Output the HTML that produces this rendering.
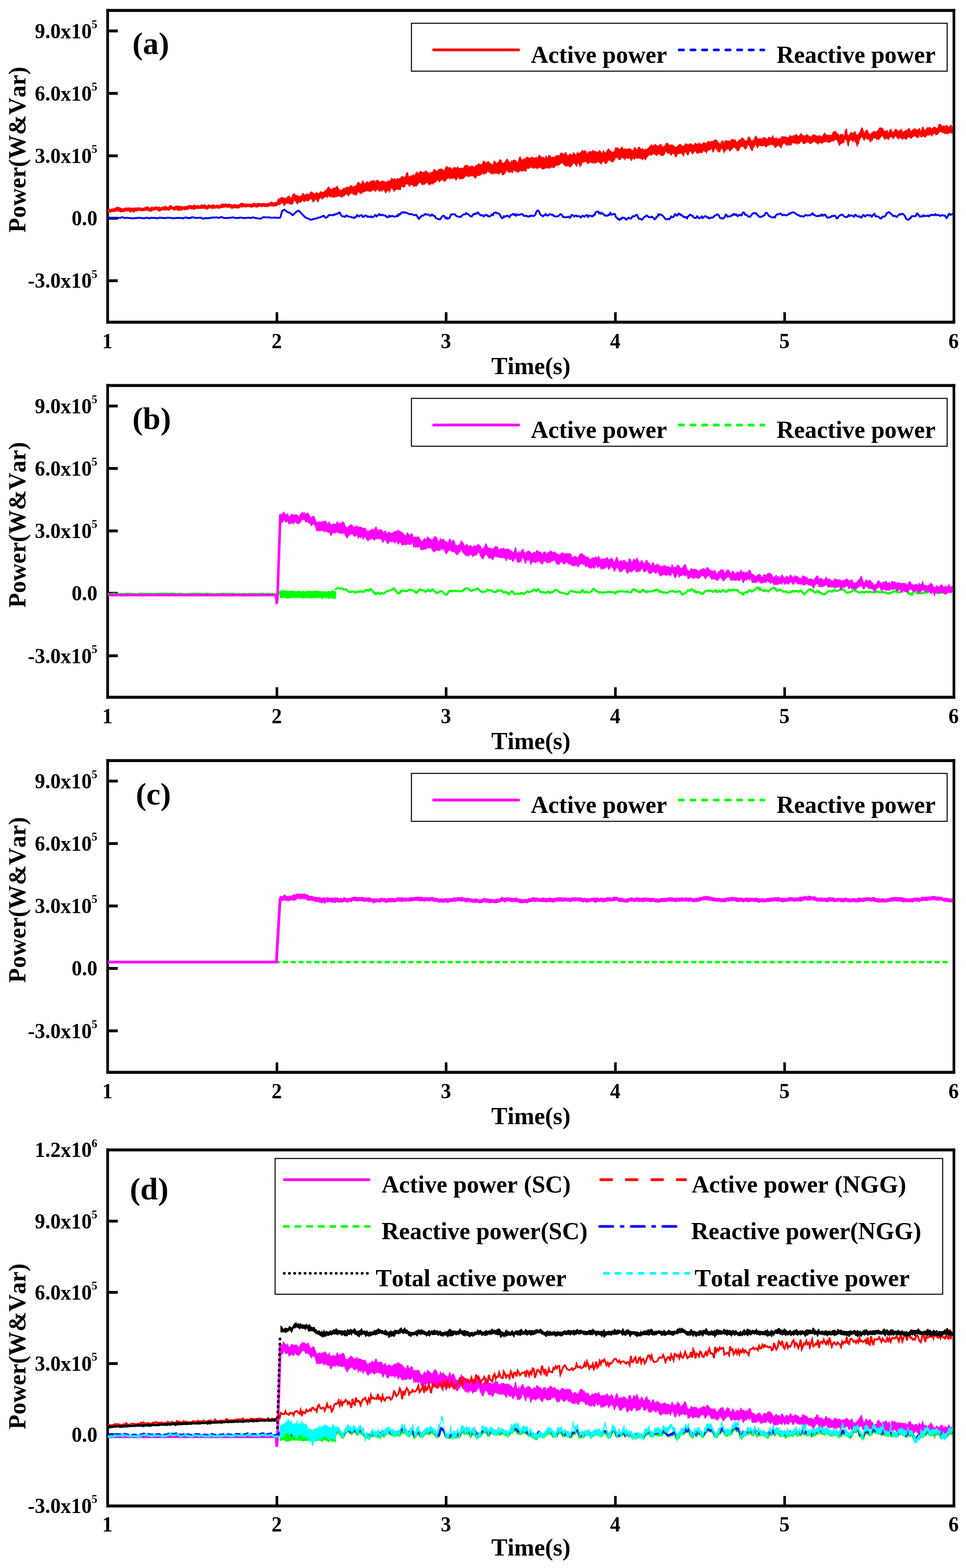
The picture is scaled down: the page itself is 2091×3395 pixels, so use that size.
<!DOCTYPE html>
<html><head><meta charset="utf-8"><title>Power figure</title>
<style>html,body{margin:0;padding:0;background:#fff}svg{display:block}text{fill:#000;font-kerning:none}</style>
</head><body>
<svg width="2091" height="3395" viewBox="0 0 2091 3395">
<rect width="2091" height="3395" fill="#fff"/>
<rect x="230.1" y="19.4" width="1837.6" height="6.4" fill="#000"/>
<rect x="230.1" y="694.4" width="1837.6" height="6.4" fill="#000"/>
<rect x="230.1" y="19.4" width="5.8" height="681.4" fill="#000"/>
<rect x="2061.9" y="19.4" width="5.8" height="681.4" fill="#000"/>
<rect x="596.6" y="676" width="5.6" height="21.6" fill="#000"/>
<rect x="962.9" y="676" width="5.6" height="21.6" fill="#000"/>
<rect x="1329.3" y="676" width="5.6" height="21.6" fill="#000"/>
<rect x="1695.6" y="676" width="5.6" height="21.6" fill="#000"/>
<rect x="233" y="63.9" width="21.9" height="6.2" fill="#000"/>
<rect x="233" y="199.1" width="21.9" height="6.2" fill="#000"/>
<rect x="233" y="334.3" width="21.9" height="6.2" fill="#000"/>
<rect x="233" y="469.5" width="21.9" height="6.2" fill="#000"/>
<rect x="233" y="604.7" width="21.9" height="6.2" fill="#000"/>
<text transform="translate(210.6,82.6) scale(0.975,1)" text-anchor="end" font-size="46" font-family="Liberation Serif, serif" font-weight="bold">9.0x10<tspan dy="-21.9" dx="-0.4" font-size="25.5">5</tspan></text>
<text transform="translate(210.6,217.8) scale(0.975,1)" text-anchor="end" font-size="46" font-family="Liberation Serif, serif" font-weight="bold">6.0x10<tspan dy="-21.9" dx="-0.4" font-size="25.5">5</tspan></text>
<text transform="translate(210.6,353) scale(0.975,1)" text-anchor="end" font-size="46" font-family="Liberation Serif, serif" font-weight="bold">3.0x10<tspan dy="-21.9" dx="-0.4" font-size="25.5">5</tspan></text>
<text transform="translate(211,488.2) scale(0.975,1)" text-anchor="end" font-size="46" font-family="Liberation Serif, serif" font-weight="bold">0.0</text>
<text transform="translate(210.6,623.4) scale(0.975,1)" text-anchor="end" font-size="46" font-family="Liberation Serif, serif" font-weight="bold">-3.0x10<tspan dy="-21.9" dx="-0.4" font-size="25.5">5</tspan></text>
<text transform="translate(232.5,753.9) scale(0.975,1)" text-anchor="middle" font-size="46" font-family="Liberation Serif, serif" font-weight="bold">1</text>
<text transform="translate(598.9,753.9) scale(0.975,1)" text-anchor="middle" font-size="46" font-family="Liberation Serif, serif" font-weight="bold">2</text>
<text transform="translate(965.2,753.9) scale(0.975,1)" text-anchor="middle" font-size="46" font-family="Liberation Serif, serif" font-weight="bold">3</text>
<text transform="translate(1331.6,753.9) scale(0.975,1)" text-anchor="middle" font-size="46" font-family="Liberation Serif, serif" font-weight="bold">4</text>
<text transform="translate(1697.9,753.9) scale(0.975,1)" text-anchor="middle" font-size="46" font-family="Liberation Serif, serif" font-weight="bold">5</text>
<text transform="translate(2064.3,753.9) scale(0.975,1)" text-anchor="middle" font-size="46" font-family="Liberation Serif, serif" font-weight="bold">6</text>
<text transform="translate(1149.2,810.1)" text-anchor="middle" font-size="52.3" font-family="Liberation Serif, serif" font-weight="bold">Time(s)</text>
<text transform="translate(55.3,324) rotate(-90)" text-anchor="middle" font-size="52.15" font-family="Liberation Serif, serif" font-weight="bold">Power(W&amp;Var)</text>
<text transform="translate(286.5,117.3)" font-size="68.5" font-family="Liberation Serif, serif" font-weight="bold">(a)</text>
<clipPath id="cp1"><rect x="233.0" y="22.6" width="1829.3000000000002" height="675"/></clipPath>
<g clip-path="url(#cp1)">
<path d="M233,452 235,452.1 237,452.5 239,452.7 241,452.2 243,450.8 245,451.7 247,450.7 249,449.5 251,449.3 253,448.1 255,447.4 257,448 259,449.1 261,449.5 263,450.5 265,451.2 267,450.7 269,451.1 271,448.4 273,449.9 275,449.5 277,449.1 279,449.2 281,448.9 283,450.3 285,449.6 287,449.4 289,450 291,449.3 293,449.2 295,449.7 297,449 299,448.7 301,449.6 303,448.7 305,450 307,449.2 309,450.4 311,449.3 313,448.5 315,448.2 317,446.8 319,447.1 321,447.3 323,449.7 325,449.8 327,448.6 329,447 331,448.5 333,448.3 335,447.3 337,447.3 339,446.2 341,447.7 343,448 345,447.6 347,448.8 349,448.9 351,446.8 353,447.2 355,447.5 357,445.6 359,445.7 361,447.5 363,447.8 365,447.4 367,444.3 369,444.3 371,444.2 373,446.9 375,447.1 377,448 379,446.2 381,444.7 383,446 385,444.5 387,446.2 389,445.1 391,446.3 393,446.3 395,447.3 397,447 399,446.7 401,445.9 403,446.2 405,445.4 407,444.7 409,444.5 411,443.6 413,444 415,445.2 417,445.1 419,444.1 421,442.6 423,444 425,445.3 427,443.7 429,444.2 431,445.1 433,445 435,443.3 437,442.1 439,443.4 441,444.2 443,441.1 445,444 447,444.4 449,445 451,442.9 453,442.1 455,444.3 457,444.1 459,443.3 461,442.3 463,442.7 465,444.2 467,444.1 469,443.3 471,442.7 473,443.8 475,444.1 477,442.8 479,441.4 481,441.2 483,440.3 485,441.9 487,440.5 489,439.6 491,441.8 493,442 495,440.4 497,440.7 499,442.4 501,442.2 503,443 505,442.8 507,442.2 509,441.4 511,442.3 513,443.4 515,443.5 517,441.9 519,441.4 521,439.8 523,439 525,439.4 527,440 529,439.9 531,441.2 533,440.4 535,441.3 537,440.7 539,440.9 541,440.7 543,441.8 545,442 547,439.9 549,438.5 551,439.4 553,440.4 555,440.5 557,439.4 559,439 561,439.8 563,439.4 565,440.3 567,440 569,439.4 571,439.7 573,439.3 575,440.4 577,440 579,439.8 581,439.9 583,438.8 585,438.1 587,436.2 589,436.6 591,438.5 593,438.5 595,437.5 597,437.5 599,437.7 601,430.9 603,428.8 605,430.2 607,428.2 609,426.7 611,426 613,428.4 615,427.2 617,428.7 619,428 621,427.7 623,424.1 625,423.8 627,424.3 629,427.9 631,427.2 633,420 635,420.5 637,417 639,421.8 641,421.2 643,422.7 645,422.8 647,424.5 649,425.1 651,423.1 653,422.9 655,416.4 657,418.7 659,421.1 661,421.6 663,418.4 665,419.5 667,419.4 669,420.2 671,416.4 673,415.1 675,414.3 677,417.2 679,416.9 681,420.1 683,417.6 685,415.3 687,417.4 689,418.5 691,417.4 693,414.3 695,414 697,415.6 699,415.5 701,415.6 703,410.9 705,412.6 707,408.8 709,406.7 711,402.6 713,406.9 715,407.5 717,409.8 719,408.5 721,405.9 723,406.5 725,405.9 727,405 729,403 731,401.6 733,407.2 735,410.5 737,410.4 739,411.1 741,410.3 743,405.9 745,408.5 747,405.5 749,406.1 751,404 753,404.4 755,405.9 757,402.2 759,400.7 761,401.6 763,402.8 765,405.1 767,400.8 769,403.2 771,401.1 773,396.6 775,394.1 777,393.5 779,397.6 781,398.2 783,395.3 785,389.3 787,392.9 789,396.9 791,396.5 793,392.5 795,392 797,394 799,394.7 801,393 803,390.2 805,392.4 807,389 809,391.8 811,389.4 813,393.9 815,389.7 817,388.4 819,390.5 821,392.8 823,393.3 825,391.5 827,391 829,391.5 831,391 833,393.9 835,392.7 837,394.5 839,390.7 841,391.8 843,390 845,390.5 847,384.7 849,385.4 851,387.9 853,386.3 855,385.4 857,389.5 859,386.1 861,385.3 863,386.9 865,385.4 867,385.6 869,380 871,382.4 873,382.1 875,382.5 877,383.1 879,374.6 881,372.7 883,373.3 885,382.7 887,380.7 889,380 891,379.8 893,379.9 895,375.6 897,380.5 899,375.3 901,373.4 903,370.1 905,376.4 907,372.4 909,371.1 911,369.6 913,371.9 915,373 917,372.1 919,371.9 921,367.9 923,369.7 925,372.2 927,371.5 929,376.2 931,371.2 933,374 935,371.5 937,371 939,365.5 941,366.5 943,367.8 945,370.6 947,368.9 949,366.6 951,365.6 953,366 955,364.4 957,366.3 959,366.1 961,369.9 963,364.4 965,360.9 967,359.3 969,360.5 971,362.4 973,362 975,362.8 977,362.2 979,367 981,362.7 983,361.4 985,362.2 987,362.4 989,363.1 991,359.8 993,363.2 995,364.3 997,363.5 999,362.8 1001,364 1003,363.1 1005,357.9 1007,357.9 1009,356.2 1011,357.3 1013,356.4 1015,361.4 1017,359.8 1019,358.6 1021,358.5 1023,359.5 1025,359.8 1027,361.6 1029,357.9 1031,357.3 1033,357.3 1035,354.1 1037,353.3 1039,355.7 1041,355 1043,356 1045,349.9 1047,347.1 1049,349.4 1051,350.5 1053,352.5 1055,349.9 1057,348.6 1059,350.7 1061,353.3 1063,353.8 1065,355.7 1067,355.8 1069,345.8 1071,350.1 1073,349.7 1075,354.2 1077,350.2 1079,351.1 1081,345.1 1083,345.5 1085,345.4 1087,352.3 1089,352.5 1091,352.4 1093,349.1 1095,346.1 1097,343.5 1099,344.3 1101,348.6 1103,350.7 1105,351 1107,346.4 1109,348.2 1111,346.1 1113,345.6 1115,345.9 1117,346.7 1119,350.6 1121,350.5 1123,342.3 1125,338.7 1127,339.1 1129,344.5 1131,345.7 1133,343.9 1135,343 1137,342.5 1139,340.7 1141,338.4 1143,340 1145,342.1 1147,341.2 1149,341.8 1151,337.9 1153,341.1 1155,341.2 1157,340.1 1159,342.6 1161,337.6 1163,343.9 1165,337.3 1167,335.9 1169,335 1171,339.4 1173,339.1 1175,341.1 1177,338.8 1179,343.4 1181,336.6 1183,337.5 1185,342.9 1187,335.9 1189,336.8 1191,334.9 1193,340.1 1195,340.7 1197,338.7 1199,339.1 1201,340.7 1203,335.8 1205,336.5 1207,336 1209,335.7 1211,336.7 1213,329.8 1215,331.9 1217,329.4 1219,333.9 1221,332.7 1223,329.8 1225,329 1227,333.3 1229,336.8 1231,335.4 1233,332 1235,332.9 1237,335.5 1239,333.9 1241,329 1243,330.8 1245,333.7 1247,335 1249,328.8 1251,331 1253,331.1 1255,331.1 1257,328.5 1259,327.1 1261,323.4 1263,328 1265,324.1 1267,327.3 1269,325.6 1271,332.4 1273,329.6 1275,326.7 1277,327.8 1279,327.5 1281,327.7 1283,325 1285,325.1 1287,327.4 1289,326.8 1291,328.1 1293,328.8 1295,327.9 1297,324.6 1299,325.3 1301,328.3 1303,331.7 1305,325.9 1307,324.6 1309,330.1 1311,330.2 1313,327.2 1315,322.9 1317,320.7 1319,323.6 1321,324.9 1323,327.5 1325,328.3 1327,329 1329,327.3 1331,321.7 1333,317.7 1335,320.5 1337,318.3 1339,321 1341,322.6 1343,320.7 1345,319 1347,316.3 1349,322.8 1351,320.3 1353,323.1 1355,321.1 1357,322.4 1359,321.6 1361,321.7 1363,320 1365,322.4 1367,323 1369,326.3 1371,322.9 1373,317.8 1375,319 1377,322.1 1379,324 1381,318 1383,318.3 1385,317.8 1387,322.1 1389,322 1391,320.8 1393,322.9 1395,323.7 1397,321.7 1399,323.2 1401,321.6 1403,320.3 1405,317.5 1407,315.2 1409,313.8 1411,311.4 1413,317 1415,312 1417,313.8 1419,310.9 1421,315.1 1423,314.1 1425,316.5 1427,313.2 1429,311.8 1431,311.7 1433,314.9 1435,317.5 1437,317.1 1439,314.3 1441,310.6 1443,309.1 1445,309 1447,311.6 1449,313.9 1451,312.8 1453,312.9 1455,311.9 1457,315.4 1459,313.5 1461,318.2 1463,316.9 1465,317.7 1467,315 1469,313 1471,312 1473,311.9 1475,313 1477,316 1479,315.8 1481,314.8 1483,310.1 1485,311.2 1487,310.7 1489,312.7 1491,312.4 1493,309.3 1495,310.8 1497,311.9 1499,311.9 1501,314.2 1503,311.8 1505,308.1 1507,310.8 1509,310.6 1511,311.8 1513,306.6 1515,311.8 1517,310.2 1519,312.4 1521,309.9 1523,307.2 1525,308.9 1527,308.4 1529,310.4 1531,306.5 1533,304.4 1535,306.6 1537,306 1539,306.5 1541,304.4 1543,306.5 1545,303.3 1547,302.4 1549,301.8 1551,302.9 1553,304 1555,307.8 1557,309.6 1559,311.3 1561,305.9 1563,304.2 1565,303.1 1567,309.5 1569,304.4 1571,303.6 1573,304.1 1575,304.5 1577,303.8 1579,305.6 1581,304.2 1583,301.3 1585,301.1 1587,301.5 1589,301.7 1591,302 1593,303.4 1595,307.4 1597,305.9 1599,303 1601,301.4 1603,302.7 1605,297.6 1607,298.6 1609,298.4 1611,301.9 1613,304 1615,304.3 1617,303.5 1619,296.5 1621,295.4 1623,296.9 1625,300 1627,304.6 1629,304.2 1631,302.5 1633,299.3 1635,292.8 1637,294.7 1639,297.7 1641,300.4 1643,299.4 1645,299.5 1647,298.6 1649,302 1651,297.1 1653,297 1655,298 1657,297.4 1659,299.5 1661,300.9 1663,296.1 1665,296.9 1667,296.8 1669,298.4 1671,295.3 1673,291.7 1675,298.9 1677,297.5 1679,299.8 1681,296.8 1683,300.5 1685,300.1 1687,298.7 1689,299.9 1691,296.2 1693,294.7 1695,295.2 1697,295.6 1699,295.4 1701,295.6 1703,296.6 1705,297 1707,297.3 1709,293.5 1711,292.1 1713,295.1 1715,295 1717,292.4 1719,293 1721,292.3 1723,289.9 1725,291.2 1727,293.9 1729,294.6 1731,291.7 1733,288.8 1735,287.7 1737,293 1739,291.8 1741,294.5 1743,293.2 1745,290.6 1747,291.6 1749,290.8 1751,295 1753,293.8 1755,295.9 1757,294.2 1759,290.5 1761,292.2 1763,290.7 1765,292.4 1767,292.5 1769,294.1 1771,294.6 1773,292.2 1775,292.4 1777,295.8 1779,294.5 1781,291.8 1783,289.7 1785,286.6 1787,290.2 1789,290.9 1791,292 1793,292.4 1795,291.2 1797,292.7 1799,292.4 1801,289.5 1803,285.3 1805,284 1807,284.2 1809,284.2 1811,285.7 1813,290 1815,288.7 1817,293.8 1819,289.9 1821,290.4 1823,290.3 1825,289.9 1827,294.7 1829,281.4 1831,279.8 1833,277.2 1835,291.7 1837,293.2 1839,289.2 1841,287 1843,284.8 1845,288.1 1847,287.1 1849,285 1851,282.9 1853,288.6 1855,291.9 1857,291.6 1859,287.2 1861,285.5 1863,280.3 1865,275.3 1867,276.7 1869,281.2 1871,288.6 1873,282.6 1875,282.2 1877,278.9 1879,284.5 1881,288.3 1883,289.9 1885,289.4 1887,285.2 1889,286 1891,283 1893,285.2 1895,282.8 1897,286.2 1899,282.1 1901,281.1 1903,276.1 1905,276.3 1907,275.7 1909,277.2 1911,276.5 1913,281.8 1915,284 1917,282.9 1919,282.5 1921,281 1923,288 1925,281.9 1927,279.9 1929,277.7 1931,284.5 1933,284.5 1935,285.2 1937,278.4 1939,279.5 1941,279.8 1943,282 1945,283.7 1947,281.7 1949,280.9 1951,277.6 1953,283.4 1955,285.3 1957,284.3 1959,282 1961,281.4 1963,281.7 1965,278.5 1967,277.3 1969,277.8 1971,281.7 1973,283.9 1975,280 1977,279.4 1979,277.6 1981,277.9 1983,279.3 1985,281.2 1987,279.9 1989,277.8 1991,277 1993,284 1995,277.6 1997,274.1 1999,274.7 2001,280.9 2003,280.7 2005,278.4 2007,274.3 2009,277.7 2011,274.3 2013,274.5 2015,278.2 2017,277.4 2019,275.6 2021,275.5 2023,274.1 2025,275.2 2027,276.9 2029,277.5 2031,271.6 2033,267.6 2035,268.3 2037,268.8 2039,273.4 2041,271.9 2043,271.7 2045,273 2047,271.6 2049,270.3 2051,272.8 2053,273.5 2055,274.5 2057,270.7 2059,268.9 2061,274.8 2063,276 L2063,292.5 2061,289.3 2059,288.5 2057,288.4 2055,288.2 2053,289.8 2051,291.6 2049,289.7 2047,289.6 2045,291 2043,288.2 2041,288.3 2039,287.4 2037,286.2 2035,285.3 2033,286.9 2031,290.5 2029,292.2 2027,292.4 2025,293.1 2023,288.5 2021,291.2 2019,292.3 2017,296.8 2015,292.2 2013,292 2011,294.1 2009,293.3 2007,293.2 2005,295.3 2003,299 2001,296.8 1999,294.5 1997,297.1 1995,296.4 1993,298.5 1991,291.7 1989,299.5 1987,297.2 1985,299.5 1983,298 1981,294.6 1979,295.4 1977,296.2 1975,297.8 1973,300.6 1971,299.7 1969,299.1 1967,296.4 1965,297.7 1963,302.6 1961,302.2 1959,301.7 1957,299.3 1955,301.2 1953,303.5 1951,299 1949,299.9 1947,298.1 1945,302.4 1943,300.6 1941,298.6 1939,294.5 1937,296.3 1935,300.5 1933,301.2 1931,299.3 1929,295.8 1927,297.7 1925,300.9 1923,303.8 1921,301.3 1919,299.3 1917,301.9 1915,302.6 1913,301.1 1911,294.2 1909,296 1907,296.5 1905,300.9 1903,301.5 1901,304.1 1899,301.2 1897,303.2 1895,298 1893,301.1 1891,298 1889,304.5 1887,303.9 1885,308 1883,307.8 1881,302 1879,302.4 1877,302.5 1875,299.4 1873,300.6 1871,305.6 1869,303.3 1867,298.2 1865,296.5 1863,301 1861,302.8 1859,312.4 1857,313.5 1855,319.4 1853,311.3 1851,307.4 1849,303 1847,309 1845,305.4 1843,305.4 1841,302.5 1839,307 1837,317 1835,316.3 1833,307.6 1831,302.6 1829,302.1 1827,310.7 1825,308.8 1823,311 1821,311.7 1819,312.7 1817,317 1815,313 1813,307.2 1811,302.7 1809,302.9 1807,303.2 1805,305.9 1803,306 1801,306.3 1799,306.8 1797,309 1795,309.1 1793,309.3 1791,308.7 1789,306.3 1787,308.6 1785,307.3 1783,308.2 1781,310 1779,311.7 1777,310.2 1775,309.4 1773,309.1 1771,313.9 1769,311 1767,310.1 1765,309.6 1763,306 1761,308.3 1759,309 1757,310.3 1755,311.7 1753,312 1751,309.6 1749,308.4 1747,308.2 1745,309.4 1743,310.8 1741,312 1739,312.2 1737,309.5 1735,306.4 1733,307.6 1731,312.4 1729,311.1 1727,310.4 1725,314.3 1723,311.3 1721,310.3 1719,311.3 1717,310.3 1715,309.3 1713,315.4 1711,314 1709,315.1 1707,313.3 1705,316.3 1703,314.8 1701,315.2 1699,311.3 1697,310.7 1695,311.9 1693,316.3 1691,322.3 1689,319.7 1687,316.7 1685,316.1 1683,315.4 1681,318.1 1679,321 1677,319.1 1675,316.9 1673,313.3 1671,314.1 1669,314.3 1667,313.1 1665,315.9 1663,315.5 1661,316.3 1659,319.2 1657,318.9 1655,315.1 1653,316.6 1651,316 1649,317.3 1647,315.9 1645,315.9 1643,315.2 1641,320.7 1639,321.4 1637,316.8 1635,312.8 1633,318.7 1631,319.5 1629,327.3 1627,326.7 1625,323.8 1623,319.3 1621,314.6 1619,315.1 1617,319.7 1615,323.2 1613,324.3 1611,321.6 1609,317.9 1607,317.8 1605,317.6 1603,319.6 1601,323.3 1599,327.3 1597,327.4 1595,327 1593,322.1 1591,321.5 1589,319 1587,321.1 1585,323.5 1583,324.6 1581,327.1 1579,328.5 1577,322.4 1575,323.8 1573,323.8 1571,326.2 1569,328.6 1567,333.2 1565,325.9 1563,323.2 1561,321.6 1559,329.7 1557,329.3 1555,330.6 1553,327.6 1551,324.5 1549,320.9 1547,323.6 1545,329.3 1543,330.4 1541,324.5 1539,322.6 1537,326.3 1535,325.9 1533,325.2 1531,328.5 1529,333.9 1527,327.9 1525,329.5 1523,326.6 1521,330.3 1519,331.4 1517,331.5 1515,330.8 1513,331.2 1511,334.1 1509,331.9 1507,331.5 1505,327.6 1503,328.6 1501,333.3 1499,334.5 1497,332 1495,328.2 1493,328 1491,334.2 1489,337.5 1487,334.8 1485,331.5 1483,328.9 1481,335.9 1479,339.7 1477,334.8 1475,333.3 1473,332.6 1471,333.5 1469,333.1 1467,334.5 1465,339.2 1463,341 1461,338.9 1459,333.5 1457,333.2 1455,333.3 1453,338.1 1451,335.3 1449,332.4 1447,332.2 1445,333.3 1443,330.1 1441,328.5 1439,334.3 1437,335.9 1435,337.7 1433,338 1431,336.9 1429,336.6 1427,334.1 1425,334.6 1423,335.9 1421,338.8 1419,335 1417,335.9 1415,332.6 1413,335.4 1411,335.2 1409,338 1407,335.5 1405,336 1403,339.2 1401,340 1399,345.1 1397,347.6 1395,343.8 1393,343.3 1391,347.8 1389,344.9 1387,345 1385,342.6 1383,343.9 1381,343.3 1379,343.7 1377,342.7 1375,342.9 1373,347.3 1371,342.5 1369,345.6 1367,349 1365,346.9 1363,342.8 1361,343.3 1359,344.4 1357,342.7 1355,343.1 1353,348 1351,343.8 1349,344 1347,340.7 1345,343.6 1343,346.4 1341,346 1339,346.4 1337,342.8 1335,341.4 1333,341.9 1331,346.3 1329,348.7 1327,351.3 1325,351.4 1323,350.7 1321,348.7 1319,347.1 1317,348.2 1315,350.9 1313,355.1 1311,354.9 1309,354.1 1307,349.2 1305,350.1 1303,354.1 1301,356.7 1299,353.3 1297,352.8 1295,350 1293,352.4 1291,351.4 1289,354.4 1287,354.5 1285,352.3 1283,354.3 1281,353.4 1279,352.2 1277,351.4 1275,353.7 1273,355.6 1271,355 1269,349.9 1267,351.5 1265,349.9 1263,353.7 1261,350.4 1259,358.2 1257,358.5 1255,363.9 1253,353.8 1251,353.8 1249,361 1247,361 1245,356.2 1243,354.2 1241,353.4 1239,357.7 1237,359.7 1235,362.5 1233,362.6 1231,359.6 1229,360.1 1227,359.9 1225,360.6 1223,360.2 1221,356.7 1219,356.7 1217,351.9 1215,355.7 1213,354.3 1211,358.1 1209,358.6 1207,358.6 1205,359.2 1203,358.9 1201,362.3 1199,364.1 1197,364.2 1195,361.9 1193,363.6 1191,363.4 1189,366.4 1187,363.8 1185,365.3 1183,364.3 1181,363.6 1179,366.5 1177,365.4 1175,368.2 1173,365.4 1171,365 1169,361.9 1167,365.2 1165,362.9 1163,367.6 1161,364.3 1159,364.8 1157,363.5 1155,365.8 1153,364.7 1151,363.6 1149,362.5 1147,364.3 1145,365.3 1143,366 1141,364.3 1139,371.7 1137,371.7 1135,370.3 1133,369.1 1131,371.2 1129,371.7 1127,369.6 1125,371.3 1123,372.5 1121,374.4 1119,373.3 1117,371.1 1115,372.8 1113,367.7 1111,372 1109,376.3 1107,371.7 1105,375.3 1103,372.7 1101,374.1 1099,372.2 1097,368.8 1095,374.2 1093,375.3 1091,379.3 1089,378.9 1087,379.9 1085,374.5 1083,374.2 1081,376.9 1079,378.1 1077,374.9 1075,377.4 1073,374.1 1071,378.4 1069,374.6 1067,377.9 1065,377 1063,377.6 1061,374.5 1059,374.5 1057,371.4 1055,372.5 1053,376.2 1051,376.7 1049,375.9 1047,379.9 1045,374.8 1043,377.7 1041,379.3 1039,380.2 1037,381 1035,381 1033,380.3 1031,385.1 1029,387 1027,385.8 1025,382.5 1023,381.7 1021,380.8 1019,383.4 1017,381.2 1015,383.8 1013,382.7 1011,382.3 1009,380.1 1007,384.3 1005,384.9 1003,387.8 1001,387.3 999,388.7 997,387.5 995,389.5 993,385.1 991,385.6 989,388.6 987,392.1 985,388.1 983,386 981,386.5 979,388.6 977,385.5 975,388.4 973,388.1 971,385.8 969,387.3 967,388.2 965,393.8 963,392.2 961,393.8 959,390.5 957,388.8 955,391.2 953,392.1 951,396.5 949,391.6 947,390.3 945,393.3 943,394.4 941,397 939,396.6 937,400.7 935,396.4 933,401.2 931,398.1 929,403 927,398.7 925,395.9 923,396.7 921,397.2 919,401 917,398.9 915,401.9 913,399.8 911,397.5 909,395.5 907,396.4 905,400.3 903,401.3 901,405.3 899,402.6 897,404.3 895,404.9 893,400.7 891,400.8 889,400.7 887,403.9 885,404.4 883,398.7 881,399.8 879,399 877,404.6 875,405.8 873,406.2 871,404.7 869,404.2 867,412.6 865,410.3 863,412 861,410.7 859,410.3 857,411.4 855,412.3 853,416.6 851,411.8 849,409 847,406.9 845,413.8 843,418.8 841,413 839,412.9 837,416.3 835,418.8 833,416.6 831,411.8 829,411.2 827,415.9 825,412.4 823,415.2 821,414.8 819,413.6 817,410.3 815,412.7 813,416.5 811,412.4 809,413.8 807,411.3 805,415.1 803,413.7 801,416.7 799,413.7 797,415 795,414.1 793,413 791,415.6 789,415.2 787,417.3 785,415.9 783,421.2 781,419 779,420.2 777,415.9 775,416.3 773,422.4 771,422.4 769,423.7 767,421.5 765,422 763,419.8 761,419.1 759,419.6 757,422.1 755,425.8 753,423.8 751,420.4 749,421.5 747,422.1 745,426 743,424.7 741,428.4 739,427.3 737,426.7 735,425.5 733,425.6 731,425.2 729,427 727,425.6 725,428.2 723,427.8 721,428 719,426.9 717,427.8 715,426.2 713,427.3 711,423.3 709,430.2 707,426.5 705,427 703,427.1 701,429.7 699,430 697,433 695,428.5 693,429.6 691,432.1 689,438.6 687,438.1 685,433.1 683,431.6 681,437 679,435.6 677,439.6 675,432.6 673,431 671,431.9 669,435 667,435.3 665,436.8 663,434.4 661,435.4 659,437.7 657,437.3 655,433.4 653,436.9 651,439.3 649,439.2 647,437.7 645,442 643,442.5 641,439.7 639,436 637,434.5 635,439.5 633,443.7 631,442 629,443.4 627,442.8 625,441 623,440.6 621,441.4 619,440.8 617,444.8 615,446.6 613,442.7 611,439.6 609,440.5 607,443.5 605,444.4 603,442.6 601,446.1 599,445.6 597,447.1 595,446.7 593,446.5 591,448 589,445.7 587,447.1 585,445.7 583,446.9 581,447.8 579,449.1 577,447.8 575,448.2 573,448.6 571,446.8 569,447.5 567,449.1 565,447.9 563,447.1 561,448 559,448.4 557,448.8 555,449.9 553,448.5 551,448.2 549,447.4 547,449.4 545,449.5 543,450.1 541,448.7 539,448.2 537,447.9 535,448.3 533,449.6 531,449 529,448.7 527,448.2 525,449.4 523,449.1 521,448.5 519,449.9 517,451.4 515,451.6 513,451.1 511,451.4 509,450.4 507,450.4 505,451.4 503,452 501,452.1 499,450.6 497,449.5 495,449.7 493,449.8 491,450.1 489,448.8 487,448.4 485,450.4 483,449.6 481,450.3 479,450.9 477,451 475,451.2 473,452.6 471,451.2 469,450.9 467,451.5 465,452.1 463,451.5 461,452.4 459,452.4 457,451.6 455,451.1 453,451.6 451,451.9 449,454 447,453.9 445,452.5 443,451.8 441,453 439,451.3 437,452.3 435,452.5 433,452.2 431,452.5 429,452.3 427,452.3 425,452.6 423,452.3 421,454.9 419,453.6 417,453.8 415,453.2 413,452.5 411,453.1 409,452.1 407,455.2 405,454.3 403,454.6 401,455.1 399,455.3 397,453.7 395,455 393,455.4 391,456.9 389,456.1 387,456.3 385,457.1 383,455.5 381,453.3 379,455.7 377,456.7 375,454.7 373,454 371,452.6 369,453.7 367,455.8 365,456.5 363,456.1 361,454.7 359,455.5 357,455.8 355,456.2 353,455 351,454.9 349,456.9 347,457.1 345,458.2 343,457.3 341,456.7 339,454.3 337,454.5 335,455.4 333,456.6 331,455.7 329,456.8 327,459.1 325,458.8 323,456.7 321,457.9 319,456 317,456.8 315,456 313,457 311,457.1 309,457.2 307,457.8 305,457.1 303,456.6 301,457 299,456.5 297,457.2 295,459 293,457.2 291,459.3 289,461 287,459.5 285,457.3 283,459.9 281,460.3 279,457.3 277,457.3 275,457.3 273,458.2 271,457.4 269,459.4 267,459.3 265,459.5 263,458.8 261,460.3 259,458.7 257,458 255,457.8 253,457.5 251,457.9 249,459.2 247,459.3 245,458.9 243,458.8 241,459.6 239,460.5 237,459.7 235,461.2 233,459.6Z" fill="#ff0000"/>
<path d="M233,471.1 235,471.3 237,471.8 239,471.4 241,471.7 243,471.8 245,471.7 247,471.7 249,472.6 251,473.2 253,472.6 255,471.9 257,471.4 259,471.9 261,471.3 263,470.8 265,470.2 267,471 269,471.9 271,471.9 273,471.7 275,471.4 277,471.8 279,471.9 281,472.2 283,472.3 285,472.8 287,473.1 289,472.4 291,472.5 293,472.1 295,472.4 297,471.6 299,471.7 301,471.4 303,471.7 305,471.7 307,472.2 309,472.5 311,472.6 313,472.5 315,472 317,471.1 319,471.7 321,471.9 323,472.9 325,472.1 327,471.5 329,471.3 331,471.9 333,471.9 335,471.7 337,472 339,472.7 341,472.6 343,472.3 345,471.1 347,471.5 349,471.2 351,472.1 353,471.7 355,472 357,472.3 359,472.2 361,471.6 363,471.2 365,471.2 367,471.6 369,471.8 371,471.9 373,472.4 375,472.8 377,472.5 379,472.2 381,471.9 383,471.8 385,471.8 387,471.9 389,471.7 391,471.7 393,472.1 395,472.8 397,472.6 399,471.3 401,471 403,470.8 405,471.9 407,471.6 409,472.7 411,471.8 413,471.9 415,470.3 417,470.6 419,470.5 421,471.5 423,471.8 425,472 427,471.5 429,471.7 431,471.6 433,471.3 435,471.4 437,472.3 439,473.4 441,473.6 443,472.5 445,472.2 447,471.8 449,472.9 451,472.5 453,472.3 455,471.6 457,471.8 459,471 461,471.2 463,470.8 465,471 467,470.7 469,470.5 471,471.4 473,471.4 475,471.5 477,470.4 479,470.1 481,470.3 483,471.5 485,471.8 487,472.2 489,471.7 491,472.2 493,472.5 495,471.7 497,471.3 499,471.4 501,471.3 503,470.8 505,470.6 507,471.1 509,472 511,472.3 513,472 515,471.7 517,471.5 519,471.5 521,470.9 523,471 525,471.9 527,472.3 529,471.8 531,471.9 533,471.7 535,471.7 537,471.1 539,471.2 541,472.1 543,472 545,471.5 547,470.5 549,470.8 551,471.6 553,472.2 555,472.3 557,472.5 559,472.9 561,473.6 563,473.6 565,472.9 567,471.7 569,470.6 571,470.3 573,470.4 575,470.4 577,470.8 579,470.4 581,470.7 583,470.5 585,471 587,471.5 589,471.4 591,471.3 593,471.3 595,471 597,471.3 599,471.4 601,471.9 603,471.6 605,471.4 607,470.8 609,463.2 611,456 613,455.6 615,454 617,454.9 619,456.5 621,458 623,459.6 625,459.9 627,460.9 629,461.8 631,464 633,466 635,464.9 637,462.4 639,461 641,458.6 643,457.6 645,456.2 647,456.3 649,458.4 651,460.7 653,462.7 655,464.9 657,466.8 659,468.8 661,470.8 663,471.9 665,472.7 667,473.2 669,473.9 671,475.2 673,476 675,475.4 677,475 679,473.8 681,473.8 683,473.3 685,473.2 687,472 689,471.4 691,470.7 693,470.5 695,469.7 697,468.5 699,467.9 701,467.1 703,470 705,471.4 707,471 709,469.3 711,466.3 713,465.4 715,466 717,465.7 719,465.7 721,466.2 723,464 725,464.9 727,463.9 729,462.8 731,462.7 733,461.1 735,459.6 737,463.1 739,466.9 741,468.8 743,468.5 745,468.5 747,469.9 749,466.7 751,466.2 753,468.7 755,469.1 757,469.3 759,469.5 761,470.2 763,471.4 765,470.6 767,472.3 769,469.9 771,469.6 773,465.3 775,467 777,468.7 779,467.3 781,466.3 783,465.5 785,469.9 787,469.3 789,467.8 791,466.2 793,466.8 795,469.6 797,468.6 799,469.7 801,469.4 803,468.4 805,470.7 807,469.6 809,469.2 811,466.4 813,465.5 815,469.1 817,466.7 819,465.3 821,463.1 823,466.1 825,466 827,464.7 829,465.2 831,466.8 833,466.4 835,467.6 837,469.7 839,470.8 841,469.2 843,466.7 845,469.5 847,468 849,467.3 851,468.5 853,468.8 855,469.1 857,468.8 859,467.1 861,468.1 863,463.4 865,465.2 867,462.9 869,460 871,460.5 873,459.2 875,460.9 877,459.7 879,460.4 881,461.2 883,461.8 885,463.4 887,463.8 889,463.5 891,463.7 893,464 895,465.5 897,466.2 899,465.4 901,465 903,468.2 905,471.4 907,474.4 909,470.5 911,469.8 913,466.7 915,466.8 917,466.8 919,464 921,463.1 923,465 925,464.5 927,464.1 929,465.8 931,467.3 933,466.7 935,464.1 937,466.6 939,467.3 941,467.6 943,471.6 945,472.8 947,473.7 949,473.9 951,475.2 953,474.8 955,471.7 957,468.7 959,467.3 961,466.9 963,470.4 965,472.8 967,470.8 969,473.8 971,472.7 973,472.3 975,466.9 977,463.8 979,464.4 981,464 983,463.9 985,464 987,467 989,468.4 991,468.9 993,469 995,469.6 997,469.9 999,467.7 1001,466.2 1003,464.5 1005,464.1 1007,464.2 1009,461.1 1011,463 1013,463.6 1015,465.3 1017,467.1 1019,468.6 1021,468.8 1023,465.8 1025,463.3 1027,464.4 1029,461.9 1031,463.3 1033,460.5 1035,460 1037,463.3 1039,465.2 1041,466.5 1043,465.2 1045,466.9 1047,468.9 1049,466.4 1051,465 1053,466.2 1055,465.8 1057,468.8 1059,468.4 1061,468.5 1063,466.3 1065,463.9 1067,466.2 1069,460.9 1071,461 1073,459.7 1075,461.2 1077,462.1 1079,461.9 1081,463.5 1083,466.8 1085,470.7 1087,472.6 1089,471.1 1091,467.8 1093,469.4 1095,468.4 1097,466.5 1099,468.2 1101,468 1103,470.4 1105,466.1 1107,465.3 1109,464.2 1111,463 1113,465.6 1115,463.8 1117,467.2 1119,464.1 1121,465.1 1123,465.2 1125,465.2 1127,463.9 1129,463.6 1131,463.8 1133,466.5 1135,468 1137,467.2 1139,467.5 1141,467.6 1143,469.6 1145,468.9 1147,467.1 1149,468.1 1151,466.6 1153,467.4 1155,467.9 1157,466.6 1159,464.2 1161,458.9 1163,455.9 1165,455.6 1167,458.4 1169,463.4 1171,465.9 1173,466.4 1175,468.6 1177,466.5 1179,466.1 1181,463 1183,465.8 1185,467.1 1187,465.5 1189,464.8 1191,463.8 1193,464.4 1195,465.5 1197,464.8 1199,468.4 1201,468 1203,468.6 1205,469.1 1207,468 1209,467.6 1211,466 1213,463.4 1215,464.5 1217,466 1219,470.3 1221,469.7 1223,470.5 1225,470.6 1227,470.7 1229,469.2 1231,469.1 1233,471.8 1235,470.3 1237,465.7 1239,465.3 1241,466.9 1243,469.3 1245,467.5 1247,466.5 1249,468.5 1251,467.8 1253,468.2 1255,468.6 1257,471.2 1259,469.1 1261,466.8 1263,467.9 1265,469.6 1267,467.4 1269,465.7 1271,465.5 1273,469.9 1275,467.1 1277,466.8 1279,467.4 1281,468.1 1283,468.7 1285,465.2 1287,465.6 1289,460 1291,458.9 1293,458.2 1295,458.3 1297,462.3 1299,460.3 1301,462.9 1303,460.9 1305,463.3 1307,464 1309,467 1311,466.6 1313,466.8 1315,467.2 1317,464.8 1319,465.8 1321,460.6 1323,464.4 1325,464.8 1327,463.5 1329,463.5 1331,463.2 1333,469.8 1335,471.1 1337,474 1339,473.7 1341,476.7 1343,473.6 1345,474.5 1347,471 1349,471.4 1351,471.5 1353,472.9 1355,475.5 1357,475 1359,472.4 1361,471.1 1363,472.6 1365,473.4 1367,472.5 1369,468.2 1371,468.2 1373,468.7 1375,467.2 1377,465.3 1379,465 1381,470.4 1383,473.9 1385,473.3 1387,474.2 1389,475.9 1391,474.5 1393,471.3 1395,469.7 1397,469 1399,466.4 1401,467 1403,469.3 1405,470.4 1407,470.2 1409,470.3 1411,468.9 1413,470.9 1415,472.1 1417,475 1419,473.4 1421,469.7 1423,469.5 1425,463.7 1427,465.8 1429,464.2 1431,464.5 1433,466.2 1435,467.5 1437,469.9 1439,472.4 1441,474.7 1443,475.3 1445,474.5 1447,473.4 1449,474.9 1451,471.7 1453,468.4 1455,470.6 1457,470.1 1459,468.5 1461,463.6 1463,464.6 1465,467.1 1467,465.7 1469,462.3 1471,462.7 1473,465.7 1475,465 1477,467.9 1479,468.5 1481,470.9 1483,469.7 1485,470 1487,473.3 1489,468.7 1491,467.8 1493,465.1 1495,464.8 1497,467 1499,466.7 1501,470.5 1503,471.5 1505,472.2 1507,471.4 1509,468 1511,470.5 1513,472.5 1515,472.3 1517,470.7 1519,468.3 1521,472.4 1523,470.5 1525,468.8 1527,467.8 1529,468.8 1531,471.3 1533,470.3 1535,473 1537,472.5 1539,470.8 1541,471.4 1543,470.9 1545,469.3 1547,467 1549,466.6 1551,464.7 1553,464.3 1555,465 1557,468.7 1559,472 1561,472.6 1563,472.6 1565,473.6 1567,471.9 1569,469.5 1571,464.2 1573,465.9 1575,469.5 1577,468.6 1579,468.8 1581,467.9 1583,467.6 1585,464.8 1587,465.5 1589,462.9 1591,465.7 1593,463.6 1595,466.5 1597,468.3 1599,465.4 1601,465.9 1603,465.1 1605,466.7 1607,461.9 1609,459.6 1611,460.5 1613,465.1 1615,464.8 1617,466 1619,468.3 1621,469.3 1623,469.8 1625,467.2 1627,465.4 1629,462.5 1631,461.5 1633,461.1 1635,462.7 1637,461.4 1639,465.4 1641,466.2 1643,469.4 1645,469.7 1647,469.4 1649,469.4 1651,468 1653,466.7 1655,466.1 1657,461.2 1659,460.3 1661,462.4 1663,465.1 1665,468.1 1667,468.2 1669,470.3 1671,470.9 1673,470.6 1675,469.6 1677,471.1 1679,467.4 1681,464.6 1683,463.8 1685,464.3 1687,463.4 1689,461.8 1691,463.2 1693,466 1695,465.4 1697,464.9 1699,465.5 1701,466.3 1703,466.2 1705,465 1707,464.1 1709,462 1711,462.7 1713,460.5 1715,460.2 1717,459.6 1719,460.4 1721,460.9 1723,463.2 1725,464.4 1727,465.7 1729,465.5 1731,467.7 1733,468.4 1735,467.7 1737,468.3 1739,469.3 1741,468.3 1743,465.4 1745,465.6 1747,466.9 1749,466.2 1751,466.3 1753,466.6 1755,464.4 1757,464.4 1759,461.4 1761,465.3 1763,465.3 1765,466.9 1767,468.1 1769,468 1771,467.3 1773,468 1775,465.7 1777,467.1 1779,464 1781,467.1 1783,466.4 1785,464.5 1787,465.7 1789,469.2 1791,471.6 1793,470.9 1795,470.5 1797,470.7 1799,469.2 1801,467.3 1803,468.3 1805,466.9 1807,466.7 1809,468.9 1811,473 1813,472.4 1815,468.9 1817,467.1 1819,466.2 1821,464.8 1823,464.4 1825,466.6 1827,468.1 1829,469.3 1831,470 1833,470 1835,469 1837,465 1839,467.7 1841,466.8 1843,466.1 1845,467 1847,468.2 1849,469.5 1851,464.9 1853,465.6 1855,467.7 1857,469.1 1859,468.3 1861,468.4 1863,471.3 1865,470.7 1867,467.3 1869,465.2 1871,467.4 1873,468.8 1875,466.5 1877,465.5 1879,466.2 1881,466.7 1883,465.4 1885,467.1 1887,469.7 1889,466.4 1891,464.3 1893,462.9 1895,468.5 1897,468.2 1899,468.7 1901,468.9 1903,470.6 1905,472.6 1907,473.3 1909,470.6 1911,468.8 1913,469.7 1915,468.6 1917,466.9 1919,461.8 1921,461.2 1923,459.4 1925,459.3 1927,461.8 1929,463.6 1931,464.9 1933,467.9 1935,467.4 1937,467.2 1939,469 1941,469.9 1943,467.7 1945,465.5 1947,463.6 1949,465 1951,463.4 1953,463.1 1955,463.2 1957,465.6 1959,468.1 1961,473.1 1963,474.3 1965,475.8 1967,475.8 1969,472.8 1971,472.5 1973,468.7 1975,467.9 1977,468.4 1979,468 1981,468.6 1983,466 1985,461.9 1987,464.3 1989,466.2 1991,469 1993,468.9 1995,467.8 1997,469 1999,465.5 2001,468.1 2003,467.7 2005,467.1 2007,468 2009,466.5 2011,468.5 2013,465.9 2015,466.3 2017,464.6 2019,465.9 2021,465.3 2023,466.2 2025,463.3 2027,466.1 2029,466.1 2031,465.3 2033,466.3 2035,467.6 2037,467.4 2039,465.5 2041,466.2 2043,467 2045,466.4 2047,469 2049,472.5 2051,469.7 2053,465 2055,462.5 2057,465.3 2059,464.7 2061,463.4 2063,463.4" fill="none" stroke="#0000ff" stroke-width="4.0" stroke-linejoin="round" stroke-linecap="butt"/>
</g>
<rect x="890.6" y="50.4" width="1159.6" height="103.7" fill="#fff" stroke="#111" stroke-width="2.4"/>
<line x1="938.6" y1="108.1" x2="1122.6" y2="108.1" stroke="#ff0000" stroke-width="6.0" stroke-linecap="round"/>
<text transform="translate(1149,135.8)" font-size="52.3" font-family="Liberation Serif, serif" font-weight="bold">Active power</text>
<line x1="1470.3" y1="108.1" x2="1653.4" y2="108.1" stroke="#0000ff" stroke-width="5.9" stroke-linecap="round" stroke-dasharray="9.2,16"/>
<text transform="translate(1681,135.8)" font-size="52.3" font-family="Liberation Serif, serif" font-weight="bold">Reactive power</text>
<rect x="230.1" y="831.5" width="1837.6" height="6.4" fill="#000"/>
<rect x="230.1" y="1506.5" width="1837.6" height="6.4" fill="#000"/>
<rect x="230.1" y="831.5" width="5.8" height="681.4" fill="#000"/>
<rect x="2061.9" y="831.5" width="5.8" height="681.4" fill="#000"/>
<rect x="596.6" y="1488.1" width="5.6" height="21.6" fill="#000"/>
<rect x="962.9" y="1488.1" width="5.6" height="21.6" fill="#000"/>
<rect x="1329.3" y="1488.1" width="5.6" height="21.6" fill="#000"/>
<rect x="1695.6" y="1488.1" width="5.6" height="21.6" fill="#000"/>
<rect x="233" y="876" width="21.9" height="6.2" fill="#000"/>
<rect x="233" y="1011.2" width="21.9" height="6.2" fill="#000"/>
<rect x="233" y="1146.4" width="21.9" height="6.2" fill="#000"/>
<rect x="233" y="1281.6" width="21.9" height="6.2" fill="#000"/>
<rect x="233" y="1416.8" width="21.9" height="6.2" fill="#000"/>
<text transform="translate(210.6,894.7) scale(0.975,1)" text-anchor="end" font-size="46" font-family="Liberation Serif, serif" font-weight="bold">9.0x10<tspan dy="-21.9" dx="-0.4" font-size="25.5">5</tspan></text>
<text transform="translate(210.6,1029.9) scale(0.975,1)" text-anchor="end" font-size="46" font-family="Liberation Serif, serif" font-weight="bold">6.0x10<tspan dy="-21.9" dx="-0.4" font-size="25.5">5</tspan></text>
<text transform="translate(210.6,1165.1) scale(0.975,1)" text-anchor="end" font-size="46" font-family="Liberation Serif, serif" font-weight="bold">3.0x10<tspan dy="-21.9" dx="-0.4" font-size="25.5">5</tspan></text>
<text transform="translate(211,1300.3) scale(0.975,1)" text-anchor="end" font-size="46" font-family="Liberation Serif, serif" font-weight="bold">0.0</text>
<text transform="translate(210.6,1435.5) scale(0.975,1)" text-anchor="end" font-size="46" font-family="Liberation Serif, serif" font-weight="bold">-3.0x10<tspan dy="-21.9" dx="-0.4" font-size="25.5">5</tspan></text>
<text transform="translate(232.5,1566) scale(0.975,1)" text-anchor="middle" font-size="46" font-family="Liberation Serif, serif" font-weight="bold">1</text>
<text transform="translate(598.9,1566) scale(0.975,1)" text-anchor="middle" font-size="46" font-family="Liberation Serif, serif" font-weight="bold">2</text>
<text transform="translate(965.2,1566) scale(0.975,1)" text-anchor="middle" font-size="46" font-family="Liberation Serif, serif" font-weight="bold">3</text>
<text transform="translate(1331.6,1566) scale(0.975,1)" text-anchor="middle" font-size="46" font-family="Liberation Serif, serif" font-weight="bold">4</text>
<text transform="translate(1697.9,1566) scale(0.975,1)" text-anchor="middle" font-size="46" font-family="Liberation Serif, serif" font-weight="bold">5</text>
<text transform="translate(2064.3,1566) scale(0.975,1)" text-anchor="middle" font-size="46" font-family="Liberation Serif, serif" font-weight="bold">6</text>
<text transform="translate(1149.2,1622.2)" text-anchor="middle" font-size="52.3" font-family="Liberation Serif, serif" font-weight="bold">Time(s)</text>
<text transform="translate(55.3,1136.3) rotate(-90)" text-anchor="middle" font-size="52.15" font-family="Liberation Serif, serif" font-weight="bold">Power(W&amp;Var)</text>
<text transform="translate(286.5,929.4)" font-size="68.5" font-family="Liberation Serif, serif" font-weight="bold">(b)</text>
<clipPath id="cp2"><rect x="233.0" y="834.7" width="1829.3000000000002" height="675"/></clipPath>
<g clip-path="url(#cp2)">
<path d="M233,1285.5 235,1286.2 237,1286.4 239,1286.7 241,1286.3 243,1286 245,1285.7 247,1285.6 249,1285.9 251,1286.1 253,1286.4 255,1286.2 257,1286.6 259,1286 261,1286.3 263,1285.9 265,1286.4 267,1286.1 269,1286.4 271,1286.2 273,1286.2 275,1285.7 277,1285.6 279,1286 281,1286 283,1286 285,1285.8 287,1286.3 289,1286.3 291,1286.3 293,1286.3 295,1286.9 297,1286.8 299,1286.6 301,1285.9 303,1285.7 305,1285.4 307,1285.7 309,1285.9 311,1286.1 313,1286 315,1286 317,1286.1 319,1286.1 321,1285.8 323,1285.8 325,1285.8 327,1286.1 329,1286.3 331,1286.2 333,1286.1 335,1285.8 337,1286.3 339,1285.9 341,1285.8 343,1285.7 345,1285.8 347,1286.2 349,1285.7 351,1285.9 353,1285.3 355,1285.7 357,1285.5 359,1286 361,1285.6 363,1285.7 365,1285.9 367,1286 369,1285.8 371,1285.5 373,1285.6 375,1285.9 377,1285.9 379,1286 381,1286.2 383,1286.2 385,1286.3 387,1286.1 389,1286 391,1285.8 393,1285.8 395,1286.3 397,1286.6 399,1286.6 401,1286.5 403,1286.3 405,1286.6 407,1286.2 409,1286.3 411,1285.9 413,1286.1 415,1285.9 417,1286.1 419,1285.9 421,1286.3 423,1285.8 425,1286 427,1285.5 429,1285.8 431,1286 433,1285.9 435,1286.1 437,1286.1 439,1286.3 441,1286.1 443,1286.2 445,1285.9 447,1285.7 449,1285.5 451,1285.6 453,1286 455,1286.2 457,1286.3 459,1286.5 461,1286.4 463,1286.7 465,1286.7 467,1286.6 469,1286.1 471,1286 473,1286.3 475,1286.2 477,1286.3 479,1286.1 481,1286.1 483,1285.7 485,1285.6 487,1286 489,1286.2 491,1286.1 493,1286.2 495,1286 497,1286.1 499,1285.9 501,1286 503,1285.8 505,1285.8 507,1285.9 509,1286.4 511,1286.5 513,1286.2 515,1286.1 517,1286 519,1286.3 521,1286.5 523,1286.6 525,1286.4 527,1285.9 529,1286 531,1286.5 533,1286.5 535,1286.5 537,1286.2 539,1286.2 541,1286 543,1285.8 545,1286.1 547,1286.1 549,1286.2 551,1286 553,1286.2 555,1286.2 557,1286.3 559,1285.9 561,1285.9 563,1285.9 565,1285.9 567,1285.9 569,1285.5 571,1286 573,1286.2 575,1286.4 577,1286.1 579,1285.7 581,1286.1 583,1286.1 585,1286.4 587,1286.2 589,1286.1 591,1286.3 593,1286.7 595,1286.6 597,1286.2 599,1285.8 601,1285.8 603,1286 605,1280.7" fill="none" stroke="#00ff00" stroke-width="4.5" stroke-linejoin="round" stroke-linecap="butt"/>
<path d="M725,1276.4 727,1275.7 729,1274.1 731,1272.9 733,1272.9 735,1274.7 737,1274.3 739,1274.3 741,1274.2 743,1276.1 745,1276.6 747,1276.2 749,1275.6 751,1277.9 753,1279.7 755,1281 757,1282.4 759,1281.7 761,1280.8 763,1280.5 765,1280.8 767,1281.7 769,1283.7 771,1281.5 773,1281.9 775,1281.9 777,1280.1 779,1281.7 781,1280 783,1280.7 785,1281.9 787,1280.9 789,1280.8 791,1278 793,1276.4 795,1278.7 797,1277.5 799,1279.2 801,1276.5 803,1275.4 805,1277.6 807,1280.2 809,1283.5 811,1282.9 813,1287.1 815,1285.8 817,1283.6 819,1282.8 821,1285.2 823,1286.3 825,1284 827,1284.1 829,1285 831,1285.4 833,1283.8 835,1281.7 837,1280.2 839,1279.4 841,1279.4 843,1278.6 845,1278 847,1277.3 849,1276.1 851,1274.5 853,1274.2 855,1278.4 857,1278.7 859,1283.1 861,1284 863,1285 865,1284.1 867,1279.8 869,1280.8 871,1278.1 873,1278.8 875,1279.1 877,1279.9 879,1279.1 881,1279.9 883,1278.6 885,1277 887,1276.8 889,1276.4 891,1278.1 893,1277.7 895,1279 897,1281 899,1280.4 901,1284.1 903,1282.5 905,1280.8 907,1276.6 909,1275.7 911,1278.2 913,1278.1 915,1277.8 917,1278.6 919,1279 921,1281.6 923,1279.6 925,1279.2 927,1276.5 929,1279.2 931,1280.7 933,1279.3 935,1276.7 937,1275.4 939,1278.3 941,1280.9 943,1281.2 945,1284.7 947,1283.4 949,1282.7 951,1281.8 953,1280.1 955,1280.1 957,1280.1 959,1282.4 961,1284.3 963,1286.2 965,1287.8 967,1288.3 969,1284.3 971,1281.7 973,1279.4 975,1280.1 977,1278.5 979,1280.5 981,1279 983,1279.5 985,1279.4 987,1279.4 989,1279.3 991,1278.9 993,1280.1 995,1279.9 997,1279.9 999,1280.1 1001,1280.3 1003,1276.8 1005,1277 1007,1274.4 1009,1273.9 1011,1273.9 1013,1273.5 1015,1276 1017,1278.2 1019,1279.5 1021,1279.5 1023,1277.3 1025,1277.5 1027,1277 1029,1276.8 1031,1275 1033,1274.6 1035,1274 1037,1278.1 1039,1279 1041,1280 1043,1281.9 1045,1282 1047,1281.2 1049,1281 1051,1281.2 1053,1280.1 1055,1276.6 1057,1278.2 1059,1278.1 1061,1277.9 1063,1277.9 1065,1279.7 1067,1280.6 1069,1281.9 1071,1281.6 1073,1281.7 1075,1280.4 1077,1277.9 1079,1279 1081,1278.9 1083,1278.8 1085,1278.4 1087,1279.3 1089,1282.5 1091,1283 1093,1281.8 1095,1281.1 1097,1284 1099,1283.4 1101,1287.3 1103,1285 1105,1283.3 1107,1280.2 1109,1280 1111,1283.2 1113,1285.6 1115,1286.8 1117,1286 1119,1284.9 1121,1284.8 1123,1286.3 1125,1285.8 1127,1283.7 1129,1284.2 1131,1284.3 1133,1286 1135,1286.1 1137,1283.8 1139,1282.2 1141,1280 1143,1280.7 1145,1282.4 1147,1281.5 1149,1280.7 1151,1279.1 1153,1279.1 1155,1277 1157,1275.9 1159,1278.9 1161,1280 1163,1277.6 1165,1275.3 1167,1277.4 1169,1281.9 1171,1281.9 1173,1282.4 1175,1281.4 1177,1283.4 1179,1282.4 1181,1284.3 1183,1282.6 1185,1281.2 1187,1280.4 1189,1283.2 1191,1284.5 1193,1281.9 1195,1282 1197,1282.1 1199,1279.6 1201,1277.3 1203,1277.4 1205,1278.1 1207,1279.2 1209,1279.7 1211,1282.4 1213,1282.8 1215,1283.2 1217,1284.1 1219,1283.5 1221,1284.3 1223,1284.9 1225,1285.8 1227,1286.7 1229,1287 1231,1284.4 1233,1280.8 1235,1280.6 1237,1278.6 1239,1280.7 1241,1281.3 1243,1281.4 1245,1281.1 1247,1281.7 1249,1283.2 1251,1282 1253,1281.8 1255,1282.8 1257,1283 1259,1278.9 1261,1277.3 1263,1280 1265,1283 1267,1283.6 1269,1280.6 1271,1281.7 1273,1283.1 1275,1283 1277,1282.2 1279,1281.5 1281,1279.7 1283,1275.9 1285,1274.6 1287,1276.7 1289,1278.4 1291,1279.5 1293,1280.9 1295,1281.3 1297,1283.4 1299,1281.5 1301,1282.5 1303,1282.9 1305,1284.2 1307,1282.5 1309,1282.3 1311,1282.1 1313,1283 1315,1281.1 1317,1281 1319,1282.3 1321,1280.9 1323,1282.5 1325,1281.7 1327,1282.2 1329,1282 1331,1285 1333,1284.5 1335,1281.3 1337,1280.2 1339,1281.4 1341,1281.2 1343,1279.3 1345,1280.1 1347,1280.7 1349,1281 1351,1280.5 1353,1281.4 1355,1281.9 1357,1280 1359,1281 1361,1282 1363,1282.8 1365,1283 1367,1281.7 1369,1277.2 1371,1275.7 1373,1275.3 1375,1278.4 1377,1278.6 1379,1278.8 1381,1281.2 1383,1280.2 1385,1282.9 1387,1281.7 1389,1280.1 1391,1276.7 1393,1277.6 1395,1279.9 1397,1280.3 1399,1283.1 1401,1280.1 1403,1280.8 1405,1280.3 1407,1280.5 1409,1281 1411,1279.7 1413,1280.3 1415,1279.6 1417,1277.7 1419,1278.4 1421,1276.1 1423,1277.6 1425,1278.7 1427,1281.8 1429,1279.3 1431,1281.5 1433,1281.2 1435,1283.8 1437,1281.9 1439,1282.9 1441,1283.3 1443,1284.3 1445,1282.6 1447,1282.4 1449,1281.2 1451,1281 1453,1279.4 1455,1280.3 1457,1279 1459,1281.2 1461,1281.5 1463,1281.8 1465,1280.8 1467,1281.5 1469,1280.4 1471,1279.4 1473,1281.7 1475,1285.3 1477,1287.8 1479,1286.1 1481,1285 1483,1284.6 1485,1283.1 1487,1279.9 1489,1277.6 1491,1278.4 1493,1279.3 1495,1277.5 1497,1275 1499,1277 1501,1278.3 1503,1281.3 1505,1279.3 1507,1283.4 1509,1281.8 1511,1282.6 1513,1281.9 1515,1282.5 1517,1285.5 1519,1284.6 1521,1286.3 1523,1283.7 1525,1281.4 1527,1280 1529,1279.5 1531,1279 1533,1277.8 1535,1279 1537,1279.8 1539,1278.9 1541,1279 1543,1281.8 1545,1280.8 1547,1280 1549,1277.6 1551,1281.3 1553,1281.8 1555,1281.3 1557,1278.7 1559,1280.5 1561,1281.8 1563,1279.1 1565,1277.2 1567,1278.5 1569,1281.2 1571,1281.5 1573,1280.1 1575,1281 1577,1277.1 1579,1276.5 1581,1279.1 1583,1277.4 1585,1278.3 1587,1276.1 1589,1278.1 1591,1277.3 1593,1276.9 1595,1277.8 1597,1278.2 1599,1281 1601,1283.1 1603,1283.7 1605,1283.7 1607,1286 1609,1287.4 1611,1283.5 1613,1282.6 1615,1282.5 1617,1283.3 1619,1280.8 1621,1277.8 1623,1278.3 1625,1278.7 1627,1281.3 1629,1280.2 1631,1278.2 1633,1278.1 1635,1275.7 1637,1273.8 1639,1272.8 1641,1271.5 1643,1276.9 1645,1273.2 1647,1277.1 1649,1277.4 1651,1278.1 1653,1279.8 1655,1277.4 1657,1279.8 1659,1278.5 1661,1279 1663,1281.2 1665,1278.7 1667,1278 1669,1274.7 1671,1274.7 1673,1273 1675,1272.3 1677,1274.2 1679,1274.7 1681,1279.4 1683,1278 1685,1278.7 1687,1276.5 1689,1277 1691,1278.5 1693,1278.9 1695,1280.9 1697,1281.3 1699,1280.9 1701,1280.1 1703,1282.6 1705,1282.4 1707,1283.2 1709,1283 1711,1281 1713,1282.3 1715,1278.9 1717,1279.6 1719,1281 1721,1280 1723,1280.2 1725,1279.2 1727,1281.6 1729,1281.4 1731,1279.8 1733,1278.1 1735,1279.7 1737,1283.3 1739,1284.9 1741,1287.2 1743,1284.8 1745,1282.9 1747,1280.1 1749,1278.6 1751,1276.4 1753,1275.7 1755,1276 1757,1279.1 1759,1278.1 1761,1280.2 1763,1282.2 1765,1283.5 1767,1282 1769,1279.4 1771,1281.6 1773,1280.1 1775,1284.1 1777,1283.4 1779,1285.2 1781,1286.6 1783,1286.6 1785,1287.3 1787,1285 1789,1283.4 1791,1281.7 1793,1279.9 1795,1280.1 1797,1280.1 1799,1281.1 1801,1280.8 1803,1280.6 1805,1277.2 1807,1278.4 1809,1279 1811,1279.9 1813,1279.4 1815,1278.3 1817,1277.4 1819,1275.7 1821,1274.5 1823,1275.2 1825,1277.1 1827,1277.3 1829,1280.1 1831,1281.7 1833,1284.1 1835,1282.8 1837,1282.6 1839,1282.6 1841,1282.1 1843,1281.3 1845,1279.2 1847,1278.2 1849,1277.6 1851,1278.9 1853,1280.7 1855,1280.5 1857,1281.9 1859,1282.6 1861,1283.8 1863,1282.5 1865,1281 1867,1282.6 1869,1281.5 1871,1283.4 1873,1280.9 1875,1281.1 1877,1282 1879,1281.5 1881,1282.3 1883,1281.1 1885,1281.6 1887,1282.3 1889,1282.3 1891,1282.6 1893,1282.6 1895,1281.2 1897,1281.5 1899,1280.4 1901,1281.1 1903,1282.7 1905,1282.6 1907,1282.5 1909,1281.8 1911,1282 1913,1281.9 1915,1282.3 1917,1283.5 1919,1284.3 1921,1284.6 1923,1283.9 1925,1285.6 1927,1283.7 1929,1283.3 1931,1282.5 1933,1281.5 1935,1280 1937,1280 1939,1281 1941,1282.2 1943,1281.5 1945,1282.7 1947,1283.1 1949,1281.6 1951,1279.5 1953,1276.9 1955,1275.1 1957,1275.2 1959,1276.7 1961,1279.8 1963,1278.6 1965,1283.9 1967,1284.1 1969,1286.6 1971,1284.7 1973,1287.6 1975,1287.5 1977,1282.1 1979,1279.8 1981,1278.6 1983,1282.2 1985,1284.6 1987,1283.1 1989,1284.5 1991,1282 1993,1284.9 1995,1285 1997,1283.7 1999,1283.4 2001,1281 2003,1283.6 2005,1282.6 2007,1283.2 2009,1280.8 2011,1279.6 2013,1277.8 2015,1277.7 2017,1277.1 2019,1278.6 2021,1277.7 2023,1279.8 2025,1279.5 2027,1282.3 2029,1283.9 2031,1283.8 2033,1284.8 2035,1282.1 2037,1283.2 2039,1281.4 2041,1283.3 2043,1281 2045,1279.2 2047,1280 2049,1279.2 2051,1279.9 2053,1277.8 2055,1277.4 2057,1276.5 2059,1276.9 2061,1278.5 2063,1278.5" fill="none" stroke="#00ff00" stroke-width="4.3" stroke-linejoin="round" stroke-linecap="butt"/>
<path d="M605.4,1277.7 607.4,1277.7 609.4,1280.7 611.4,1276.5 613.4,1277.5 615.4,1279.6 617.4,1278 619.4,1277.8 621.4,1278.8 623.4,1279.6 625.4,1279.6 627.4,1278.4 629.4,1279.6 631.4,1278.2 633.4,1277.9 635.4,1280.2 637.4,1280.1 639.4,1280.1 641.4,1280.5 643.4,1280.5 645.4,1279.2 647.4,1278.6 649.4,1279.7 651.4,1280.6 653.4,1278.9 655.4,1280.2 657.4,1278.9 659.4,1280.3 661.4,1280.2 663.4,1280.5 665.4,1279.2 667.4,1278.3 669.4,1280 671.4,1279.2 673.4,1279.5 675.4,1280.6 677.4,1279.3 679.4,1279.9 681.4,1278.7 683.4,1277.6 685.4,1278.6 687.4,1280.6 689.4,1278.2 691.4,1280.4 693.4,1280.4 695.4,1279.2 697.4,1280.6 699.4,1280.7 701.4,1280.5 703.4,1280 705.4,1280.6 707.4,1280.7 709.4,1280.2 711.4,1279.4 713.4,1280.5 715.4,1280.6 717.4,1280 719.4,1277.1 721.4,1278.3 723.4,1279.8 725.4,1280 727.4,1280.1 L727.4,1295.2 725.4,1297.7 723.4,1295.4 721.4,1296 719.4,1296.7 717.4,1295.5 715.4,1294.1 713.4,1296.7 711.4,1296.9 709.4,1296 707.4,1295.6 705.4,1294 703.4,1294.8 701.4,1294 699.4,1294.5 697.4,1297.2 695.4,1296.2 693.4,1294 691.4,1294.9 689.4,1294.8 687.4,1295 685.4,1294 683.4,1295.6 681.4,1296.4 679.4,1294 677.4,1295.6 675.4,1294.9 673.4,1295.8 671.4,1296.7 669.4,1294.7 667.4,1295.1 665.4,1295.6 663.4,1294.4 661.4,1295.6 659.4,1295.2 657.4,1295.4 655.4,1296.2 653.4,1295.2 651.4,1294 649.4,1295.1 647.4,1295.4 645.4,1294.1 643.4,1295.2 641.4,1294.4 639.4,1294.7 637.4,1294.9 635.4,1294.4 633.4,1294.1 631.4,1294.8 629.4,1294.7 627.4,1296.1 625.4,1295.7 623.4,1295.7 621.4,1296.3 619.4,1295.9 617.4,1295.8 615.4,1294 613.4,1294.1 611.4,1294.2 609.4,1294.8 607.4,1295.1 605.4,1295.1Z" fill="#00ff00"/>
<path d="M233,1288.3 235,1288.3 237,1288.3 239,1288.3 241,1288.3 243,1288.3 245,1288.3 247,1288.3 249,1288.3 251,1288.3 253,1288.3 255,1288.3 257,1288.3 259,1288.3 261,1288.3 263,1288.3 265,1288.3 267,1288.3 269,1288.3 271,1288.3 273,1288.3 275,1288.3 277,1288.3 279,1288.3 281,1288.3 283,1288.3 285,1288.3 287,1288.3 289,1288.3 291,1288.3 293,1288.3 295,1288.3 297,1288.3 299,1288.3 301,1288.3 303,1288.3 305,1288.3 307,1288.3 309,1288.3 311,1288.3 313,1288.3 315,1288.3 317,1288.3 319,1288.3 321,1288.3 323,1288.3 325,1288.3 327,1288.3 329,1288.3 331,1288.3 333,1288.3 335,1288.3 337,1288.3 339,1288.3 341,1288.3 343,1288.3 345,1288.3 347,1288.3 349,1288.3 351,1288.3 353,1288.3 355,1288.3 357,1288.3 359,1288.3 361,1288.3 363,1288.3 365,1288.3 367,1288.3 369,1288.3 371,1288.3 373,1288.3 375,1288.3 377,1288.3 379,1288.3 381,1288.3 383,1288.3 385,1288.3 387,1288.3 389,1288.3 391,1288.3 393,1288.3 395,1288.3 397,1288.3 399,1288.3 401,1288.3 403,1288.3 405,1288.3 407,1288.3 409,1288.3 411,1288.3 413,1288.3 415,1288.3 417,1288.3 419,1288.3 421,1288.3 423,1288.3 425,1288.3 427,1288.3 429,1288.3 431,1288.3 433,1288.3 435,1288.3 437,1288.3 439,1288.3 441,1288.3 443,1288.3 445,1288.3 447,1288.3 449,1288.3 451,1288.3 453,1288.3 455,1288.3 457,1288.3 459,1288.3 461,1288.3 463,1288.3 465,1288.3 467,1288.3 469,1288.3 471,1288.3 473,1288.3 475,1288.3 477,1288.3 479,1288.3 481,1288.3 483,1288.3 485,1288.3 487,1288.3 489,1288.3 491,1288.3 493,1288.3 495,1288.3 497,1288.3 499,1288.3 501,1288.3 503,1288.3 505,1288.3 507,1288.3 509,1288.3 511,1288.3 513,1288.3 515,1288.3 517,1288.3 519,1288.3 521,1288.3 523,1288.3 525,1288.3 527,1288.3 529,1288.3 531,1288.3 533,1288.3 535,1288.3 537,1288.3 539,1288.3 541,1288.3 543,1288.3 545,1288.3 547,1288.3 549,1288.3 551,1288.3 553,1288.3 555,1288.3 557,1288.3 559,1288.3 561,1288.3 563,1288.3 565,1288.3 567,1288.3 569,1288.3 571,1288.3 573,1288.3 575,1288.3 577,1288.3 579,1288.3 581,1288.3 583,1288.3 585,1288.3 587,1288.3 589,1288.3 591,1288.3 593,1288.3 595,1288.3 597,1288.3" fill="none" stroke="#ff00ff" stroke-width="5.8" stroke-linejoin="round" stroke-linecap="butt"/>
<path d="M597.4,1288.3 598.9,1305.9 600.4,1298.2 606.9,1113.4" fill="none" stroke="#ff00ff" stroke-width="5.6" stroke-linejoin="round" stroke-linecap="butt"/>
<path d="M607,1111.2 609,1114 611,1112.8 613,1106.9 615,1109.1 617,1111.4 619,1113.5 621,1114.2 623,1110 625,1117.3 627,1117.6 629,1115 631,1111.9 633,1113.7 635,1113.3 637,1114.1 639,1114.3 641,1112.5 643,1114.8 645,1115.8 647,1118.4 649,1113.1 651,1112.6 653,1109.6 655,1108 657,1110.7 659,1108.3 661,1111.9 663,1111.7 665,1110.6 667,1109.6 669,1112.9 671,1117.3 673,1120.4 675,1119 677,1116.8 679,1117 681,1118.4 683,1124.5 685,1129.5 687,1130.7 689,1130.3 691,1127.9 693,1129.8 695,1130.1 697,1129.5 699,1127.1 701,1129.6 703,1126 705,1127.7 707,1129.9 709,1133.2 711,1132.1 713,1127.5 715,1134.4 717,1135 719,1134.8 721,1134 723,1132.4 725,1135.7 727,1134.1 729,1129.1 731,1128.2 733,1133.8 735,1130.9 737,1133.2 739,1130.1 741,1130.9 743,1128.7 745,1130.8 747,1135.4 749,1141.3 751,1141.1 753,1141.5 755,1138.1 757,1137.3 759,1134.6 761,1136.1 763,1136.2 765,1140.1 767,1141.1 769,1138.2 771,1140.1 773,1136 775,1141.6 777,1139.5 779,1140.6 781,1140.5 783,1141.5 785,1143.6 787,1142.5 789,1143 791,1142.5 793,1146.9 795,1148.8 797,1150.8 799,1147.4 801,1148.1 803,1147.4 805,1144 807,1144.7 809,1147.6 811,1143.8 813,1140.3 815,1140.6 817,1146.3 819,1147.5 821,1146.4 823,1146.5 825,1145.6 827,1147 829,1152.1 831,1151.3 833,1149.5 835,1148 837,1154.9 839,1152.8 841,1151.8 843,1151.2 845,1153.4 847,1154.5 849,1153.7 851,1152 853,1150.7 855,1150 857,1148.8 859,1151 861,1145.7 863,1148.8 865,1148.7 867,1151.5 869,1150 871,1152.4 873,1155.3 875,1155.5 877,1159.2 879,1158.4 881,1152.8 883,1152.1 885,1157.1 887,1159.2 889,1154.5 891,1155.4 893,1155.1 895,1162.9 897,1161.5 899,1162.8 901,1161.6 903,1162.7 905,1161.2 907,1161.4 909,1166.1 911,1169.1 913,1171.5 915,1170.9 917,1166.5 919,1164.6 921,1166.6 923,1167.6 925,1160.4 927,1163.2 929,1163.7 931,1166.7 933,1166 935,1169.4 937,1166.6 939,1162.8 941,1160.7 943,1161.3 945,1163.1 947,1166.9 949,1172.4 951,1170.2 953,1164.2 955,1166.4 957,1169.3 959,1165.2 961,1169.1 963,1169.5 965,1173.2 967,1171.3 969,1175.6 971,1170.7 973,1165.5 975,1167 977,1173 979,1170.2 981,1167.9 983,1170.1 985,1174.4 987,1179.9 989,1180.2 991,1180.9 993,1179 995,1178 997,1172.3 999,1169 1001,1173.7 1003,1174.6 1005,1179.6 1007,1181.4 1009,1176.7 1011,1179.3 1013,1179.1 1015,1183.5 1017,1180 1019,1181.3 1021,1181.7 1023,1185 1025,1180.6 1027,1181.7 1029,1180.4 1031,1181.7 1033,1179.6 1035,1177.6 1037,1178.2 1039,1181.6 1041,1182.5 1043,1188.5 1045,1187.1 1047,1184.8 1049,1181.7 1051,1176.6 1053,1176.4 1055,1182 1057,1186.5 1059,1185.8 1061,1185.7 1063,1186.9 1065,1188.1 1067,1187.4 1069,1185.9 1071,1184.1 1073,1181.1 1075,1184 1077,1182.2 1079,1188.6 1081,1189.2 1083,1188.5 1085,1186.2 1087,1187.2 1089,1186.4 1091,1186.6 1093,1188.9 1095,1188.5 1097,1187.8 1099,1187.6 1101,1188.2 1103,1189.1 1105,1192.3 1107,1190.7 1109,1194.7 1111,1195.5 1113,1192.8 1115,1184.6 1117,1184.5 1119,1195.3 1121,1197.2 1123,1191.7 1125,1198.1 1127,1193.4 1129,1190.8 1131,1188.4 1133,1189 1135,1194.8 1137,1196.4 1139,1195.2 1141,1192.9 1143,1193 1145,1192.2 1147,1193.5 1149,1195.6 1151,1198.6 1153,1197.3 1155,1195.4 1157,1194.2 1159,1196.7 1161,1190.3 1163,1192.1 1165,1191.6 1167,1194.3 1169,1195.3 1171,1194.3 1173,1199.5 1175,1197.3 1177,1193.9 1179,1194.7 1181,1193.8 1183,1200.3 1185,1195.8 1187,1195.7 1189,1194.8 1191,1191.2 1193,1192.2 1195,1194.4 1197,1195.8 1199,1194.7 1201,1193.4 1203,1197.4 1205,1197.8 1207,1199.5 1209,1198.4 1211,1201.7 1213,1199.3 1215,1196.7 1217,1196.1 1219,1196.2 1221,1197.9 1223,1198 1225,1199.3 1227,1196.6 1229,1198.3 1231,1198.6 1233,1197 1235,1198.7 1237,1201.2 1239,1206.4 1241,1205.9 1243,1203.6 1245,1203.7 1247,1204.5 1249,1206.2 1251,1207.1 1253,1203.1 1255,1199.4 1257,1197.6 1259,1198.5 1261,1197.9 1263,1202 1265,1201.1 1267,1205 1269,1203.9 1271,1207.1 1273,1203.8 1275,1208.3 1277,1210.7 1279,1210.5 1281,1206.5 1283,1206.9 1285,1207.6 1287,1206.6 1289,1205.2 1291,1205.7 1293,1207.3 1295,1202.9 1297,1204.4 1299,1209.2 1301,1210.8 1303,1210.7 1305,1209.2 1307,1208.8 1309,1210.9 1311,1206.7 1313,1208.4 1315,1205 1317,1211.6 1319,1210.1 1321,1211.3 1323,1206.1 1325,1210 1327,1210.8 1329,1217.2 1331,1215.2 1333,1207.3 1335,1205.2 1337,1208 1339,1214.7 1341,1215.3 1343,1213.2 1345,1212.4 1347,1215.8 1349,1211.7 1351,1213 1353,1212.6 1355,1215.4 1357,1217.2 1359,1217.5 1361,1209.7 1363,1209.7 1365,1209.8 1367,1216.3 1369,1215.8 1371,1209.8 1373,1209.4 1375,1213.1 1377,1209.9 1379,1205.9 1381,1211.4 1383,1215.3 1385,1218.5 1387,1214.8 1389,1211.6 1391,1214.5 1393,1219 1395,1219.7 1397,1214.4 1399,1212.1 1401,1211.9 1403,1219.1 1405,1217.4 1407,1219.1 1409,1224.4 1411,1219.7 1413,1216.8 1415,1217.9 1417,1222.7 1419,1224.4 1421,1221.9 1423,1219 1425,1223.3 1427,1222.1 1429,1226 1431,1224.8 1433,1226.8 1435,1224.3 1437,1224.4 1439,1222.7 1441,1225.7 1443,1226.1 1445,1225.9 1447,1226.9 1449,1226 1451,1229.4 1453,1225.3 1455,1220.4 1457,1226.3 1459,1227.5 1461,1229.1 1463,1226 1465,1226.6 1467,1220.6 1469,1224.4 1471,1224.9 1473,1230.4 1475,1229.1 1477,1228.3 1479,1226.2 1481,1222 1483,1221 1485,1223.8 1487,1229.3 1489,1234.5 1491,1235.7 1493,1235.2 1495,1231.1 1497,1229.4 1499,1232.5 1501,1232.3 1503,1231.3 1505,1232.6 1507,1231 1509,1234.3 1511,1235 1513,1235.7 1515,1232.6 1517,1234.1 1519,1231 1521,1231.6 1523,1229.3 1525,1231.1 1527,1232.9 1529,1229.5 1531,1227.4 1533,1228.5 1535,1231.7 1537,1233.1 1539,1235.6 1541,1233.7 1543,1237.2 1545,1233.2 1547,1235.3 1549,1235.8 1551,1240.3 1553,1241.6 1555,1235.9 1557,1237.8 1559,1232.3 1561,1234.5 1563,1232.5 1565,1231.7 1567,1236.3 1569,1240.2 1571,1237.3 1573,1234.3 1575,1231.9 1577,1233.9 1579,1234.7 1581,1240.6 1583,1240.1 1585,1234.5 1587,1236.2 1589,1238.3 1591,1241.4 1593,1240.4 1595,1236.7 1597,1238.7 1599,1237.9 1601,1239.4 1603,1232.7 1605,1234.4 1607,1237.8 1609,1237.9 1611,1237.2 1613,1241 1615,1238.2 1617,1237.6 1619,1239 1621,1233.1 1623,1234.6 1625,1235.8 1627,1241.2 1629,1242.8 1631,1243.3 1633,1244.7 1635,1246.4 1637,1247.7 1639,1244.2 1641,1243.4 1643,1242.5 1645,1242.9 1647,1245.5 1649,1249.4 1651,1247 1653,1243.7 1655,1242.8 1657,1244.3 1659,1245.2 1661,1240.8 1663,1241.2 1665,1238.9 1667,1242.1 1669,1240.8 1671,1244.1 1673,1247.1 1675,1250.6 1677,1247.5 1679,1245.8 1681,1244.5 1683,1249 1685,1247.3 1687,1247.7 1689,1250.9 1691,1245.4 1693,1243.8 1695,1246.8 1697,1249.2 1699,1251.7 1701,1246.5 1703,1248.1 1705,1246.5 1707,1251.1 1709,1245.9 1711,1243.5 1713,1245.3 1715,1249.4 1717,1247.8 1719,1249.2 1721,1244.2 1723,1248.1 1725,1247.1 1727,1248.1 1729,1249.5 1731,1252 1733,1250.9 1735,1251.7 1737,1245 1739,1247.3 1741,1246.4 1743,1248.5 1745,1249.2 1747,1248.7 1749,1253.3 1751,1253.2 1753,1253 1755,1252.5 1757,1252.6 1759,1253.7 1761,1256.4 1763,1250.4 1765,1252 1767,1245.8 1769,1247.2 1771,1245.6 1773,1253.9 1775,1250.6 1777,1252.4 1779,1251.1 1781,1255.6 1783,1254.7 1785,1253.8 1787,1249.6 1789,1248.3 1791,1253.9 1793,1253.1 1795,1252.4 1797,1253.7 1799,1255.4 1801,1257 1803,1257.6 1805,1254 1807,1252.8 1809,1252.4 1811,1254.7 1813,1255.1 1815,1254.8 1817,1254.1 1819,1254.9 1821,1256.9 1823,1256.1 1825,1256.2 1827,1255 1829,1255.5 1831,1253.6 1833,1251.4 1835,1254.6 1837,1255.6 1839,1258.7 1841,1255.1 1843,1255.1 1845,1253.7 1847,1261.7 1849,1259.9 1851,1262.2 1853,1260.4 1855,1258.7 1857,1256.3 1859,1254.6 1861,1252 1863,1248.1 1865,1246.1 1867,1253 1869,1259.3 1871,1260.8 1873,1256.9 1875,1253.1 1877,1256.7 1879,1258 1881,1256.6 1883,1255.1 1885,1256.4 1887,1260.5 1889,1260.2 1891,1265 1893,1266.2 1895,1264.2 1897,1263.9 1899,1257.4 1901,1258 1903,1255.6 1905,1261.4 1907,1260.8 1909,1263.8 1911,1258.4 1913,1259.5 1915,1260.7 1917,1257.8 1919,1257.6 1921,1262.4 1923,1261.4 1925,1258.6 1927,1265 1929,1259.6 1931,1257.1 1933,1260.3 1935,1258 1937,1259 1939,1260.7 1941,1262.3 1943,1260 1945,1263.1 1947,1259.2 1949,1262.9 1951,1261.5 1953,1262.9 1955,1261.7 1957,1262.8 1959,1262.5 1961,1262.3 1963,1265.9 1965,1263.5 1967,1258.4 1969,1260.6 1971,1257.5 1973,1264.7 1975,1263.6 1977,1266.4 1979,1265.2 1981,1265.3 1983,1263.7 1985,1265.1 1987,1267.1 1989,1261.2 1991,1263.7 1993,1266 1995,1262.4 1997,1256.6 1999,1262.8 2001,1266.7 2003,1265.9 2005,1266.7 2007,1268.5 2009,1267.5 2011,1265.7 2013,1264.3 2015,1260.7 2017,1263.7 2019,1265.7 2021,1270.7 2023,1270.6 2025,1270.7 2027,1266.6 2029,1267.9 2031,1270.3 2033,1269.3 2035,1267.9 2037,1265.1 2039,1265.7 2041,1267.3 2043,1271.4 2045,1269.1 2047,1267.5 2049,1270.6 2051,1269.6 2053,1264.8 2055,1265.8 2057,1270 2059,1269.9 2061,1269.5 2063,1264.5 L2063,1281.8 2061,1282.4 2059,1284.3 2057,1285.1 2055,1283.1 2053,1283.9 2051,1283.7 2049,1287.2 2047,1286.7 2045,1288.1 2043,1285.1 2041,1284 2039,1285.3 2037,1283.3 2035,1283.5 2033,1283 2031,1283.2 2029,1285.3 2027,1283.9 2025,1285.1 2023,1292.6 2021,1287.2 2019,1281.8 2017,1286 2015,1286.3 2013,1283 2011,1283.7 2009,1279.9 2007,1282.8 2005,1281.2 2003,1280.5 2001,1279.4 1999,1277.4 1997,1278.6 1995,1279.5 1993,1282.8 1991,1283 1989,1285.3 1987,1283.7 1985,1280.2 1983,1278.4 1981,1279.2 1979,1282.2 1977,1281.5 1975,1280.9 1973,1276.7 1971,1276.4 1969,1277 1967,1281 1965,1282.8 1963,1282.8 1961,1280.8 1959,1283 1957,1280.4 1955,1279.6 1953,1284.9 1951,1282.3 1949,1278.4 1947,1275.6 1945,1279.1 1943,1280.2 1941,1280.7 1939,1277.8 1937,1274.8 1935,1274.9 1933,1278.2 1931,1276.7 1929,1275.9 1927,1278.4 1925,1279.3 1923,1278.2 1921,1278 1919,1281.5 1917,1277.7 1915,1277.8 1913,1276.1 1911,1278.4 1909,1278.6 1907,1281 1905,1274.3 1903,1271.8 1901,1273.3 1899,1273.5 1897,1276.9 1895,1279.2 1893,1282.9 1891,1279.2 1889,1276.2 1887,1276.8 1885,1274 1883,1274 1881,1276.7 1879,1273.3 1877,1272.4 1875,1269 1873,1271.2 1871,1276.1 1869,1275.7 1867,1274.5 1865,1268.8 1863,1268.9 1861,1270.8 1859,1271.3 1857,1273.2 1855,1273.8 1853,1277.6 1851,1275.8 1849,1276 1847,1275.8 1845,1274.8 1843,1276.6 1841,1270.8 1839,1275.7 1837,1275.8 1835,1271.2 1833,1268.6 1831,1269.8 1829,1272.2 1827,1273.9 1825,1270.2 1823,1275.2 1821,1280.1 1819,1276.1 1817,1271.1 1815,1270.6 1813,1274.1 1811,1270.1 1809,1274.9 1807,1272.8 1805,1273.2 1803,1270.7 1801,1271.9 1799,1271.2 1797,1271.5 1795,1272.3 1793,1271.7 1791,1270.9 1789,1266.7 1787,1267 1785,1269.6 1783,1269.1 1781,1271.4 1779,1271 1777,1271.1 1775,1270.5 1773,1272.6 1771,1267.1 1769,1264.6 1767,1264.2 1765,1267.8 1763,1271.5 1761,1276.5 1759,1271.4 1757,1268.9 1755,1268.8 1753,1267 1751,1267.5 1749,1267.1 1747,1264.3 1745,1266.2 1743,1266.4 1741,1266.9 1739,1268 1737,1265.2 1735,1266.4 1733,1264.6 1731,1266 1729,1264.3 1727,1266 1725,1262.7 1723,1262.7 1721,1260 1719,1266.2 1717,1264.9 1715,1266.2 1713,1260.2 1711,1261 1709,1262.9 1707,1265.9 1705,1265.6 1703,1263.5 1701,1263.4 1699,1267.2 1697,1263.8 1695,1260.4 1693,1267.2 1691,1264 1689,1265.2 1687,1263.2 1685,1266 1683,1267.2 1681,1265.6 1679,1267.1 1677,1265.3 1675,1267.9 1673,1263.1 1671,1261 1669,1263.4 1667,1265.3 1665,1260 1663,1261.7 1661,1257.2 1659,1262.5 1657,1261.2 1655,1262.7 1653,1261.2 1651,1262.1 1649,1264.4 1647,1263 1645,1263.3 1643,1258.5 1641,1259.1 1639,1260.2 1637,1262.5 1635,1261.9 1633,1262.4 1631,1261 1629,1262.7 1627,1260.7 1625,1252.6 1623,1257.8 1621,1254.3 1619,1254.8 1617,1255.3 1615,1258.2 1613,1256.6 1611,1259.4 1609,1263.5 1607,1259.2 1605,1254.1 1603,1255 1601,1258 1599,1258 1597,1256.8 1595,1256 1593,1257.4 1591,1257.7 1589,1256.7 1587,1255.7 1585,1257.3 1583,1258.1 1581,1256.7 1579,1252.1 1577,1249.7 1575,1250.1 1573,1251.9 1571,1253.8 1569,1255.6 1567,1258.4 1565,1259.5 1563,1254.9 1561,1252.3 1559,1249.9 1557,1253.7 1555,1255.6 1553,1258.8 1551,1256.7 1549,1254.9 1547,1254.7 1545,1253.9 1543,1254.4 1541,1255.6 1539,1253.7 1537,1250.2 1535,1247.8 1533,1246.9 1531,1248.8 1529,1251.2 1527,1254.9 1525,1252.5 1523,1247.5 1521,1248 1519,1245.9 1517,1249.9 1515,1250.7 1513,1254 1511,1253.1 1509,1252.2 1507,1251.1 1505,1251.2 1503,1251.9 1501,1253.9 1499,1252.3 1497,1251.6 1495,1248.7 1493,1253.4 1491,1252.8 1489,1255.1 1487,1246.5 1485,1245.9 1483,1248.5 1481,1245.9 1479,1245.8 1477,1245.5 1475,1247.4 1473,1247 1471,1250.2 1469,1250 1467,1241.8 1465,1246.6 1463,1251.2 1461,1252.1 1459,1249.1 1457,1243 1455,1240.1 1453,1246.1 1451,1249.4 1449,1245.2 1447,1244.4 1445,1246.3 1443,1245.4 1441,1246.9 1439,1245.1 1437,1244.2 1435,1245 1433,1246.3 1431,1248.2 1429,1247.4 1427,1245.2 1425,1241.8 1423,1237.5 1421,1242.2 1419,1242.2 1417,1241.4 1415,1237.7 1413,1238.6 1411,1241.3 1409,1241.4 1407,1243.5 1405,1241.7 1403,1240 1401,1234.1 1399,1236.3 1397,1238.8 1395,1239.1 1393,1238.6 1391,1232.6 1389,1231.1 1387,1235.7 1385,1238.8 1383,1237 1381,1238.9 1379,1238.9 1377,1240.6 1375,1233.8 1373,1235.1 1371,1234.1 1369,1238.8 1367,1240.1 1365,1238.6 1363,1236.5 1361,1239.2 1359,1242.5 1357,1242.1 1355,1237.4 1353,1231.1 1351,1234.1 1349,1233.2 1347,1237.2 1345,1238 1343,1239.3 1341,1238.6 1339,1234.4 1337,1229.3 1335,1230.3 1333,1231.9 1331,1237.3 1329,1238.6 1327,1230.4 1325,1229.6 1323,1226.6 1321,1231.4 1319,1231 1317,1235.7 1315,1226.9 1313,1229.9 1311,1229 1309,1232.9 1307,1230.1 1305,1234.1 1303,1230.9 1301,1235.1 1299,1228.8 1297,1226.5 1295,1228.6 1293,1230.7 1291,1223.4 1289,1228.6 1287,1231.3 1285,1231 1283,1228 1281,1229.7 1279,1232.4 1277,1228.9 1275,1230.7 1273,1228 1271,1225.4 1269,1228.6 1267,1227.8 1265,1222.5 1263,1223.9 1261,1220.2 1259,1221.9 1257,1222.5 1255,1222.1 1253,1228.6 1251,1227.7 1249,1225.8 1247,1223.5 1245,1226 1243,1226.2 1241,1225.2 1239,1226.2 1237,1224.3 1235,1223.1 1233,1220.7 1231,1223.1 1229,1220.2 1227,1217.3 1225,1219.6 1223,1220.7 1221,1222.5 1219,1221.1 1217,1217.8 1215,1217.2 1213,1218 1211,1224 1209,1220.2 1207,1224.3 1205,1221.8 1203,1219.2 1201,1213.5 1199,1213.5 1197,1215.9 1195,1214.6 1193,1217.5 1191,1218.7 1189,1218.3 1187,1219.6 1185,1219 1183,1219.3 1181,1215.9 1179,1215.9 1177,1216.5 1175,1222.5 1173,1222.2 1171,1219.2 1169,1219.8 1167,1214.5 1165,1215.7 1163,1217.5 1161,1217.1 1159,1220.9 1157,1216.2 1155,1218.6 1153,1216.7 1151,1219.2 1149,1225.1 1147,1219 1145,1211.3 1143,1216.3 1141,1211.6 1139,1219.8 1137,1221.3 1135,1215.2 1133,1210.2 1131,1206.5 1129,1215.1 1127,1216.1 1125,1219.6 1123,1216.7 1121,1218.9 1119,1217.4 1117,1209.8 1115,1210.3 1113,1213.5 1111,1216.2 1109,1216.7 1107,1210.4 1105,1212.5 1103,1212.1 1101,1211.4 1099,1207.4 1097,1214.5 1095,1214.9 1093,1209.5 1091,1209.3 1089,1207.4 1087,1208 1085,1208.7 1083,1208.3 1081,1206.9 1079,1208.7 1077,1206.6 1075,1206.3 1073,1204.9 1071,1205 1069,1209.2 1067,1212.7 1065,1212.3 1063,1208.8 1061,1209.3 1059,1209.7 1057,1208.7 1055,1204.1 1053,1201.3 1051,1200.9 1049,1204.4 1047,1210.2 1045,1211.6 1043,1210.3 1041,1205.3 1039,1204.3 1037,1196.6 1035,1196.7 1033,1200.3 1031,1202.4 1029,1203.8 1027,1203.3 1025,1203.8 1023,1207.6 1021,1201.5 1019,1202.2 1017,1200.7 1015,1206.9 1013,1200.9 1011,1206.1 1009,1202.3 1007,1203.9 1005,1200.2 1003,1198.8 1001,1196.5 999,1190.6 997,1193.8 995,1196.5 993,1197.7 991,1201.9 989,1201.4 987,1200.7 985,1196.9 983,1195.1 981,1195.1 979,1196.1 977,1193.9 975,1192.8 973,1192 971,1193.2 969,1196.3 967,1198.9 965,1200.4 963,1195.1 961,1192.2 959,1187.7 957,1192.4 955,1188 953,1192.2 951,1193.5 949,1191.8 947,1193.2 945,1191.6 943,1193.7 941,1194.2 939,1196.3 937,1193.4 935,1192.5 933,1186.1 931,1187.8 929,1187.5 927,1186.6 925,1186.6 923,1189.7 921,1189.9 919,1189.3 917,1191.2 915,1190.2 913,1191.5 911,1191.5 909,1185.2 907,1183.6 905,1186.9 903,1184.5 901,1184.9 899,1186.7 897,1182.3 895,1188.6 893,1174.1 891,1178.7 889,1179.1 887,1181 885,1178.7 883,1177.9 881,1179.2 879,1180.5 877,1180.4 875,1178.8 873,1181.1 871,1181.4 869,1180 867,1175.2 865,1174.9 863,1179.1 861,1179 859,1173.5 857,1172.7 855,1177.2 853,1175.3 851,1172.7 849,1173.8 847,1174.2 845,1172.3 843,1173.8 841,1178 839,1176.7 837,1176.8 835,1171.1 833,1168.9 831,1172.5 829,1176.6 827,1172.8 825,1168.3 823,1167.6 821,1167.8 819,1167.7 817,1165.4 815,1168.1 813,1167.4 811,1171.1 809,1168.7 807,1168.7 805,1165.2 803,1169.1 801,1168.3 799,1169.8 797,1172.4 795,1171.1 793,1167.6 791,1164.5 789,1162.9 787,1167.5 785,1169.1 783,1160.9 781,1166.6 779,1162.9 777,1163.6 775,1168.4 773,1158.9 771,1160.1 769,1162.2 767,1162 765,1160.8 763,1156.8 761,1157.5 759,1156.9 757,1159.7 755,1160.3 753,1165.1 751,1165.7 749,1162.9 747,1159.4 745,1155.2 743,1154.9 741,1155.6 739,1156.2 737,1155.2 735,1154.2 733,1155.8 731,1154.2 729,1151.5 727,1155 725,1155 723,1154.5 721,1153.4 719,1157.7 717,1159.4 715,1160.6 713,1152.9 711,1153.9 709,1152.7 707,1151.9 705,1150.5 703,1150.2 701,1153.7 699,1149 697,1149.3 695,1149.3 693,1150.6 691,1149.9 689,1149.3 687,1150.6 685,1150.6 683,1143.7 681,1137 679,1136.9 677,1135 675,1139.5 673,1138.7 671,1135.5 669,1132.4 667,1132.3 665,1129.8 663,1131 661,1131.2 659,1126.1 657,1126.5 655,1124.7 653,1127.6 651,1132.1 649,1131.3 647,1135.8 645,1134.2 643,1133.4 641,1133.4 639,1129.8 637,1132.7 635,1136 633,1133.1 631,1132.9 629,1134.3 627,1134.6 625,1137.1 623,1129.4 621,1131.1 619,1131.3 617,1130.5 615,1125.8 613,1129.9 611,1132.6 609,1131.9 607,1128.7Z" fill="#ff00ff"/>
</g>
<rect x="890.6" y="862.5" width="1159.6" height="103.7" fill="#fff" stroke="#111" stroke-width="2.4"/>
<line x1="938.6" y1="920.2" x2="1122.6" y2="920.2" stroke="#ff00ff" stroke-width="6.0" stroke-linecap="round"/>
<text transform="translate(1149,947.9)" font-size="52.3" font-family="Liberation Serif, serif" font-weight="bold">Active power</text>
<line x1="1470.3" y1="920.2" x2="1653.4" y2="920.2" stroke="#00ff00" stroke-width="5.9" stroke-linecap="round" stroke-dasharray="9.2,16"/>
<text transform="translate(1681,947.9)" font-size="52.3" font-family="Liberation Serif, serif" font-weight="bold">Reactive power</text>
<rect x="230.1" y="1643.6" width="1837.6" height="6.4" fill="#000"/>
<rect x="230.1" y="2318.6" width="1837.6" height="6.4" fill="#000"/>
<rect x="230.1" y="1643.6" width="5.8" height="681.4" fill="#000"/>
<rect x="2061.9" y="1643.6" width="5.8" height="681.4" fill="#000"/>
<rect x="596.6" y="2300.2" width="5.6" height="21.6" fill="#000"/>
<rect x="962.9" y="2300.2" width="5.6" height="21.6" fill="#000"/>
<rect x="1329.3" y="2300.2" width="5.6" height="21.6" fill="#000"/>
<rect x="1695.6" y="2300.2" width="5.6" height="21.6" fill="#000"/>
<rect x="233" y="1688.1" width="21.9" height="6.2" fill="#000"/>
<rect x="233" y="1823.3" width="21.9" height="6.2" fill="#000"/>
<rect x="233" y="1958.5" width="21.9" height="6.2" fill="#000"/>
<rect x="233" y="2093.7" width="21.9" height="6.2" fill="#000"/>
<rect x="233" y="2228.9" width="21.9" height="6.2" fill="#000"/>
<text transform="translate(210.6,1706.8) scale(0.975,1)" text-anchor="end" font-size="46" font-family="Liberation Serif, serif" font-weight="bold">9.0x10<tspan dy="-21.9" dx="-0.4" font-size="25.5">5</tspan></text>
<text transform="translate(210.6,1842) scale(0.975,1)" text-anchor="end" font-size="46" font-family="Liberation Serif, serif" font-weight="bold">6.0x10<tspan dy="-21.9" dx="-0.4" font-size="25.5">5</tspan></text>
<text transform="translate(210.6,1977.2) scale(0.975,1)" text-anchor="end" font-size="46" font-family="Liberation Serif, serif" font-weight="bold">3.0x10<tspan dy="-21.9" dx="-0.4" font-size="25.5">5</tspan></text>
<text transform="translate(211,2112.4) scale(0.975,1)" text-anchor="end" font-size="46" font-family="Liberation Serif, serif" font-weight="bold">0.0</text>
<text transform="translate(210.6,2247.6) scale(0.975,1)" text-anchor="end" font-size="46" font-family="Liberation Serif, serif" font-weight="bold">-3.0x10<tspan dy="-21.9" dx="-0.4" font-size="25.5">5</tspan></text>
<text transform="translate(232.5,2378.1) scale(0.975,1)" text-anchor="middle" font-size="46" font-family="Liberation Serif, serif" font-weight="bold">1</text>
<text transform="translate(598.9,2378.1) scale(0.975,1)" text-anchor="middle" font-size="46" font-family="Liberation Serif, serif" font-weight="bold">2</text>
<text transform="translate(965.2,2378.1) scale(0.975,1)" text-anchor="middle" font-size="46" font-family="Liberation Serif, serif" font-weight="bold">3</text>
<text transform="translate(1331.6,2378.1) scale(0.975,1)" text-anchor="middle" font-size="46" font-family="Liberation Serif, serif" font-weight="bold">4</text>
<text transform="translate(1697.9,2378.1) scale(0.975,1)" text-anchor="middle" font-size="46" font-family="Liberation Serif, serif" font-weight="bold">5</text>
<text transform="translate(2064.3,2378.1) scale(0.975,1)" text-anchor="middle" font-size="46" font-family="Liberation Serif, serif" font-weight="bold">6</text>
<text transform="translate(1149.2,2434.3)" text-anchor="middle" font-size="52.3" font-family="Liberation Serif, serif" font-weight="bold">Time(s)</text>
<text transform="translate(55.3,1948.4) rotate(-90)" text-anchor="middle" font-size="52.15" font-family="Liberation Serif, serif" font-weight="bold">Power(W&amp;Var)</text>
<text transform="translate(294,1741.5)" font-size="68.5" font-family="Liberation Serif, serif" font-weight="bold">(c)</text>
<clipPath id="cp3"><rect x="233.0" y="1646.8" width="1829.3000000000002" height="675"/></clipPath>
<g clip-path="url(#cp3)">
<line x1="597.4" y1="2083.1" x2="2049.2" y2="2083.1" stroke="#00ff00" stroke-width="5.4" stroke-linecap="round" stroke-dasharray="6.6,10.4"/>
<path d="M233,2083.1 598.2,2083.1 606.4,1944.5" fill="none" stroke="#ff00ff" stroke-width="6.0" stroke-linejoin="miter" stroke-linecap="butt"/>
<path d="M605.4,1939.7 607.4,1939.7 609.4,1940.6 611.4,1940.5 613.4,1939.3 615.4,1936 617.4,1937 619.4,1940 621.4,1939.9 623.4,1940.1 625.4,1939.8 627.4,1938.6 629.4,1940.5 631.4,1938.4 633.4,1938.5 635.4,1936.2 637.4,1936.7 639.4,1936.8 641.4,1935.1 643.4,1934.7 645.4,1934.5 647.4,1935.9 649.4,1935.5 651.4,1933.9 653.4,1934.9 655.4,1935.4 657.4,1934.8 659.4,1934.7 661.4,1936.1 663.4,1936.3 665.4,1937 667.4,1938.1 669.4,1938.9 671.4,1940.5 673.4,1939.8 675.4,1939 677.4,1940.9 679.4,1940.7 681.4,1941.8 683.4,1941.5 685.4,1942.7 687.4,1941.7 689.4,1943.4 691.4,1941.6 693.4,1942.6 695.4,1944.5 697.4,1942.7 699.4,1944.8 701.4,1941.2 703.4,1944.3 705.4,1944.2 707.4,1942.4 709.4,1942.3 711.4,1943.1 713.4,1943.9 715.4,1944.3 717.4,1943.2 719.4,1943.7 721.4,1944.6 723.4,1943.7 725.4,1942.7 727.4,1944.1 729.4,1943.8 731.4,1942.5 733.4,1944.9 735.4,1944.9 737.4,1943.8 739.4,1944.9 741.4,1945.5 743.4,1943.8 745.4,1941.9 747.4,1943.7 749.4,1944.5 751.4,1944.4 753.4,1945.6 755.4,1943.8 757.4,1944.1 759.4,1943.9 761.4,1943.1 763.4,1942.3 765.4,1941.7 767.4,1941.4 769.4,1941.4 771.4,1942.1 773.4,1942.2 775.4,1942.7 777.4,1941.9 779.4,1943 781.4,1942.7 783.4,1941.6 785.4,1942.8 787.4,1941.9 789.4,1944.1 791.4,1943.1 793.4,1943.4 795.4,1943.6 797.4,1943.2 799.4,1943.1 801.4,1942.6 803.4,1944.7 805.4,1945.3 807.4,1945.4 809.4,1945 811.4,1945 813.4,1945.6 815.4,1944.9 817.4,1945.8 819.4,1946 821.4,1944.2 823.4,1945 825.4,1943.1 827.4,1944.8 829.4,1944.9 831.4,1943.8 833.4,1944.5 835.4,1946.1 837.4,1944.6 839.4,1944.4 841.4,1945.1 843.4,1944.3 845.4,1943.6 847.4,1944.6 849.4,1944 851.4,1944.3 853.4,1945.1 855.4,1945.4 857.4,1943.9 859.4,1942.8 861.4,1942.9 863.4,1943.4 865.4,1942.7 867.4,1943.8 869.4,1942.6 871.4,1942.7 873.4,1943.5 875.4,1943.6 877.4,1943.4 879.4,1943 881.4,1944 883.4,1944.1 885.4,1943.3 887.4,1943 889.4,1942.6 891.4,1941.7 893.4,1943.3 895.4,1942.6 897.4,1941.6 899.4,1942.8 901.4,1940.9 903.4,1941.9 905.4,1941.2 907.4,1941 909.4,1941.9 911.4,1941.4 913.4,1942 915.4,1942.8 917.4,1943.5 919.4,1942.6 921.4,1942.7 923.4,1942.5 925.4,1943.2 927.4,1942.8 929.4,1943.6 931.4,1942.7 933.4,1942.4 935.4,1941.6 937.4,1942.2 939.4,1943.9 941.4,1943 943.4,1944.3 945.4,1944.4 947.4,1944.6 949.4,1944.9 951.4,1945.9 953.4,1945 955.4,1945.4 957.4,1945.1 959.4,1945.7 961.4,1945.7 963.4,1944.3 965.4,1944.5 967.4,1945.5 969.4,1945.1 971.4,1945.2 973.4,1944 975.4,1944.9 977.4,1944.2 979.4,1944.3 981.4,1943.5 983.4,1943.1 985.4,1943.1 987.4,1943.2 989.4,1943.4 991.4,1941.9 993.4,1943.2 995.4,1943 997.4,1942.1 999.4,1942.1 1001.4,1942.5 1003.4,1943.8 1005.4,1944 1007.4,1943.8 1009.4,1944 1011.4,1943.7 1013.4,1943.4 1015.4,1944.4 1017.4,1944.6 1019.4,1945.6 1021.4,1946.1 1023.4,1946.2 1025.4,1946 1027.4,1946.8 1029.4,1944.6 1031.4,1945.7 1033.4,1946.1 1035.4,1946.8 1037.4,1947.2 1039.4,1947.4 1041.4,1946.5 1043.4,1945.9 1045.4,1945.6 1047.4,1943.8 1049.4,1943.6 1051.4,1945.4 1053.4,1945.8 1055.4,1944.9 1057.4,1945.8 1059.4,1946.6 1061.4,1946.1 1063.4,1946.2 1065.4,1947.3 1067.4,1946.6 1069.4,1947.5 1071.4,1946.9 1073.4,1946.7 1075.4,1945.8 1077.4,1946.5 1079.4,1946 1081.4,1945.1 1083.4,1944.4 1085.4,1942.2 1087.4,1942.1 1089.4,1943.7 1091.4,1943.3 1093.4,1943.6 1095.4,1943.3 1097.4,1943.1 1099.4,1942.4 1101.4,1943.3 1103.4,1943.6 1105.4,1943.7 1107.4,1943.4 1109.4,1944.1 1111.4,1944.2 1113.4,1944.2 1115.4,1943.7 1117.4,1943.1 1119.4,1944.1 1121.4,1945.4 1123.4,1945.2 1125.4,1946.3 1127.4,1946.2 1129.4,1946.9 1131.4,1947.1 1133.4,1947 1135.4,1947 1137.4,1946 1139.4,1946.4 1141.4,1946.8 1143.4,1944.8 1145.4,1943.8 1147.4,1945.2 1149.4,1944.6 1151.4,1943.2 1153.4,1943 1155.4,1942.5 1157.4,1943.1 1159.4,1943.8 1161.4,1942.9 1163.4,1943.6 1165.4,1943.9 1167.4,1944.5 1169.4,1944.9 1171.4,1943.6 1173.4,1944.4 1175.4,1942.8 1177.4,1944.5 1179.4,1944.6 1181.4,1943.8 1183.4,1944.4 1185.4,1944.5 1187.4,1944 1189.4,1943.1 1191.4,1943.7 1193.4,1944.3 1195.4,1944.6 1197.4,1944.8 1199.4,1945.1 1201.4,1943.6 1203.4,1943.3 1205.4,1943.8 1207.4,1943 1209.4,1942.6 1211.4,1943 1213.4,1942.5 1215.4,1943 1217.4,1943.5 1219.4,1942.8 1221.4,1943.4 1223.4,1942.9 1225.4,1943.7 1227.4,1943.6 1229.4,1943.8 1231.4,1943.6 1233.4,1944.7 1235.4,1943.4 1237.4,1942.6 1239.4,1943.5 1241.4,1942.8 1243.4,1943.4 1245.4,1942.5 1247.4,1943.2 1249.4,1943 1251.4,1943 1253.4,1943.8 1255.4,1943.2 1257.4,1943.1 1259.4,1943.9 1261.4,1944.7 1263.4,1944.2 1265.4,1943.8 1267.4,1944.3 1269.4,1945.2 1271.4,1944.6 1273.4,1945.3 1275.4,1945.1 1277.4,1944.9 1279.4,1944.5 1281.4,1943.3 1283.4,1944.4 1285.4,1943.3 1287.4,1942.6 1289.4,1944.4 1291.4,1944.1 1293.4,1942.6 1295.4,1944.2 1297.4,1944.7 1299.4,1944.5 1301.4,1943.9 1303.4,1943 1305.4,1944.4 1307.4,1944.2 1309.4,1944.2 1311.4,1944.4 1313.4,1942.5 1315.4,1942.1 1317.4,1942.9 1319.4,1942.4 1321.4,1943 1323.4,1944 1325.4,1943.6 1327.4,1941.7 1329.4,1941.3 1331.4,1941.6 1333.4,1942.1 1335.4,1942.1 1337.4,1942 1339.4,1943.9 1341.4,1943.9 1343.4,1944.1 1345.4,1943.5 1347.4,1944.1 1349.4,1944.5 1351.4,1945.9 1353.4,1946.1 1355.4,1945.7 1357.4,1945.4 1359.4,1944.2 1361.4,1944.1 1363.4,1944 1365.4,1943.8 1367.4,1942.6 1369.4,1944 1371.4,1944.5 1373.4,1944.2 1375.4,1944.6 1377.4,1942.7 1379.4,1943.1 1381.4,1943.5 1383.4,1943.4 1385.4,1943.8 1387.4,1944.2 1389.4,1944.4 1391.4,1943.7 1393.4,1942.8 1395.4,1942.7 1397.4,1944.5 1399.4,1942.6 1401.4,1944 1403.4,1943.9 1405.4,1943.8 1407.4,1944.4 1409.4,1945 1411.4,1943.3 1413.4,1944.2 1415.4,1944.7 1417.4,1945 1419.4,1945.3 1421.4,1944.8 1423.4,1946.2 1425.4,1946.4 1427.4,1944.8 1429.4,1945.1 1431.4,1944.7 1433.4,1943.8 1435.4,1944.4 1437.4,1944.2 1439.4,1944.1 1441.4,1943.9 1443.4,1943.6 1445.4,1944.1 1447.4,1942.2 1449.4,1943 1451.4,1942.5 1453.4,1943.7 1455.4,1942.6 1457.4,1944.3 1459.4,1944.5 1461.4,1943.5 1463.4,1943.8 1465.4,1944.2 1467.4,1943.3 1469.4,1943.1 1471.4,1944.6 1473.4,1943.1 1475.4,1942.4 1477.4,1943.4 1479.4,1943.4 1481.4,1944 1483.4,1943.7 1485.4,1942.4 1487.4,1943.5 1489.4,1944.2 1491.4,1944 1493.4,1942.3 1495.4,1943.8 1497.4,1943.9 1499.4,1944.3 1501.4,1945.6 1503.4,1944.8 1505.4,1944.3 1507.4,1943.4 1509.4,1944 1511.4,1943.4 1513.4,1942.8 1515.4,1942.3 1517.4,1942.7 1519.4,1941.5 1521.4,1941.2 1523.4,1940.1 1525.4,1940.1 1527.4,1940.8 1529.4,1939.8 1531.4,1939.5 1533.4,1941.4 1535.4,1940.1 1537.4,1941.1 1539.4,1942 1541.4,1941.7 1543.4,1943.3 1545.4,1942.7 1547.4,1944.2 1549.4,1943.9 1551.4,1944.2 1553.4,1943.7 1555.4,1943.8 1557.4,1944 1559.4,1945.2 1561.4,1944.6 1563.4,1945.6 1565.4,1944.6 1567.4,1944.8 1569.4,1944.4 1571.4,1943.3 1573.4,1943.7 1575.4,1942.4 1577.4,1943.6 1579.4,1942.8 1581.4,1943 1583.4,1941.5 1585.4,1942.1 1587.4,1942.4 1589.4,1942.6 1591.4,1942.6 1593.4,1942.6 1595.4,1943 1597.4,1943.7 1599.4,1944.6 1601.4,1943.1 1603.4,1943.4 1605.4,1943.6 1607.4,1944.5 1609.4,1944.4 1611.4,1944.7 1613.4,1943.4 1615.4,1942.9 1617.4,1943.5 1619.4,1943.9 1621.4,1944.6 1623.4,1943.3 1625.4,1944.3 1627.4,1944 1629.4,1943.8 1631.4,1944.8 1633.4,1943.8 1635.4,1944.1 1637.4,1942.8 1639.4,1945.3 1641.4,1944.5 1643.4,1945.2 1645.4,1944.9 1647.4,1945.7 1649.4,1944.8 1651.4,1944.3 1653.4,1945.8 1655.4,1945.4 1657.4,1945.1 1659.4,1944.6 1661.4,1944.6 1663.4,1944.5 1665.4,1943.4 1667.4,1943.4 1669.4,1943.7 1671.4,1943.2 1673.4,1943.8 1675.4,1943.1 1677.4,1942.3 1679.4,1942.8 1681.4,1943.1 1683.4,1943.3 1685.4,1941.6 1687.4,1942.9 1689.4,1944.6 1691.4,1943.5 1693.4,1944 1695.4,1943.7 1697.4,1943.7 1699.4,1944.3 1701.4,1944.7 1703.4,1943.9 1705.4,1943.8 1707.4,1942.2 1709.4,1942.3 1711.4,1942.7 1713.4,1942.2 1715.4,1942.9 1717.4,1942.8 1719.4,1944 1721.4,1943.5 1723.4,1942.9 1725.4,1943.3 1727.4,1943.6 1729.4,1942.8 1731.4,1941.6 1733.4,1941.5 1735.4,1942 1737.4,1941.2 1739.4,1941.1 1741.4,1940.3 1743.4,1939.3 1745.4,1940.8 1747.4,1941.1 1749.4,1940 1751.4,1938.7 1753.4,1940.1 1755.4,1941.1 1757.4,1940.6 1759.4,1941.3 1761.4,1940.8 1763.4,1940.2 1765.4,1941.6 1767.4,1943 1769.4,1943.3 1771.4,1944 1773.4,1944.1 1775.4,1943 1777.4,1943 1779.4,1944.1 1781.4,1944 1783.4,1944.2 1785.4,1943.5 1787.4,1944.2 1789.4,1944.7 1791.4,1943.2 1793.4,1942.6 1795.4,1942.2 1797.4,1943.1 1799.4,1943.5 1801.4,1943.2 1803.4,1942.7 1805.4,1943.4 1807.4,1945.3 1809.4,1944.8 1811.4,1944.2 1813.4,1944.5 1815.4,1944.2 1817.4,1943.8 1819.4,1944.9 1821.4,1943.2 1823.4,1944.2 1825.4,1945.5 1827.4,1943.9 1829.4,1943 1831.4,1943.5 1833.4,1944.5 1835.4,1945.3 1837.4,1944.4 1839.4,1945.8 1841.4,1945.7 1843.4,1944.5 1845.4,1945.1 1847.4,1944.8 1849.4,1944.5 1851.4,1945.3 1853.4,1945.5 1855.4,1945.6 1857.4,1943.8 1859.4,1942.8 1861.4,1943.9 1863.4,1943.5 1865.4,1944.5 1867.4,1945.3 1869.4,1942.7 1871.4,1943.2 1873.4,1943.8 1875.4,1943 1877.4,1942.5 1879.4,1942.9 1881.4,1943.1 1883.4,1943.6 1885.4,1943.8 1887.4,1943.3 1889.4,1942.8 1891.4,1941.9 1893.4,1942.5 1895.4,1944.1 1897.4,1944.5 1899.4,1945.1 1901.4,1944.6 1903.4,1944.8 1905.4,1945.7 1907.4,1945.5 1909.4,1944.6 1911.4,1944.8 1913.4,1945.4 1915.4,1946.2 1917.4,1945.8 1919.4,1945.6 1921.4,1945.1 1923.4,1944.9 1925.4,1944.3 1927.4,1942.9 1929.4,1942.9 1931.4,1942.6 1933.4,1942.6 1935.4,1942.8 1937.4,1941.5 1939.4,1942.7 1941.4,1942 1943.4,1942.8 1945.4,1943.3 1947.4,1942.4 1949.4,1942.3 1951.4,1942.5 1953.4,1942.7 1955.4,1943.8 1957.4,1944.6 1959.4,1944.3 1961.4,1945.1 1963.4,1945.6 1965.4,1945 1967.4,1945.2 1969.4,1945.4 1971.4,1945 1973.4,1944.7 1975.4,1944.2 1977.4,1944.1 1979.4,1943.5 1981.4,1943.6 1983.4,1943.9 1985.4,1942.3 1987.4,1944.3 1989.4,1943.9 1991.4,1943.9 1993.4,1943.8 1995.4,1941.3 1997.4,1941.3 1999.4,1942.7 2001.4,1941.4 2003.4,1942.2 2005.4,1941.4 2007.4,1941 2009.4,1941.8 2011.4,1940.5 2013.4,1941.2 2015.4,1941.3 2017.4,1939.6 2019.4,1940.5 2021.4,1940 2023.4,1939.8 2025.4,1941 2027.4,1941.2 2029.4,1941 2031.4,1940.7 2033.4,1942.1 2035.4,1941.6 2037.4,1941.3 2039.4,1942.5 2041.4,1943.8 2043.4,1944.2 2045.4,1943 2047.4,1944.4 2049.4,1943.5 2051.4,1944.7 2053.4,1945 2055.4,1945.8 2057.4,1945.9 2059.4,1945.5 2061.4,1945.7 2063.4,1944.1 L2063.4,1954.1 2061.4,1953.8 2059.4,1954.2 2057.4,1954.1 2055.4,1953.7 2053.4,1953.5 2051.4,1952.5 2049.4,1952.7 2047.4,1952.2 2045.4,1952.3 2043.4,1952.5 2041.4,1951.5 2039.4,1950.8 2037.4,1949.3 2035.4,1950.1 2033.4,1950.2 2031.4,1950.2 2029.4,1949.9 2027.4,1949.8 2025.4,1949.1 2023.4,1949.3 2021.4,1949.3 2019.4,1948.2 2017.4,1948.7 2015.4,1949.5 2013.4,1950.5 2011.4,1949.3 2009.4,1950.2 2007.4,1950.6 2005.4,1950.7 2003.4,1950.4 2001.4,1950.7 1999.4,1950.5 1997.4,1950.8 1995.4,1951.2 1993.4,1951.2 1991.4,1952.3 1989.4,1953.2 1987.4,1952.5 1985.4,1951.8 1983.4,1951.6 1981.4,1951.9 1979.4,1951.5 1977.4,1952.7 1975.4,1954.3 1973.4,1953.7 1971.4,1953 1969.4,1953.6 1967.4,1953.2 1965.4,1953.7 1963.4,1953.3 1961.4,1953.4 1959.4,1952.7 1957.4,1953.7 1955.4,1954.3 1953.4,1953 1951.4,1952.8 1949.4,1951.8 1947.4,1953.1 1945.4,1950.9 1943.4,1952.2 1941.4,1951.7 1939.4,1951.6 1937.4,1951.3 1935.4,1950.9 1933.4,1952.4 1931.4,1951.9 1929.4,1951.9 1927.4,1952.3 1925.4,1953.3 1923.4,1952.7 1921.4,1952.7 1919.4,1953.9 1917.4,1953.4 1915.4,1954.7 1913.4,1953.7 1911.4,1954.1 1909.4,1954 1907.4,1953.3 1905.4,1953.7 1903.4,1954.1 1901.4,1954.4 1899.4,1953.6 1897.4,1953.5 1895.4,1952.5 1893.4,1953 1891.4,1952.3 1889.4,1951.2 1887.4,1951.9 1885.4,1951.7 1883.4,1952 1881.4,1950.7 1879.4,1951.1 1877.4,1950.4 1875.4,1951.2 1873.4,1951.4 1871.4,1952.7 1869.4,1952.8 1867.4,1953.3 1865.4,1952.8 1863.4,1952.3 1861.4,1952.4 1859.4,1954.1 1857.4,1953.2 1855.4,1953.7 1853.4,1954.3 1851.4,1953.9 1849.4,1952.7 1847.4,1953.3 1845.4,1953.1 1843.4,1952.5 1841.4,1953.9 1839.4,1954.2 1837.4,1954 1835.4,1952.9 1833.4,1952.9 1831.4,1952.5 1829.4,1952.1 1827.4,1953.6 1825.4,1954 1823.4,1953.3 1821.4,1952.7 1819.4,1953.7 1817.4,1951.6 1815.4,1952.6 1813.4,1952.4 1811.4,1952.3 1809.4,1952.7 1807.4,1953.1 1805.4,1953.7 1803.4,1952.3 1801.4,1951.3 1799.4,1951.8 1797.4,1951.9 1795.4,1951.4 1793.4,1953.7 1791.4,1953.1 1789.4,1953.5 1787.4,1953 1785.4,1952 1783.4,1951.9 1781.4,1952.3 1779.4,1951.8 1777.4,1952.2 1775.4,1952.2 1773.4,1952 1771.4,1952 1769.4,1952.3 1767.4,1951.7 1765.4,1950.6 1763.4,1950.6 1761.4,1950.1 1759.4,1949.3 1757.4,1948.1 1755.4,1949.6 1753.4,1950 1751.4,1949 1749.4,1950.2 1747.4,1949.8 1745.4,1949 1743.4,1948.4 1741.4,1949.5 1739.4,1950.2 1737.4,1951 1735.4,1950.8 1733.4,1952.7 1731.4,1951.5 1729.4,1952 1727.4,1952.2 1725.4,1951.4 1723.4,1951.5 1721.4,1952.3 1719.4,1952.7 1717.4,1951.4 1715.4,1951.6 1713.4,1950.7 1711.4,1951.1 1709.4,1952.4 1707.4,1951.5 1705.4,1952.5 1703.4,1952.4 1701.4,1952.4 1699.4,1952.9 1697.4,1952.1 1695.4,1954.1 1693.4,1954.2 1691.4,1952.7 1689.4,1952.7 1687.4,1952.5 1685.4,1951.3 1683.4,1953 1681.4,1951.7 1679.4,1951.9 1677.4,1950.8 1675.4,1951.8 1673.4,1952.2 1671.4,1951.9 1669.4,1952.5 1667.4,1952 1665.4,1953.1 1663.4,1953.1 1661.4,1952.9 1659.4,1952.9 1657.4,1953.2 1655.4,1953.9 1653.4,1954.1 1651.4,1954.1 1649.4,1953.1 1647.4,1953.7 1645.4,1953 1643.4,1955.2 1641.4,1954.6 1639.4,1953.2 1637.4,1953 1635.4,1953.6 1633.4,1952.4 1631.4,1952.8 1629.4,1952.2 1627.4,1952 1625.4,1952.3 1623.4,1952.2 1621.4,1953.9 1619.4,1953 1617.4,1952.4 1615.4,1952.6 1613.4,1952.3 1611.4,1952.5 1609.4,1953.9 1607.4,1953.1 1605.4,1952.5 1603.4,1951.9 1601.4,1952.4 1599.4,1952.5 1597.4,1953.2 1595.4,1953.2 1593.4,1952.6 1591.4,1951.2 1589.4,1950.4 1587.4,1951.5 1585.4,1951 1583.4,1951 1581.4,1950.9 1579.4,1952.1 1577.4,1952.5 1575.4,1950.6 1573.4,1952 1571.4,1952.8 1569.4,1954.4 1567.4,1952.6 1565.4,1954.3 1563.4,1953.1 1561.4,1953.4 1559.4,1953.2 1557.4,1952.1 1555.4,1952.7 1553.4,1951.6 1551.4,1953 1549.4,1952 1547.4,1951.7 1545.4,1950.8 1543.4,1951.6 1541.4,1951.1 1539.4,1950.1 1537.4,1950.9 1535.4,1949.7 1533.4,1950 1531.4,1949.3 1529.4,1949.6 1527.4,1949.5 1525.4,1948.5 1523.4,1948.7 1521.4,1949.8 1519.4,1950.1 1517.4,1950.5 1515.4,1951.8 1513.4,1952.4 1511.4,1952 1509.4,1952.1 1507.4,1953 1505.4,1952.8 1503.4,1953.3 1501.4,1953.8 1499.4,1953.3 1497.4,1952.4 1495.4,1952 1493.4,1950.8 1491.4,1953.7 1489.4,1952.2 1487.4,1951.4 1485.4,1952.4 1483.4,1952.2 1481.4,1951.6 1479.4,1952.3 1477.4,1951.1 1475.4,1952.5 1473.4,1951.7 1471.4,1952.6 1469.4,1953.1 1467.4,1951.9 1465.4,1952.5 1463.4,1954.3 1461.4,1952.5 1459.4,1952.3 1457.4,1952.7 1455.4,1951.7 1453.4,1952.5 1451.4,1951.7 1449.4,1952.1 1447.4,1951.4 1445.4,1952.1 1443.4,1953 1441.4,1952.3 1439.4,1952.7 1437.4,1952.8 1435.4,1953.3 1433.4,1953.1 1431.4,1953.3 1429.4,1953.4 1427.4,1954.2 1425.4,1954.3 1423.4,1954.5 1421.4,1953.3 1419.4,1954.7 1417.4,1953.1 1415.4,1952.5 1413.4,1952.8 1411.4,1952 1409.4,1953.2 1407.4,1953.5 1405.4,1952.6 1403.4,1952.8 1401.4,1951.9 1399.4,1950.8 1397.4,1953.3 1395.4,1951.3 1393.4,1954.1 1391.4,1952.8 1389.4,1953.4 1387.4,1952.9 1385.4,1952.1 1383.4,1953.9 1381.4,1952.9 1379.4,1951.5 1377.4,1951.6 1375.4,1953.1 1373.4,1952.9 1371.4,1952.2 1369.4,1952 1367.4,1951.3 1365.4,1952.2 1363.4,1951.7 1361.4,1952.5 1359.4,1954.4 1357.4,1954.8 1355.4,1954 1353.4,1954 1351.4,1954.4 1349.4,1953 1347.4,1953 1345.4,1952.7 1343.4,1952.9 1341.4,1953.3 1339.4,1952.5 1337.4,1951.5 1335.4,1950.8 1333.4,1949.9 1331.4,1950.6 1329.4,1951.6 1327.4,1951.1 1325.4,1951.3 1323.4,1952.5 1321.4,1951.4 1319.4,1951.4 1317.4,1951.6 1315.4,1951.5 1313.4,1952.3 1311.4,1953.3 1309.4,1952.4 1307.4,1953.3 1305.4,1954.5 1303.4,1953.1 1301.4,1951.9 1299.4,1952.5 1297.4,1953.2 1295.4,1952.4 1293.4,1952.5 1291.4,1953.8 1289.4,1955 1287.4,1954.6 1285.4,1953 1283.4,1952.2 1281.4,1951.5 1279.4,1952.5 1277.4,1953.2 1275.4,1953.3 1273.4,1953.1 1271.4,1954.7 1269.4,1954.7 1267.4,1952.2 1265.4,1952.7 1263.4,1953.9 1261.4,1954.2 1259.4,1951.9 1257.4,1952.3 1255.4,1952.3 1253.4,1951.5 1251.4,1951.4 1249.4,1950.7 1247.4,1951 1245.4,1952.1 1243.4,1951.6 1241.4,1951.1 1239.4,1951.4 1237.4,1952.3 1235.4,1952.6 1233.4,1953.6 1231.4,1951.7 1229.4,1952 1227.4,1952.6 1225.4,1951.6 1223.4,1951.2 1221.4,1952.7 1219.4,1951.9 1217.4,1952.6 1215.4,1951.7 1213.4,1951.7 1211.4,1952.1 1209.4,1952 1207.4,1951.8 1205.4,1952.3 1203.4,1952.5 1201.4,1952.5 1199.4,1953.7 1197.4,1954.6 1195.4,1954.5 1193.4,1952.3 1191.4,1953.9 1189.4,1952.8 1187.4,1952.7 1185.4,1953 1183.4,1954.2 1181.4,1953.8 1179.4,1952.9 1177.4,1953.1 1175.4,1952.9 1173.4,1952.9 1171.4,1952.6 1169.4,1953.4 1167.4,1952 1165.4,1952.5 1163.4,1952 1161.4,1952.3 1159.4,1953.2 1157.4,1952.4 1155.4,1951.9 1153.4,1951.9 1151.4,1952.1 1149.4,1953.6 1147.4,1952.8 1145.4,1953.5 1143.4,1955.3 1141.4,1955.5 1139.4,1955.2 1137.4,1955.1 1135.4,1955 1133.4,1955.2 1131.4,1955.4 1129.4,1955.7 1127.4,1955.9 1125.4,1955.2 1123.4,1954.6 1121.4,1953.4 1119.4,1952.6 1117.4,1953.2 1115.4,1953.9 1113.4,1952.5 1111.4,1952.6 1109.4,1953.5 1107.4,1953.7 1105.4,1952.6 1103.4,1951.8 1101.4,1951.8 1099.4,1951.6 1097.4,1951 1095.4,1953.4 1093.4,1954.2 1091.4,1953.3 1089.4,1952 1087.4,1951.4 1085.4,1952.4 1083.4,1952.8 1081.4,1954.7 1079.4,1954.2 1077.4,1954.4 1075.4,1955.1 1073.4,1956 1071.4,1955 1069.4,1955.7 1067.4,1954.3 1065.4,1954.9 1063.4,1954.7 1061.4,1955.3 1059.4,1956.4 1057.4,1954.8 1055.4,1953.8 1053.4,1954.7 1051.4,1953.9 1049.4,1953.9 1047.4,1953.6 1045.4,1954.3 1043.4,1954.9 1041.4,1955.3 1039.4,1956 1037.4,1956.5 1035.4,1954.6 1033.4,1954.5 1031.4,1954.2 1029.4,1954.9 1027.4,1954.5 1025.4,1955.3 1023.4,1954.5 1021.4,1954.6 1019.4,1953.3 1017.4,1953.6 1015.4,1952.9 1013.4,1952.2 1011.4,1953.1 1009.4,1955 1007.4,1952.1 1005.4,1953.1 1003.4,1951.8 1001.4,1951 999.4,1953.3 997.4,1952.1 995.4,1950.7 993.4,1951.6 991.4,1950.6 989.4,1951.6 987.4,1952.2 985.4,1952.7 983.4,1951.8 981.4,1952.7 979.4,1952.9 977.4,1953.1 975.4,1952.8 973.4,1952.7 971.4,1955.1 969.4,1955.2 967.4,1954.4 965.4,1953.8 963.4,1953.4 961.4,1954 959.4,1955.3 957.4,1954 955.4,1954.2 953.4,1953.5 951.4,1954.6 949.4,1953.4 947.4,1953.9 945.4,1952.6 943.4,1952.3 941.4,1952.1 939.4,1953.2 937.4,1951.5 935.4,1950.6 933.4,1950.5 931.4,1951 929.4,1952 927.4,1951.3 925.4,1952 923.4,1950.7 921.4,1951.6 919.4,1952.7 917.4,1952.6 915.4,1950.7 913.4,1950.9 911.4,1951.2 909.4,1952 907.4,1951.1 905.4,1951.1 903.4,1950.3 901.4,1950.2 899.4,1950.4 897.4,1950.3 895.4,1950.6 893.4,1951.1 891.4,1951.8 889.4,1952.6 887.4,1951.2 885.4,1952.3 883.4,1952.3 881.4,1951.9 879.4,1951.7 877.4,1951.8 875.4,1952.5 873.4,1951.6 871.4,1952.6 869.4,1952.9 867.4,1952.8 865.4,1951.6 863.4,1952.2 861.4,1951.7 859.4,1951.7 857.4,1952.6 855.4,1953.2 853.4,1953.9 851.4,1953.4 849.4,1953.3 847.4,1953.6 845.4,1953.9 843.4,1953.3 841.4,1953.7 839.4,1954.6 837.4,1954 835.4,1955.4 833.4,1954.6 831.4,1952.6 829.4,1952.9 827.4,1952.6 825.4,1953.3 823.4,1954.2 821.4,1954 819.4,1953.7 817.4,1953.6 815.4,1953.3 813.4,1954.1 811.4,1954.5 809.4,1956 807.4,1956 805.4,1953.7 803.4,1953.1 801.4,1952.6 799.4,1953.2 797.4,1953.7 795.4,1952.5 793.4,1951.6 791.4,1952.3 789.4,1952.5 787.4,1952.8 785.4,1951.7 783.4,1951.2 781.4,1951.1 779.4,1951.1 777.4,1951 775.4,1951 773.4,1952.5 771.4,1951.2 769.4,1951.7 767.4,1951.1 765.4,1949.8 763.4,1950.6 761.4,1953.6 759.4,1953.3 757.4,1952 755.4,1952.6 753.4,1954.2 751.4,1954.7 749.4,1952.8 747.4,1953.2 745.4,1952.2 743.4,1953.8 741.4,1954.2 739.4,1954.3 737.4,1953.4 735.4,1953.8 733.4,1954.4 731.4,1954.6 729.4,1953.1 727.4,1954.3 725.4,1955.8 723.4,1954.3 721.4,1953.9 719.4,1954.4 717.4,1953.5 715.4,1953.1 713.4,1953.5 711.4,1952.5 709.4,1954.6 707.4,1953.6 705.4,1953.7 703.4,1957.3 701.4,1955.1 699.4,1953.9 697.4,1956.3 695.4,1955.2 693.4,1954.3 691.4,1954.7 689.4,1952.5 687.4,1953.2 685.4,1953.1 683.4,1952.4 681.4,1953.4 679.4,1950.7 677.4,1950.2 675.4,1950.9 673.4,1950 671.4,1949.2 669.4,1950.4 667.4,1949.7 665.4,1950.8 663.4,1948.2 661.4,1947 659.4,1947.3 657.4,1947.6 655.4,1946.4 653.4,1945.9 651.4,1947.2 649.4,1947.6 647.4,1945.3 645.4,1947.6 643.4,1945 641.4,1948.9 639.4,1948.8 637.4,1950.6 635.4,1950.6 633.4,1948.4 631.4,1949.8 629.4,1949.6 627.4,1950.8 625.4,1950 623.4,1952.7 621.4,1949.2 619.4,1951.3 617.4,1949.5 615.4,1950 613.4,1948.8 611.4,1952.4 609.4,1949.7 607.4,1950.7 605.4,1950.7Z" fill="#ff00ff"/>
</g>
<rect x="890.6" y="1674.6" width="1159.6" height="103.7" fill="#fff" stroke="#111" stroke-width="2.4"/>
<line x1="938.6" y1="1732.3" x2="1122.6" y2="1732.3" stroke="#ff00ff" stroke-width="6.0" stroke-linecap="round"/>
<text transform="translate(1149,1760)" font-size="52.3" font-family="Liberation Serif, serif" font-weight="bold">Active power</text>
<line x1="1470.3" y1="1732.3" x2="1653.4" y2="1732.3" stroke="#00ff00" stroke-width="5.9" stroke-linecap="round" stroke-dasharray="9.2,16"/>
<text transform="translate(1681,1760)" font-size="52.3" font-family="Liberation Serif, serif" font-weight="bold">Reactive power</text>
<rect x="230.1" y="2486.6" width="1837.6" height="6.4" fill="#000"/>
<rect x="230.1" y="3257.5" width="1837.6" height="6.4" fill="#000"/>
<rect x="230.1" y="2486.6" width="5.8" height="777.3" fill="#000"/>
<rect x="2061.9" y="2486.6" width="5.8" height="777.3" fill="#000"/>
<rect x="596.6" y="3239.1" width="5.6" height="21.6" fill="#000"/>
<rect x="962.9" y="3239.1" width="5.6" height="21.6" fill="#000"/>
<rect x="1329.3" y="3239.1" width="5.6" height="21.6" fill="#000"/>
<rect x="1695.6" y="3239.1" width="5.6" height="21.6" fill="#000"/>
<rect x="233" y="2640.9" width="21.9" height="6.2" fill="#000"/>
<rect x="233" y="2795.1" width="21.9" height="6.2" fill="#000"/>
<rect x="233" y="2949.2" width="21.9" height="6.2" fill="#000"/>
<rect x="233" y="3103.4" width="21.9" height="6.2" fill="#000"/>
<text transform="translate(210.6,2505.4) scale(0.975,1)" text-anchor="end" font-size="46" font-family="Liberation Serif, serif" font-weight="bold">1.2x10<tspan dy="-21.9" dx="-0.4" font-size="25.5">6</tspan></text>
<text transform="translate(210.6,2659.6) scale(0.975,1)" text-anchor="end" font-size="46" font-family="Liberation Serif, serif" font-weight="bold">9.0x10<tspan dy="-21.9" dx="-0.4" font-size="25.5">5</tspan></text>
<text transform="translate(210.6,2813.8) scale(0.975,1)" text-anchor="end" font-size="46" font-family="Liberation Serif, serif" font-weight="bold">6.0x10<tspan dy="-21.9" dx="-0.4" font-size="25.5">5</tspan></text>
<text transform="translate(210.6,2967.9) scale(0.975,1)" text-anchor="end" font-size="46" font-family="Liberation Serif, serif" font-weight="bold">3.0x10<tspan dy="-21.9" dx="-0.4" font-size="25.5">5</tspan></text>
<text transform="translate(211,3122.1) scale(0.975,1)" text-anchor="end" font-size="46" font-family="Liberation Serif, serif" font-weight="bold">0.0</text>
<text transform="translate(210.6,3276.3) scale(0.975,1)" text-anchor="end" font-size="46" font-family="Liberation Serif, serif" font-weight="bold">-3.0x10<tspan dy="-21.9" dx="-0.4" font-size="25.5">5</tspan></text>
<text transform="translate(232.5,3315.5) scale(0.975,1)" text-anchor="middle" font-size="46" font-family="Liberation Serif, serif" font-weight="bold">1</text>
<text transform="translate(598.9,3315.5) scale(0.975,1)" text-anchor="middle" font-size="46" font-family="Liberation Serif, serif" font-weight="bold">2</text>
<text transform="translate(965.2,3315.5) scale(0.975,1)" text-anchor="middle" font-size="46" font-family="Liberation Serif, serif" font-weight="bold">3</text>
<text transform="translate(1331.6,3315.5) scale(0.975,1)" text-anchor="middle" font-size="46" font-family="Liberation Serif, serif" font-weight="bold">4</text>
<text transform="translate(1697.9,3315.5) scale(0.975,1)" text-anchor="middle" font-size="46" font-family="Liberation Serif, serif" font-weight="bold">5</text>
<text transform="translate(2064.3,3315.5) scale(0.975,1)" text-anchor="middle" font-size="46" font-family="Liberation Serif, serif" font-weight="bold">6</text>
<text transform="translate(1149.2,3367.7)" text-anchor="middle" font-size="52.3" font-family="Liberation Serif, serif" font-weight="bold">Time(s)</text>
<text transform="translate(55.3,2915.2) rotate(-90)" text-anchor="middle" font-size="52.15" font-family="Liberation Serif, serif" font-weight="bold">Power(W&amp;Var)</text>
<text transform="translate(281,2597)" font-size="68.5" font-family="Liberation Serif, serif" font-weight="bold">(d)</text>
<clipPath id="cp4"><rect x="233.0" y="2489.8" width="1829.3000000000002" height="770.9"/></clipPath>
<g clip-path="url(#cp4)">
<path d="M233,3110.6 235,3110.6 237,3110.6 239,3110.6 241,3110.6 243,3110.6 245,3110.6 247,3110.6 249,3110.6 251,3110.6 253,3110.6 255,3110.6 257,3110.6 259,3110.6 261,3110.6 263,3110.6 265,3110.6 267,3110.6 269,3110.6 271,3110.6 273,3110.6 275,3110.6 277,3110.6 279,3110.6 281,3110.6 283,3110.6 285,3110.6 287,3110.6 289,3110.6 291,3110.6 293,3110.6 295,3110.6 297,3110.6 299,3110.6 301,3110.6 303,3110.6 305,3110.6 307,3110.6 309,3110.6 311,3110.6 313,3110.6 315,3110.6 317,3110.6 319,3110.6 321,3110.6 323,3110.6 325,3110.6 327,3110.6 329,3110.6 331,3110.6 333,3110.6 335,3110.6 337,3110.6 339,3110.6 341,3110.6 343,3110.6 345,3110.6 347,3110.6 349,3110.6 351,3110.6 353,3110.6 355,3110.6 357,3110.6 359,3110.6 361,3110.6 363,3110.6 365,3110.6 367,3110.6 369,3110.6 371,3110.6 373,3110.6 375,3110.6 377,3110.6 379,3110.6 381,3110.6 383,3110.6 385,3110.6 387,3110.6 389,3110.6 391,3110.6 393,3110.6 395,3110.6 397,3110.6 399,3110.6 401,3110.6 403,3110.6 405,3110.6 407,3110.6 409,3110.6 411,3110.6 413,3110.6 415,3110.6 417,3110.6 419,3110.6 421,3110.6 423,3110.6 425,3110.6 427,3110.6 429,3110.6 431,3110.6 433,3110.6 435,3110.6 437,3110.6 439,3110.6 441,3110.6 443,3110.6 445,3110.6 447,3110.6 449,3110.6 451,3110.6 453,3110.6 455,3110.6 457,3110.6 459,3110.6 461,3110.6 463,3110.6 465,3110.6 467,3110.6 469,3110.6 471,3110.6 473,3110.6 475,3110.6 477,3110.6 479,3110.6 481,3110.6 483,3110.6 485,3110.6 487,3110.6 489,3110.6 491,3110.6 493,3110.6 495,3110.6 497,3110.6 499,3110.6 501,3110.6 503,3110.6 505,3110.6 507,3110.6 509,3110.6 511,3110.6 513,3110.6 515,3110.6 517,3110.6 519,3110.6 521,3110.6 523,3110.6 525,3110.6 527,3110.6 529,3110.6 531,3110.6 533,3110.6 535,3110.6 537,3110.6 539,3110.6 541,3110.6 543,3110.6 545,3110.6 547,3110.6 549,3110.6 551,3110.6 553,3110.6 555,3110.6 557,3110.6 559,3110.6 561,3110.6 563,3110.6 565,3110.6 567,3110.6 569,3110.6 571,3110.6 573,3110.6 575,3110.6 577,3110.6 579,3110.6 581,3110.6 583,3110.6 585,3110.6 587,3110.6 589,3110.6 591,3110.6 593,3110.6 595,3110.6 597,3110.6" fill="none" stroke="#ff00ff" stroke-width="6.5" stroke-linejoin="round" stroke-linecap="butt"/>
<path d="M597.4,3110.6 598.9,3130.7 600.4,3121.9 606.9,2911.2" fill="none" stroke="#ff00ff" stroke-width="5.6" stroke-linejoin="round" stroke-linecap="butt"/>
<path d="M607,2908.6 609,2911.7 611,2910.4 613,2903.7 615,2906.2 617,2908.8 619,2911.2 621,2912 623,2907.2 625,2915.5 627,2915.9 629,2913 631,2909.3 633,2911.5 635,2911 637,2912 639,2912.2 641,2910.2 643,2912.8 645,2913.9 647,2916.9 649,2910.9 651,2910.3 653,2906.9 655,2905.1 657,2908.2 659,2905.4 661,2909.5 663,2909.3 665,2908 667,2906.8 669,2910.6 671,2915.6 673,2919.1 675,2917.5 677,2915 679,2915.2 681,2916.8 683,2923.8 685,2929.4 687,2930.8 689,2930.3 691,2927.5 693,2929.7 695,2930.1 697,2929.4 699,2926.6 701,2929.4 703,2925.3 705,2927.3 707,2929.8 709,2933.5 711,2932.3 713,2926.9 715,2934.9 717,2935.6 719,2935.4 721,2934.4 723,2932.6 725,2936.4 727,2934.5 729,2928.8 731,2927.8 733,2934.2 735,2930.8 737,2933.5 739,2929.9 741,2930.9 743,2928.4 745,2930.8 747,2936 749,2942.8 751,2942.5 753,2942.9 755,2939.1 757,2938.2 759,2935.1 761,2936.8 763,2936.9 765,2941.3 767,2942.6 769,2939.2 771,2941.4 773,2936.6 775,2943.1 777,2940.7 779,2941.9 781,2941.8 783,2943 785,2945.3 787,2944.1 789,2944.7 791,2944.1 793,2949.1 795,2951.3 797,2953.7 799,2949.7 801,2950.5 803,2949.7 805,2945.8 807,2946.6 809,2950 811,2945.6 813,2941.6 815,2941.9 817,2948.4 819,2949.8 821,2948.6 823,2948.8 825,2947.7 827,2949.2 829,2955.1 831,2954.2 833,2952.2 835,2950.4 837,2958.3 839,2955.8 841,2954.7 843,2954 845,2956.6 847,2957.8 849,2956.9 851,2955 853,2953.5 855,2952.7 857,2951.3 859,2953.8 861,2947.8 863,2951.2 865,2951.1 867,2954.4 869,2952.6 871,2955.3 873,2958.8 875,2958.9 877,2963.3 879,2962.3 881,2955.8 883,2955 885,2960.8 887,2963.2 889,2957.8 891,2958.9 893,2958.6 895,2967.4 897,2965.9 899,2967.3 901,2965.9 903,2967.2 905,2965.5 907,2965.8 909,2971.1 911,2974.4 913,2977.2 915,2976.5 917,2971.4 919,2969.3 921,2971.5 923,2972.8 925,2964.4 927,2967.7 929,2968.3 931,2971.7 933,2971 935,2974.9 937,2971.6 939,2967.2 941,2964.8 943,2965.5 945,2967.5 947,2972 949,2978.2 951,2975.7 953,2968.8 955,2971.4 957,2974.7 959,2970 961,2974.5 963,2975 965,2979.1 967,2976.9 969,2981.9 971,2976.3 973,2970.4 975,2972.1 977,2979 979,2975.7 981,2973.1 983,2975.5 985,2980.6 987,2986.8 989,2987.1 991,2988 993,2985.8 995,2984.7 997,2978.1 999,2974.4 1001,2979.8 1003,2980.8 1005,2986.4 1007,2988.6 1009,2983.2 1011,2986.2 1013,2985.9 1015,2990.9 1017,2986.9 1019,2988.4 1021,2988.9 1023,2992.6 1025,2987.7 1027,2988.9 1029,2987.4 1031,2988.8 1033,2986.5 1035,2984.2 1037,2984.9 1039,2988.8 1041,2989.8 1043,2996.6 1045,2995 1047,2992.4 1049,2988.8 1051,2983.1 1053,2982.8 1055,2989.1 1057,2994.3 1059,2993.6 1061,2993.5 1063,2994.8 1065,2996.2 1067,2995.4 1069,2993.7 1071,2991.6 1073,2988.1 1075,2991.5 1077,2989.4 1079,2996.8 1081,2997.5 1083,2996.6 1085,2994 1087,2995.2 1089,2994.2 1091,2994.4 1093,2997.1 1095,2996.6 1097,2995.9 1099,2995.6 1101,2996.3 1103,2997.4 1105,3000.9 1107,2999.1 1109,3003.7 1111,3004.6 1113,3001.5 1115,2992.2 1117,2992.1 1119,3004.4 1121,3006.5 1123,3000.2 1125,3007.6 1127,3002.2 1129,2999.3 1131,2996.5 1133,2997.2 1135,3003.9 1137,3005.7 1139,3004.3 1141,3001.6 1143,3001.7 1145,3000.9 1147,3002.4 1149,3004.7 1151,3008.2 1153,3006.7 1155,3004.5 1157,3003.1 1159,3006 1161,2998.6 1163,3000.6 1165,3000.2 1167,3003.3 1169,3004.4 1171,3003.2 1173,3009.2 1175,3006.7 1177,3002.8 1179,3003.7 1181,3002.7 1183,3010.2 1185,3005 1187,3004.9 1189,3003.8 1191,2999.7 1193,3000.8 1195,3003.3 1197,3005 1199,3003.8 1201,3002.2 1203,3006.8 1205,3007.3 1207,3009.2 1209,3007.9 1211,3011.7 1213,3009 1215,3006 1217,3005.3 1219,3005.5 1221,3007.4 1223,3007.4 1225,3009 1227,3005.9 1229,3007.9 1231,3008.1 1233,3006.3 1235,3008.3 1237,3011.1 1239,3017.1 1241,3016.6 1243,3013.9 1245,3014.1 1247,3014.9 1249,3016.9 1251,3017.9 1253,3013.3 1255,3009.1 1257,3007 1259,3008 1261,3007.4 1263,3012.1 1265,3011 1267,3015.5 1269,3014.2 1271,3017.9 1273,3014.1 1275,3019.2 1277,3022 1279,3021.8 1281,3017.1 1283,3017.6 1285,3018.4 1287,3017.3 1289,3015.7 1291,3016.3 1293,3018.1 1295,3013 1297,3014.8 1299,3020.3 1301,3022.1 1303,3022 1305,3020.3 1307,3019.9 1309,3022.2 1311,3017.4 1313,3019.4 1315,3015.5 1317,3023 1319,3021.3 1321,3022.7 1323,3016.7 1325,3021.3 1327,3022.1 1329,3029.4 1331,3027.1 1333,3018 1335,3015.6 1337,3018.9 1339,3026.6 1341,3027.2 1343,3024.9 1345,3023.9 1347,3027.9 1349,3023.1 1351,3024.6 1353,3024.1 1355,3027.4 1357,3029.5 1359,3029.8 1361,3020.7 1363,3020.8 1365,3020.9 1367,3028.4 1369,3027.8 1371,3020.9 1373,3020.5 1375,3024.8 1377,3021 1379,3016.4 1381,3022.7 1383,3027.2 1385,3031 1387,3026.7 1389,3023.1 1391,3026.3 1393,3031.5 1395,3032.2 1397,3026.1 1399,3023.6 1401,3023.4 1403,3031.7 1405,3029.7 1407,3031.5 1409,3037.6 1411,3032.3 1413,3029 1415,3030.2 1417,3035.7 1419,3037.6 1421,3034.8 1423,3031.5 1425,3036.4 1427,3035 1429,3039.5 1431,3038.1 1433,3040.4 1435,3037.5 1437,3037.6 1439,3035.6 1441,3039.2 1443,3039.6 1445,3039.3 1447,3040.5 1449,3039.4 1451,3043.4 1453,3038.7 1455,3033.1 1457,3039.8 1459,3041.2 1461,3043 1463,3039.5 1465,3040.1 1467,3033.3 1469,3037.6 1471,3038.2 1473,3044.5 1475,3043 1477,3042.1 1479,3039.7 1481,3034.8 1483,3033.7 1485,3037 1487,3043.3 1489,3049.2 1491,3050.6 1493,3050 1495,3045.3 1497,3043.4 1499,3046.9 1501,3046.7 1503,3045.5 1505,3047 1507,3045.2 1509,3049 1511,3049.8 1513,3050.6 1515,3047 1517,3048.8 1519,3045.2 1521,3045.9 1523,3043.3 1525,3045.2 1527,3047.4 1529,3043.4 1531,3041 1533,3042.3 1535,3046.1 1537,3047.6 1539,3050.4 1541,3048.2 1543,3052.3 1545,3047.7 1547,3050.1 1549,3050.6 1551,3055.8 1553,3057.3 1555,3050.7 1557,3053 1559,3046.7 1561,3049.1 1563,3046.9 1565,3046 1567,3051.2 1569,3055.7 1571,3052.4 1573,3049 1575,3046.2 1577,3048.5 1579,3049.4 1581,3056.2 1583,3055.6 1585,3049.2 1587,3051.2 1589,3053.5 1591,3057 1593,3055.9 1595,3051.7 1597,3054 1599,3053 1601,3054.8 1603,3047.1 1605,3049 1607,3053 1609,3053 1611,3052.3 1613,3056.6 1615,3053.4 1617,3052.7 1619,3054.4 1621,3047.7 1623,3049.3 1625,3050.7 1627,3056.9 1629,3058.7 1631,3059.3 1633,3060.8 1635,3062.8 1637,3064.2 1639,3060.3 1641,3059.4 1643,3058.4 1645,3058.8 1647,3061.8 1649,3066.3 1651,3063.5 1653,3059.7 1655,3058.7 1657,3060.5 1659,3061.4 1661,3056.4 1663,3056.8 1665,3054.2 1667,3057.8 1669,3056.3 1671,3060.2 1673,3063.6 1675,3067.6 1677,3064 1679,3062.1 1681,3060.6 1683,3065.8 1685,3063.8 1687,3064.2 1689,3067.9 1691,3061.6 1693,3059.8 1695,3063.2 1697,3066 1699,3068.8 1701,3062.9 1703,3064.7 1705,3062.9 1707,3068.2 1709,3062.2 1711,3059.5 1713,3061.5 1715,3066.3 1717,3064.4 1719,3066.1 1721,3060.2 1723,3064.7 1725,3063.6 1727,3064.7 1729,3066.3 1731,3069.2 1733,3067.9 1735,3068.8 1737,3061.1 1739,3063.8 1741,3062.7 1743,3065.1 1745,3066 1747,3065.4 1749,3070.6 1751,3070.6 1753,3070.3 1755,3069.7 1757,3069.9 1759,3071.1 1761,3074.2 1763,3067.4 1765,3069.2 1767,3062.1 1769,3063.7 1771,3061.9 1773,3071.3 1775,3067.6 1777,3069.7 1779,3068.1 1781,3073.3 1783,3072.3 1785,3071.3 1787,3066.4 1789,3064.9 1791,3071.3 1793,3070.5 1795,3069.5 1797,3071.1 1799,3073 1801,3074.9 1803,3075.6 1805,3071.5 1807,3070.1 1809,3069.6 1811,3072.2 1813,3072.8 1815,3072.4 1817,3071.6 1819,3072.4 1821,3074.8 1823,3073.9 1825,3074 1827,3072.6 1829,3073.2 1831,3071 1833,3068.5 1835,3072.2 1837,3073.3 1839,3076.9 1841,3072.7 1843,3072.8 1845,3071.1 1847,3080.3 1849,3078.2 1851,3080.8 1853,3078.8 1855,3076.9 1857,3074.1 1859,3072.1 1861,3069.2 1863,3064.7 1865,3062.4 1867,3070.3 1869,3077.5 1871,3079.2 1873,3074.8 1875,3070.5 1877,3074.6 1879,3076 1881,3074.4 1883,3072.7 1885,3074.2 1887,3078.9 1889,3078.6 1891,3084.1 1893,3085.5 1895,3083.2 1897,3082.8 1899,3075.4 1901,3076.1 1903,3073.3 1905,3079.9 1907,3079.2 1909,3082.6 1911,3076.4 1913,3077.7 1915,3079.1 1917,3075.8 1919,3075.6 1921,3081.1 1923,3079.8 1925,3076.7 1927,3084.1 1929,3077.9 1931,3074.9 1933,3078.7 1935,3076 1937,3077.1 1939,3079.2 1941,3080.9 1943,3078.2 1945,3081.9 1947,3077.4 1949,3081.6 1951,3080 1953,3081.6 1955,3080.2 1957,3081.5 1959,3081.2 1961,3080.9 1963,3085.1 1965,3082.3 1967,3076.5 1969,3078.9 1971,3075.5 1973,3083.7 1975,3082.4 1977,3085.6 1979,3084.3 1981,3084.3 1983,3082.6 1985,3084.2 1987,3086.4 1989,3079.6 1991,3082.4 1993,3085.1 1995,3081.1 1997,3074.3 1999,3081.5 2001,3086 2003,3085 2005,3085.9 2007,3088 2009,3086.9 2011,3084.8 2013,3083.2 2015,3079.1 2017,3082.5 2019,3084.8 2021,3090.5 2023,3090.5 2025,3090.5 2027,3085.8 2029,3087.4 2031,3090.1 2033,3089 2035,3087.4 2037,3084.2 2039,3084.8 2041,3086.6 2043,3091.4 2045,3088.7 2047,3086.9 2049,3090.4 2051,3089.3 2053,3083.8 2055,3084.9 2057,3089.8 2059,3089.6 2061,3089.2 2063,3083.4 L2063,3103.2 2061,3103.8 2059,3106.1 2057,3107 2055,3104.7 2053,3105.7 2051,3105.5 2049,3109.4 2047,3108.9 2045,3110.5 2043,3107 2041,3105.7 2039,3107.3 2037,3105 2035,3105.1 2033,3104.6 2031,3104.8 2029,3107.2 2027,3105.7 2025,3107 2023,3115.6 2021,3109.4 2019,3103.3 2017,3108.1 2015,3108.5 2013,3104.6 2011,3105.4 2009,3101 2007,3104.4 2005,3102.5 2003,3101.7 2001,3100.5 1999,3098.3 1997,3099.5 1995,3100.7 1993,3104.3 1991,3104.6 1989,3107.3 1987,3105.4 1985,3101.4 1983,3099.3 1981,3100.2 1979,3103.8 1977,3102.9 1975,3102.2 1973,3097.4 1971,3097.1 1969,3097.7 1967,3102.4 1965,3104.5 1963,3104.4 1961,3102.1 1959,3104.6 1957,3101.6 1955,3100.7 1953,3106.8 1951,3103.9 1949,3099.4 1947,3096.1 1945,3100.2 1943,3101.4 1941,3102 1939,3098.7 1937,3095.2 1935,3095.4 1933,3099.2 1931,3097.4 1929,3096.5 1927,3099.3 1925,3100.3 1923,3099.1 1921,3098.9 1919,3102.9 1917,3098.6 1915,3098.7 1913,3096.8 1911,3099.3 1909,3099.6 1907,3102.4 1905,3094.7 1903,3091.8 1901,3093.5 1899,3093.8 1897,3097.6 1895,3100.3 1893,3104.5 1891,3100.3 1889,3096.9 1887,3097.6 1885,3094.3 1883,3094.3 1881,3097.5 1879,3093.5 1877,3092.5 1875,3088.6 1873,3091.1 1871,3096.7 1869,3096.2 1867,3094.9 1865,3088.4 1863,3088.5 1861,3090.7 1859,3091.3 1857,3093.4 1855,3094.1 1853,3098.5 1851,3096.3 1849,3096.6 1847,3096.4 1845,3095.3 1843,3097.4 1841,3090.7 1839,3096.3 1837,3096.4 1835,3091.1 1833,3088.2 1831,3089.6 1829,3092.3 1827,3094.2 1825,3090 1823,3095.7 1821,3101.5 1819,3096.8 1817,3091.1 1815,3090.4 1813,3094.6 1811,3089.8 1809,3095.5 1807,3093 1805,3093.5 1803,3090.6 1801,3091.9 1799,3091.1 1797,3091.5 1795,3092.4 1793,3091.7 1791,3090.8 1789,3086 1787,3086.4 1785,3089.4 1783,3088.7 1781,3091.4 1779,3090.9 1777,3091.1 1775,3090.4 1773,3092.8 1771,3086.6 1769,3083.6 1767,3083.2 1765,3087.3 1763,3091.5 1761,3097.3 1759,3091.4 1757,3088.6 1755,3088.4 1753,3086.4 1751,3087 1749,3086.5 1747,3083.3 1745,3085.5 1743,3085.7 1741,3086.3 1739,3087.6 1737,3084.3 1735,3085.7 1733,3083.6 1731,3085.2 1729,3083.2 1727,3085.2 1725,3081.4 1723,3081.5 1721,3078.4 1719,3085.5 1717,3084 1715,3085.5 1713,3078.6 1711,3079.5 1709,3081.7 1707,3085.1 1705,3084.8 1703,3082.4 1701,3082.3 1699,3086.6 1697,3082.7 1695,3078.8 1693,3086.7 1691,3083 1689,3084.4 1687,3082 1685,3085.3 1683,3086.6 1681,3084.8 1679,3086.5 1677,3084.4 1675,3087.5 1673,3081.9 1671,3079.5 1669,3082.3 1667,3084.5 1665,3078.4 1663,3080.4 1661,3075.2 1659,3081.3 1657,3079.8 1655,3081.5 1653,3079.8 1651,3080.8 1649,3083.4 1647,3081.8 1645,3082.3 1643,3076.7 1641,3077.4 1639,3078.7 1637,3081.2 1635,3080.6 1633,3081.1 1631,3079.5 1629,3081.6 1627,3079.2 1625,3070 1623,3076 1621,3072 1619,3072.5 1617,3073.1 1615,3076.4 1613,3074.6 1611,3077.8 1609,3082.5 1607,3077.5 1605,3071.7 1603,3072.8 1601,3076.1 1599,3076.1 1597,3074.8 1595,3073.9 1593,3075.4 1591,3075.8 1589,3074.7 1587,3073.6 1585,3075.4 1583,3076.3 1581,3074.7 1579,3069.4 1577,3066.7 1575,3067.2 1573,3069.2 1571,3071.3 1569,3073.4 1567,3076.6 1565,3078 1563,3072.7 1561,3069.7 1559,3066.9 1557,3071.2 1555,3073.4 1553,3077.1 1551,3074.7 1549,3072.6 1547,3072.4 1545,3071.5 1543,3072.1 1541,3073.5 1539,3071.2 1537,3067.2 1535,3064.5 1533,3063.5 1531,3065.7 1529,3068.4 1527,3072.7 1525,3069.9 1523,3064.2 1521,3064.8 1519,3062.4 1517,3066.9 1515,3067.8 1513,3071.5 1511,3070.6 1509,3069.6 1507,3068.3 1505,3068.4 1503,3069.2 1501,3071.5 1499,3069.7 1497,3068.9 1495,3065.5 1493,3071 1491,3070.3 1489,3072.9 1487,3063.1 1485,3062.4 1483,3065.4 1481,3062.3 1479,3062.3 1477,3061.9 1475,3064.1 1473,3063.6 1471,3067.4 1469,3067.1 1467,3057.7 1465,3063.2 1463,3068.6 1461,3069.6 1459,3066.1 1457,3059 1455,3055.7 1453,3062.6 1451,3066.3 1449,3061.6 1447,3060.7 1445,3062.9 1443,3061.9 1441,3063.5 1439,3061.5 1437,3060.4 1435,3061.4 1433,3062.8 1431,3065 1429,3064.2 1427,3061.6 1425,3057.7 1423,3052.8 1421,3058.2 1419,3058.2 1417,3057.3 1415,3053 1413,3054.1 1411,3057.2 1409,3057.2 1407,3059.7 1405,3057.7 1403,3055.7 1401,3049 1399,3051.4 1397,3054.3 1395,3054.6 1393,3054.1 1391,3047.2 1389,3045.5 1387,3050.8 1385,3054.3 1383,3052.3 1381,3054.5 1379,3054.5 1377,3056.5 1375,3048.6 1373,3050.1 1371,3049 1369,3054.3 1367,3055.8 1365,3054.1 1363,3051.7 1361,3054.8 1359,3058.6 1357,3058.1 1355,3052.7 1353,3045.5 1351,3048.9 1349,3047.9 1347,3052.6 1345,3053.5 1343,3055 1341,3054.1 1339,3049.3 1337,3043.5 1335,3044.6 1333,3046.4 1331,3052.6 1329,3054.1 1327,3044.7 1325,3043.8 1323,3040.4 1321,3045.9 1319,3045.4 1317,3050.8 1315,3040.8 1313,3044.1 1311,3043.2 1309,3047.7 1307,3044.4 1305,3049 1303,3045.3 1301,3050.1 1299,3043 1297,3040.3 1295,3042.7 1293,3045.1 1291,3036.8 1289,3042.7 1287,3045.9 1285,3045.4 1283,3041.9 1281,3044 1279,3047 1277,3043 1275,3045.1 1273,3042 1271,3039 1269,3042.7 1267,3041.8 1265,3035.7 1263,3037.3 1261,3033.2 1259,3035.1 1257,3035.8 1255,3035.3 1253,3042.8 1251,3041.6 1249,3039.5 1247,3036.9 1245,3039.8 1243,3040 1241,3038.8 1239,3040 1237,3037.9 1235,3036.5 1233,3033.7 1231,3036.5 1229,3033.2 1227,3029.8 1225,3032.5 1223,3033.7 1221,3035.7 1219,3034.2 1217,3030.4 1215,3029.8 1213,3030.6 1211,3037.4 1209,3033.1 1207,3037.8 1205,3035 1203,3032 1201,3025.5 1199,3025.5 1197,3028.3 1195,3026.7 1193,3030.1 1191,3031.5 1189,3031 1187,3032.5 1185,3031.8 1183,3032.1 1181,3028.2 1179,3028.2 1177,3028.9 1175,3035.9 1173,3035.5 1171,3032.1 1169,3032.8 1167,3026.6 1165,3028.1 1163,3030 1161,3029.7 1159,3034 1157,3028.6 1155,3031.4 1153,3029.1 1151,3032.1 1149,3038.9 1147,3031.9 1145,3023 1143,3028.7 1141,3023.3 1139,3032.8 1137,3034.5 1135,3027.4 1133,3021.7 1131,3017.5 1129,3027.3 1127,3028.6 1125,3032.5 1123,3029.1 1121,3031.6 1119,3029.9 1117,3021.3 1115,3021.9 1113,3025.6 1111,3028.7 1109,3029.1 1107,3021.9 1105,3024.4 1103,3024 1101,3023.2 1099,3018.6 1097,3026.7 1095,3027.2 1093,3021 1091,3020.8 1089,3018.6 1087,3019.3 1085,3020.1 1083,3019.5 1081,3018 1079,3020.1 1077,3017.7 1075,3017.3 1073,3015.7 1071,3015.8 1069,3020.6 1067,3024.7 1065,3024.2 1063,3020.2 1061,3020.8 1059,3021.2 1057,3020 1055,3014.8 1053,3011.6 1051,3011.2 1049,3015.2 1047,3021.8 1045,3023.4 1043,3021.9 1041,3016.2 1039,3015.1 1037,3006.2 1035,3006.3 1033,3010.5 1031,3012.9 1029,3014.4 1027,3013.9 1025,3014.4 1023,3018.9 1021,3011.9 1019,3012.7 1017,3010.9 1015,3018 1013,3011.2 1011,3017.2 1009,3012.8 1007,3014.6 1005,3010.4 1003,3008.8 1001,3006.2 999,2999.4 997,3003.1 995,3006.1 993,3007.5 991,3012.3 989,3011.8 987,3010.9 985,3006.6 983,3004.5 981,3004.6 979,3005.7 977,3003.1 975,3001.9 973,3001.1 971,3002.4 969,3006 967,3009 965,3010.7 963,3004.6 961,3001.3 959,2996.1 957,3001.5 955,2996.5 953,3001.3 951,3002.8 949,3000.8 947,3002.4 945,3000.6 943,3003 941,3003.6 939,3006 937,3002.7 935,3001.7 933,2994.3 931,2996.2 929,2995.9 927,2994.8 925,2994.9 923,2998.4 921,2998.6 919,2998 917,3000.1 915,2999 913,3000.4 911,3000.5 909,2993.3 907,2991.5 905,2995.3 903,2992.5 901,2993 899,2995.1 897,2990 895,2997.3 893,2980.6 891,2985.9 889,2986.4 887,2988.5 885,2985.8 883,2985 881,2986.5 879,2987.9 877,2987.8 875,2985.9 873,2988.6 871,2989 869,2987.4 867,2981.9 865,2981.6 863,2986.4 861,2986.3 859,2980 857,2979 855,2984.2 853,2982 851,2979 849,2980.3 847,2980.8 845,2978.5 843,2980.3 841,2985.1 839,2983.6 837,2983.8 835,2977.3 833,2974.7 831,2978.8 829,2983.5 827,2979.2 825,2974 823,2973.3 821,2973.4 819,2973.3 817,2970.8 815,2973.8 813,2973.1 811,2977.3 809,2974.5 807,2974.5 805,2970.4 803,2974.9 801,2974 799,2975.8 797,2978.8 795,2977.2 793,2973.2 791,2969.7 789,2967.8 787,2973.2 785,2975.1 783,2965.6 781,2972.2 779,2967.8 777,2968.7 775,2974.2 773,2963.3 771,2964.7 769,2967.1 767,2966.8 765,2965.5 763,2960.9 761,2961.7 759,2961 757,2964.3 755,2964.9 753,2970.4 751,2971.2 749,2967.9 747,2963.9 745,2959.1 743,2958.8 741,2959.6 739,2960.3 737,2959.1 735,2957.9 733,2959.8 731,2958 729,2954.9 727,2958.9 725,2958.8 723,2958.3 721,2957.1 719,2962 717,2963.9 715,2965.3 713,2956.5 711,2957.7 709,2956.3 707,2955.4 705,2953.8 703,2953.4 701,2957.4 699,2952.1 697,2952.4 695,2952.3 693,2953.8 691,2953.1 689,2952.4 687,2953.8 685,2953.8 683,2945.8 681,2938.3 679,2938.1 677,2935.9 675,2941 673,2940.1 671,2936.4 669,2932.9 667,2932.8 665,2929.9 663,2931.3 661,2931.5 659,2925.7 657,2926.1 655,2924 653,2927.4 651,2932.5 649,2931.6 647,2936.8 645,2934.9 643,2934 641,2934 639,2929.9 637,2933.3 635,2937.1 633,2933.7 631,2933.5 629,2935.1 627,2935.5 625,2938.3 623,2929.5 621,2931.4 619,2931.7 617,2930.7 615,2925.3 613,2930.2 611,2933.2 609,2932.4 607,2928.8Z" fill="#ff00ff"/>
<path d="M605.4,3096.4 607.4,3096.4 609.4,3100.9 611.4,3094.5 613.4,3096.1 615.4,3099.3 617.4,3096.9 619.4,3096.4 621.4,3098.1 623.4,3099.3 625.4,3099.4 627.4,3097.5 629.4,3099.3 631.4,3097.1 633.4,3096.6 635.4,3100.3 637.4,3100.1 639.4,3100.1 641.4,3100.7 643.4,3100.7 645.4,3098.6 647.4,3097.7 649.4,3099.5 651.4,3100.8 653.4,3098.2 655.4,3100.2 657.4,3098.3 659.4,3100.3 661.4,3100.2 663.4,3100.8 665.4,3098.7 667.4,3097.2 669.4,3099.9 671.4,3098.6 673.4,3099.1 675.4,3100.8 677.4,3098.9 679.4,3099.8 681.4,3097.9 683.4,3096.2 685.4,3097.7 687.4,3100.8 689.4,3097.1 691.4,3100.6 693.4,3100.5 695.4,3098.7 697.4,3100.8 699.4,3101 701.4,3100.8 703.4,3100 705.4,3100.9 707.4,3101 709.4,3100.3 711.4,3099 713.4,3100.7 715.4,3100.9 717.4,3099.9 719.4,3095.4 721.4,3097.3 723.4,3099.6 725.4,3099.9 727.4,3100.1 L727.4,3120.1 725.4,3123.9 723.4,3120.3 721.4,3121.2 719.4,3122.5 717.4,3120.5 715.4,3118.3 713.4,3122.5 711.4,3122.6 709.4,3121.3 707.4,3120.6 705.4,3118.2 703.4,3119.4 701.4,3118.1 699.4,3118.9 697.4,3123.2 695.4,3121.6 693.4,3118.1 691.4,3119.6 689.4,3119.4 687.4,3119.7 685.4,3118.1 683.4,3120.7 681.4,3122 679.4,3118.2 677.4,3120.7 675.4,3119.7 673.4,3121 671.4,3122.4 669.4,3119.2 667.4,3119.9 665.4,3120.7 663.4,3118.7 661.4,3120.6 659.4,3120 657.4,3120.4 655.4,3121.6 653.4,3120 651.4,3118.2 649.4,3119.9 647.4,3120.4 645.4,3118.3 643.4,3120.1 641.4,3118.8 639.4,3119.3 637.4,3119.6 635.4,3118.8 633.4,3118.4 631.4,3119.4 629.4,3119.3 627.4,3121.5 625.4,3120.9 623.4,3120.9 621.4,3121.8 619.4,3121.2 617.4,3121 615.4,3118.2 613.4,3118.3 611.4,3118.5 609.4,3119.5 607.4,3119.9 605.4,3119.9Z" fill="#00ff00"/>
<path d="M725,3107.4 727,3105.8 729,3101.3 731,3099.5 733,3100.1 735,3104.4 737,3105.7 739,3109.2 741,3113.3 743,3111 745,3108.9 747,3102.4 749,3100.5 751,3099.6 753,3098.6 755,3098.6 757,3102.1 759,3099.4 761,3105 763,3101.6 765,3100.3 767,3097.5 769,3100.4 771,3103.1 773,3106.2 775,3104.8 777,3100.9 779,3099.2 781,3101.3 783,3104.9 785,3106 787,3105.4 789,3111.1 791,3114.3 793,3111.2 795,3108.2 797,3112.4 799,3115.7 801,3110.2 803,3107.9 805,3109.6 807,3108.7 809,3109.6 811,3109.7 813,3106.8 815,3108 817,3111.1 819,3111.5 821,3107.6 823,3113.2 825,3108.5 827,3103.8 829,3105.3 831,3111 833,3105.2 835,3104.8 837,3105.4 839,3102.2 841,3102.2 843,3100.9 845,3105.8 847,3103.9 849,3106.7 851,3107 853,3109.8 855,3107.4 857,3105.6 859,3108 861,3106.2 863,3106.3 865,3108.6 867,3103.9 869,3099 871,3102.5 873,3103.5 875,3099.1 877,3099.9 879,3104.4 881,3107.1 883,3107.3 885,3110.4 887,3103.9 889,3105.1 891,3105.2 893,3104.3 895,3108.5 897,3113.6 899,3109.5 901,3108.3 903,3106.1 905,3103.2 907,3101.4 909,3108.7 911,3111.3 913,3108.7 915,3110.5 917,3108.1 919,3102.8 921,3104.5 923,3103.3 925,3101.5 927,3103.6 929,3105.7 931,3101.6 933,3101.8 935,3100.1 937,3103.4 939,3104.7 941,3106.1 943,3107.7 945,3111.8 947,3107.7 949,3110.9 951,3107.6 953,3097.1 955,3093.9 957,3096.6 959,3099.8 961,3099.9 963,3105.3 965,3111.1 967,3111.1 969,3110.5 971,3112.8 973,3113.5 975,3112.5 977,3111.9 979,3112.1 981,3112.4 983,3108.6 985,3110.1 987,3113.5 989,3110 991,3105.2 993,3111.4 995,3111.3 997,3104.9 999,3101.4 1001,3101 1003,3097.8 1005,3104.9 1007,3103.3 1009,3101.2 1011,3103 1013,3104.7 1015,3102 1017,3106.2 1019,3111.4 1021,3103.7 1023,3104.4 1025,3106.6 1027,3103.6 1029,3104.3 1031,3111.9 1033,3114.3 1035,3110.8 1037,3110.4 1039,3110.3 1041,3108.1 1043,3103.1 1045,3101.1 1047,3101.9 1049,3102 1051,3101 1053,3099.4 1055,3104.4 1057,3108.9 1059,3107.6 1061,3102.8 1063,3101.5 1065,3102.5 1067,3104.4 1069,3106 1071,3105.9 1073,3105.4 1075,3106.7 1077,3104.4 1079,3101.4 1081,3103.7 1083,3107 1085,3101.6 1087,3102.5 1089,3104.3 1091,3104.6 1093,3106.4 1095,3107.3 1097,3106.4 1099,3109.6 1101,3108.1 1103,3105.3 1105,3101.6 1107,3100.2 1109,3101.8 1111,3097.8 1113,3095.9 1115,3098 1117,3097.6 1119,3100.1 1121,3104 1123,3103.8 1125,3105.1 1127,3105.3 1129,3102.7 1131,3103.1 1133,3102.2 1135,3100 1137,3100.5 1139,3104.5 1141,3103.1 1143,3106.5 1145,3109.1 1147,3105.4 1149,3103.8 1151,3111.1 1153,3110.4 1155,3110.1 1157,3114.3 1159,3115.8 1161,3116.3 1163,3113.7 1165,3110 1167,3106.8 1169,3108.2 1171,3108.9 1173,3110.2 1175,3112 1177,3112.2 1179,3109.2 1181,3108.1 1183,3106.1 1185,3103.5 1187,3102.3 1189,3104.5 1191,3103.9 1193,3103.6 1195,3107.3 1197,3111 1199,3110 1201,3109 1203,3110.9 1205,3110.9 1207,3104.6 1209,3101.5 1211,3102.3 1213,3102.6 1215,3101.3 1217,3104.1 1219,3110.1 1221,3109.5 1223,3107.3 1225,3108.2 1227,3109 1229,3107.3 1231,3107.8 1233,3111.6 1235,3112.8 1237,3110.6 1239,3107.1 1241,3105.7 1243,3105.6 1245,3103.9 1247,3100.3 1249,3097.8 1251,3100.7 1253,3107.1 1255,3113.2 1257,3110.1 1259,3110.9 1261,3109.8 1263,3112.3 1265,3105.6 1267,3106.7 1269,3106.2 1271,3106.8 1273,3104.9 1275,3104.5 1277,3106.3 1279,3111.5 1281,3109.6 1283,3109.2 1285,3105.6 1287,3107.3 1289,3106.8 1291,3103.4 1293,3105.3 1295,3107.4 1297,3105.3 1299,3107.7 1301,3110.4 1303,3108.1 1305,3104.6 1307,3103.3 1309,3103.9 1311,3102.9 1313,3103.6 1315,3109.1 1317,3112.9 1319,3112.5 1321,3110.2 1323,3108.1 1325,3100.9 1327,3100.1 1329,3099.4 1331,3101.1 1333,3105.5 1335,3111.3 1337,3110.4 1339,3110.8 1341,3108.6 1343,3108.4 1345,3108.2 1347,3105.9 1349,3102.1 1351,3104 1353,3110.3 1355,3106.8 1357,3104.5 1359,3107.1 1361,3109.6 1363,3107.3 1365,3109.7 1367,3108.2 1369,3112.4 1371,3113.5 1373,3110.5 1375,3108.9 1377,3114.7 1379,3109.9 1381,3109.7 1383,3111.7 1385,3112.2 1387,3111.5 1389,3111.2 1391,3113 1393,3115.1 1395,3110.9 1397,3106.7 1399,3105.1 1401,3105.9 1403,3102.7 1405,3098.7 1407,3107 1409,3110.3 1411,3108 1413,3109.8 1415,3108.2 1417,3105 1419,3103.4 1421,3106.6 1423,3105.5 1425,3108.3 1427,3105.1 1429,3107.9 1431,3106 1433,3107.4 1435,3102.8 1437,3102.1 1439,3102.8 1441,3104.4 1443,3105.8 1445,3109.5 1447,3109.4 1449,3109.2 1451,3108.3 1453,3108.2 1455,3108.2 1457,3105.7 1459,3102.5 1461,3105.9 1463,3112.2 1465,3115.5 1467,3112.8 1469,3113.2 1471,3109 1473,3105.6 1475,3102.6 1477,3104.9 1479,3101.9 1481,3104.3 1483,3098 1485,3095.7 1487,3100.8 1489,3097.1 1491,3097.2 1493,3104.7 1495,3108.1 1497,3106 1499,3112.9 1501,3107.2 1503,3105.7 1505,3101.8 1507,3110 1509,3102.5 1511,3104 1513,3101.3 1515,3106.2 1517,3106.4 1519,3109.2 1521,3111.6 1523,3108.7 1525,3106.2 1527,3102.6 1529,3100.2 1531,3097.9 1533,3094.7 1535,3096.8 1537,3099.4 1539,3094.6 1541,3097.3 1543,3102.7 1545,3104.1 1547,3110.9 1549,3112 1551,3112.2 1553,3109.1 1555,3104.9 1557,3104.4 1559,3103.4 1561,3098.1 1563,3094.3 1565,3098.3 1567,3099.5 1569,3105.4 1571,3107.1 1573,3109 1575,3107 1577,3103.8 1579,3105.9 1581,3106 1583,3104.8 1585,3097.5 1587,3097.8 1589,3094.9 1591,3095.7 1593,3096.1 1595,3098.9 1597,3095.7 1599,3098.2 1601,3104.1 1603,3111.7 1605,3114.1 1607,3112.5 1609,3106 1611,3107.5 1613,3107 1615,3107.7 1617,3103.6 1619,3101.1 1621,3104.5 1623,3103.6 1625,3101.7 1627,3104.1 1629,3107.8 1631,3107.1 1633,3101.2 1635,3100.1 1637,3105.2 1639,3110.5 1641,3103.2 1643,3107.4 1645,3107.6 1647,3107.2 1649,3105.8 1651,3107.4 1653,3104.2 1655,3106.8 1657,3110.2 1659,3109.8 1661,3112.9 1663,3112.2 1665,3103.7 1667,3101.5 1669,3106.7 1671,3105 1673,3099.4 1675,3100.9 1677,3107.8 1679,3104.3 1681,3101.9 1683,3101.3 1685,3104.4 1687,3104.4 1689,3109.7 1691,3106.5 1693,3106.3 1695,3109.1 1697,3106.6 1699,3106.6 1701,3113 1703,3108.1 1705,3106.2 1707,3108 1709,3109.2 1711,3104.6 1713,3107.6 1715,3109.1 1717,3107 1719,3104.4 1721,3104.6 1723,3100.7 1725,3104 1727,3109.2 1729,3106.4 1731,3102.6 1733,3108 1735,3104.1 1737,3098.8 1739,3102.1 1741,3106.1 1743,3103.9 1745,3105.4 1747,3107.8 1749,3105.1 1751,3105.7 1753,3104.3 1755,3107.8 1757,3110.9 1759,3108.5 1761,3107.3 1763,3107.1 1765,3107.5 1767,3101.2 1769,3103.1 1771,3104.1 1773,3103.1 1775,3097.8 1777,3099.1 1779,3104.9 1781,3104 1783,3104.6 1785,3106.2 1787,3102.1 1789,3101.4 1791,3101.9 1793,3105.2 1795,3104.5 1797,3107.5 1799,3105.8 1801,3109.2 1803,3105.9 1805,3103.8 1807,3107.4 1809,3106.2 1811,3104 1813,3106.9 1815,3111.7 1817,3110 1819,3109.9 1821,3109.6 1823,3104.4 1825,3101.8 1827,3106.1 1829,3106.7 1831,3103.5 1833,3107.4 1835,3108.8 1837,3109.6 1839,3112.6 1841,3113.7 1843,3108.4 1845,3106.6 1847,3101.3 1849,3099.8 1851,3099.2 1853,3101.2 1855,3097.9 1857,3097.8 1859,3101.4 1861,3110.3 1863,3108.8 1865,3111.7 1867,3116.1 1869,3114 1871,3106.1 1873,3104.1 1875,3102.4 1877,3104.4 1879,3105.7 1881,3105.4 1883,3107.9 1885,3106 1887,3104.8 1889,3098.5 1891,3100.6 1893,3099.4 1895,3102.1 1897,3101 1899,3102.4 1901,3100.9 1903,3103.5 1905,3102.2 1907,3105.5 1909,3107.1 1911,3103.5 1913,3106 1915,3106.2 1917,3107.3 1919,3107.3 1921,3109.3 1923,3108 1925,3106.2 1927,3106.2 1929,3109.2 1931,3110.2 1933,3107 1935,3108.4 1937,3107.9 1939,3109.1 1941,3110.1 1943,3110 1945,3103.8 1947,3104.5 1949,3105.2 1951,3102.7 1953,3103.5 1955,3107.7 1957,3106.4 1959,3107.1 1961,3110.7 1963,3108.4 1965,3100.9 1967,3106 1969,3109.7 1971,3106.5 1973,3106.9 1975,3108.8 1977,3113.2 1979,3118.4 1981,3119 1983,3120.4 1985,3118.9 1987,3114.3 1989,3114.2 1991,3113.7 1993,3106 1995,3109.4 1997,3112 1999,3108.5 2001,3106.6 2003,3107.9 2005,3104.2 2007,3099.5 2009,3102.5 2011,3105.7 2013,3106.9 2015,3107.1 2017,3108 2019,3105.1 2021,3106 2023,3108.8 2025,3106.3 2027,3104.3 2029,3102.4 2031,3105.9 2033,3106.1 2035,3106.1 2037,3113.5 2039,3113.4 2041,3109.3 2043,3111.1 2045,3113.7 2047,3112.3 2049,3110.7 2051,3108.7 2053,3104.4 2055,3102.1 2057,3102.8 2059,3105 2061,3104.7 2063,3103.8" fill="none" stroke="#00ff00" stroke-width="4.5" stroke-linejoin="round" stroke-linecap="butt"/>
<path d="M233,3085.1 235.5,3086.2 238,3085.5 240.5,3086.8 243,3085.5 245.5,3086 248,3083.7 250.5,3083.3 253,3084.8 255.5,3083.3 258,3084.5 260.5,3085.9 263,3085.8 265.5,3084.3 268,3083.5 270.5,3084.5 273,3081.2 275.5,3083.2 278,3085.9 280.5,3084.6 283,3083.8 285.5,3081.8 288,3082.5 290.5,3082.8 293,3083.4 295.5,3083.8 298,3082.9 300.5,3084.1 303,3082 305.5,3080.2 308,3084.5 310.5,3079.7 313,3081.3 315.5,3083.6 318,3081.4 320.5,3081.1 323,3081.6 325.5,3084.2 328,3082.4 330.5,3080.3 333,3080.5 335.5,3080.3 338,3078.8 340.5,3081.1 343,3080.2 345.5,3080.8 348,3080.5 350.5,3079.8 353,3081.9 355.5,3083.1 358,3080.1 360.5,3082.7 363,3078.3 365.5,3080.1 368,3080.3 370.5,3080 373,3078.4 375.5,3081.6 378,3080.4 380.5,3080.4 383,3076.7 385.5,3078.2 388,3077.9 390.5,3080 393,3080 395.5,3079.4 398,3076.9 400.5,3080.7 403,3078.1 405.5,3080.2 408,3079 410.5,3079.4 413,3079.4 415.5,3078.6 418,3076.9 420.5,3078.5 423,3078.1 425.5,3079 428,3076.1 430.5,3077.7 433,3076.8 435.5,3079.8 438,3077.1 440.5,3075.3 443,3076.8 445.5,3078.3 448,3078 450.5,3076.3 453,3075.9 455.5,3075.2 458,3077.3 460.5,3077.2 463,3077.4 465.5,3073.4 468,3076.1 470.5,3076.3 473,3078.3 475.5,3076.4 478,3075.6 480.5,3076.1 483,3076 485.5,3077.8 488,3074.3 490.5,3072.4 493,3073.7 495.5,3075.9 498,3075 500.5,3074.7 503,3075.2 505.5,3075.5 508,3074.5 510.5,3074.9 513,3072.7 515.5,3074.3 518,3072.9 520.5,3072.7 523,3074.6 525.5,3071.2 528,3073.1 530.5,3075.6 533,3073.3 535.5,3073.2 538,3074.3 540.5,3074.1 543,3071.7 545.5,3072.1 548,3071.7 550.5,3073.1 553,3073.3 555.5,3071.9 558,3072 560.5,3071.4 563,3071.4 565.5,3072.5 568,3071.7 570.5,3074 573,3072.8 575.5,3073.3 578,3074.2 580.5,3070.7 583,3073.8 585.5,3073.1 588,3071.6 590.5,3071.6 593,3073 595.5,3071.8 598,3072 600.5,3067.3 603,3064.3 605.5,3069.4 608,3059.2 610.5,3060.6 613,3062.2 615.5,3061.6 618,3055.5 620.5,3061.5 623,3061.8 625.5,3063.5 628,3058.8 630.5,3060.2 633,3059.6 635.5,3064.4 638,3057.2 640.5,3055.8 643,3055 645.5,3058.6 648,3060.5 650.5,3053.2 653,3066.4 655.5,3056.7 658,3059.3 660.5,3059.7 663,3052.5 665.5,3056.1 668,3054.9 670.5,3051.8 673,3054.8 675.5,3048.3 678,3048.1 680.5,3052.4 683,3051.5 685.5,3056.3 688,3044.2 690.5,3041.6 693,3048.7 695.5,3049.9 698,3048.2 700.5,3048.1 703,3054.4 705.5,3047.9 708,3039.8 710.5,3047.6 713,3047.5 715.5,3045.2 718,3055.9 720.5,3052.5 723,3042.6 725.5,3039.3 728,3040 730.5,3038.2 733,3032.6 735.5,3043.1 738,3034.4 740.5,3042 743,3035.1 745.5,3035.9 748,3030.9 750.5,3032.8 753,3039.7 755.5,3035.6 758,3040.1 760.5,3048.5 763,3028.5 765.5,3039.3 768,3041.6 770.5,3026 773,3034.4 775.5,3032.6 778,3034.7 780.5,3042.3 783,3035 785.5,3029.4 788,3029.4 790.5,3026.7 793,3032.9 795.5,3038.8 798,3029 800.5,3035.2 803,3020.9 805.5,3027.9 808,3026.2 810.5,3028.9 813,3027.3 815.5,3029 818,3018.1 820.5,3028.9 823,3026.6 825.5,3032.7 828,3021.7 830.5,3030.1 833,3032.4 835.5,3027.3 838,3025 840.5,3026.9 843,3024.9 845.5,3030.7 848,3028.8 850.5,3022.6 853,3012.5 855.5,3016 858,3022.8 860.5,3020.3 863,3016.3 865.5,3006.6 868,3012.2 870.5,3029.6 873,3011.8 875.5,3021.3 878,3010.8 880.5,3005.4 883,3009.6 885.5,3019.2 888,3014.4 890.5,3014.9 893,3009.5 895.5,3013.2 898,3013.3 900.5,3011 903,3007.1 905.5,3000.4 908,3014.3 910.5,3010.9 913,3007.5 915.5,2998.8 918,3015.6 920.5,2999.5 923,3010 925.5,3007.5 928,2996.4 930.5,3004.5 933,3016.4 935.5,3002.6 938,2995.4 940.5,3000 943,3000.7 945.5,3004.6 948,3004.7 950.5,2996.5 953,2994.7 955.5,3002.7 958,3007.3 960.5,2989.3 963,2997.3 965.5,3002.9 968,2987.6 970.5,2995.3 973,3003.4 975.5,2998.5 978,2990.7 980.5,3001 983,3005.9 985.5,2999.4 988,3000.9 990.5,2996 993,2993.6 995.5,2982.4 998,2995.1 1000.5,3000.3 1003,2982.8 1005.5,2985.2 1008,2986.4 1010.5,2991.3 1013,2987.5 1015.5,2993 1018,2989.3 1020.5,2983 1023,2994.3 1025.5,2988.1 1028,2991.7 1030.5,2976 1033,2985 1035.5,2980.5 1038,2985.2 1040.5,2995.3 1043,2988.2 1045.5,2987.2 1048,2981.3 1050.5,2987.6 1053,2994.5 1055.5,2993.3 1058,2976.7 1060.5,2986.6 1063,2988.2 1065.5,2991.3 1068,2979 1070.5,2974.8 1073,2985 1075.5,2980.7 1078,2981.4 1080.5,2971.9 1083,2980.1 1085.5,2983.4 1088,2984.1 1090.5,2969.8 1093,2975.2 1095.5,2982.2 1098,2977.5 1100.5,2977.4 1103,2983.5 1105.5,2969.6 1108,2974.6 1110.5,2984.2 1113,2971.8 1115.5,2972.1 1118,2980.2 1120.5,2967.5 1123,2971.6 1125.5,2977.5 1128,2974.8 1130.5,2972.1 1133,2972.5 1135.5,2970.5 1138,2981.4 1140.5,2968 1143,2970.2 1145.5,2978.6 1148,2970.1 1150.5,2974.6 1153,2962.6 1155.5,2964.1 1158,2983.1 1160.5,2975.1 1163,2966 1165.5,2966.4 1168,2971.3 1170.5,2975 1173,2956.9 1175.5,2965.5 1178,2972.9 1180.5,2963.7 1183,2980 1185.5,2972.3 1188,2963.3 1190.5,2970.1 1193,2970.7 1195.5,2971.2 1198,2961.9 1200.5,2964.2 1203,2958.2 1205.5,2962.4 1208,2957.6 1210.5,2957.3 1213,2976.1 1215.5,2970.2 1218,2962.5 1220.5,2957.7 1223,2956.1 1225.5,2960.9 1228,2964.5 1230.5,2966 1233,2966.4 1235.5,2964.5 1238,2962.3 1240.5,2966.4 1243,2963.8 1245.5,2962.9 1248,2953.2 1250.5,2959.9 1253,2960.7 1255.5,2958.7 1258,2962.5 1260.5,2961.6 1263,2959.3 1265.5,2951.4 1268,2960.1 1270.5,2948 1273,2954.5 1275.5,2962.9 1278,2957.9 1280.5,2959.9 1283,2953.1 1285.5,2964.2 1288,2958.9 1290.5,2948 1293,2961.3 1295.5,2958.6 1298,2947.1 1300.5,2953.8 1303,2945.7 1305.5,2947.6 1308,2943.5 1310.5,2949 1313,2955.9 1315.5,2950.6 1318,2957.4 1320.5,2951.2 1323,2952.5 1325.5,2949.5 1328,2945 1330.5,2942.2 1333,2942.1 1335.5,2946.5 1338,2949.3 1340.5,2945.9 1343,2951.7 1345.5,2948.1 1348,2947.5 1350.5,2947.8 1353,2950.7 1355.5,2952.3 1358,2949 1360.5,2950.1 1363,2955.5 1365.5,2935.7 1368,2949 1370.5,2948.9 1373,2941.9 1375.5,2938.8 1378,2950.9 1380.5,2950.2 1383,2940.3 1385.5,2938.9 1388,2950.8 1390.5,2943.2 1393,2942 1395.5,2952 1398,2948.4 1400.5,2941 1403,2934.8 1405.5,2934.6 1408,2942.2 1410.5,2935.1 1413,2945.5 1415.5,2949 1418,2949 1420.5,2948.3 1423,2946.9 1425.5,2941.2 1428,2938.3 1430.5,2940.2 1433,2939.5 1435.5,2933.9 1438,2940.4 1440.5,2948.6 1443,2942.7 1445.5,2938.5 1448,2938.2 1450.5,2946.1 1453,2933.3 1455.5,2939 1458,2945.1 1460.5,2931.1 1463,2932.4 1465.5,2937 1468,2934 1470.5,2940.9 1473,2930.3 1475.5,2937.9 1478,2940 1480.5,2935.6 1483,2927.2 1485.5,2933.6 1488,2940.6 1490.5,2938 1493,2937.2 1495.5,2927.2 1498,2939.5 1500.5,2922 1503,2927.5 1505.5,2941.3 1508,2930.6 1510.5,2932.1 1513,2936.8 1515.5,2926.4 1518,2928.8 1520.5,2937.3 1523,2938.2 1525.5,2931.5 1528,2927.5 1530.5,2936.2 1533,2925 1535.5,2919.9 1538,2930.9 1540.5,2929.7 1543,2932 1545.5,2940.5 1548,2916.2 1550.5,2926.4 1553,2920.8 1555.5,2924.2 1558,2917.6 1560.5,2920.9 1563,2918.7 1565.5,2918.4 1568,2933.1 1570.5,2931.1 1573,2929.7 1575.5,2929.3 1578,2934 1580.5,2915 1583,2923 1585.5,2921.3 1588,2932.2 1590.5,2928.3 1593,2923 1595.5,2930.8 1598,2923.1 1600.5,2931.9 1603,2923.8 1605.5,2927.4 1608,2921.4 1610.5,2928.4 1613,2923.7 1615.5,2927.4 1618,2929.2 1620.5,2933.8 1623,2922.3 1625.5,2920.9 1628,2920.4 1630.5,2917.5 1633,2921.6 1635.5,2919.2 1638,2919.4 1640.5,2923.2 1643,2914 1645.5,2919.9 1648,2919.3 1650.5,2911.8 1653,2916.8 1655.5,2912.2 1658,2915.8 1660.5,2915 1663,2917.7 1665.5,2916.1 1668,2916 1670.5,2923.5 1673,2921.9 1675.5,2907.7 1678,2915.9 1680.5,2922.2 1683,2918.6 1685.5,2904.6 1688,2908 1690.5,2911.1 1693,2903.3 1695.5,2916 1698,2920.1 1700.5,2913.4 1703,2905.6 1705.5,2918.4 1708,2914.1 1710.5,2915.9 1713,2911.5 1715.5,2904.3 1718,2901.5 1720.5,2914.1 1723,2907.9 1725.5,2910.9 1728,2918.7 1730.5,2913 1733,2900.4 1735.5,2921 1738,2915 1740.5,2908.4 1743,2910.9 1745.5,2903 1748,2910.4 1750.5,2907.3 1753,2916.9 1755.5,2907.4 1758,2900.5 1760.5,2915.3 1763,2913.4 1765.5,2909.4 1768,2910.9 1770.5,2900.6 1773,2918.6 1775.5,2906.7 1778,2905.2 1780.5,2908 1783,2900.5 1785.5,2906.4 1788,2910.6 1790.5,2904.1 1793,2909.3 1795.5,2896 1798,2906.8 1800.5,2915.9 1803,2909.4 1805.5,2906.3 1808,2909.5 1810.5,2911.7 1813,2906.3 1815.5,2909.4 1818,2911 1820.5,2916.4 1823,2904.6 1825.5,2909.1 1828,2905.1 1830.5,2906.9 1833,2894.6 1835.5,2908.3 1838,2910.2 1840.5,2899.1 1843,2898.5 1845.5,2901.4 1848,2905.5 1850.5,2903.1 1853,2907.6 1855.5,2902.1 1858,2906.5 1860.5,2895.7 1863,2904.3 1865.5,2902.9 1868,2905.8 1870.5,2903.2 1873,2901.3 1875.5,2910.5 1878,2895.3 1880.5,2909.6 1883,2911.7 1885.5,2893 1888,2904 1890.5,2912.8 1893,2899.6 1895.5,2900.4 1898,2899.8 1900.5,2900.2 1903,2895.2 1905.5,2900.5 1908,2905.4 1910.5,2898.3 1913,2902 1915.5,2904.9 1918,2905.1 1920.5,2897.2 1923,2903.5 1925.5,2897.6 1928,2905.1 1930.5,2897.7 1933,2896.2 1935.5,2898.3 1938,2897.4 1940.5,2891.4 1943,2897.9 1945.5,2904.2 1948,2895.3 1950.5,2891.9 1953,2904.3 1955.5,2898.2 1958,2889.1 1960.5,2889.9 1963,2902.4 1965.5,2893.1 1968,2887.8 1970.5,2896.9 1973,2895.6 1975.5,2900.8 1978,2898.7 1980.5,2900.5 1983,2892.8 1985.5,2891.1 1988,2896.8 1990.5,2903.9 1993,2906.3 1995.5,2897 1998,2882.2 2000.5,2896.7 2003,2905.7 2005.5,2890.8 2008,2896.6 2010.5,2895.2 2013,2889.7 2015.5,2894.6 2018,2891.4 2020.5,2897.6 2023,2887.6 2025.5,2891.5 2028,2894.5 2030.5,2896.4 2033,2891.1 2035.5,2897 2038,2883.2 2040.5,2895.4 2043,2895.3 2045.5,2898 2048,2890.6 2050.5,2896.1 2053,2898.5 2055.5,2878.4 2058,2899.6 2060.5,2886.8 2063,2889.1" fill="none" stroke="#ff0000" stroke-width="3.9" stroke-linejoin="miter" stroke-linecap="butt"/>
<path d="M233,3108.2 235,3108.8 237,3108.5 239,3108 241,3108.1 243,3108.8 245,3108.1 247,3107.7 249,3107.9 251,3108.2 253,3107.4 255,3107.6 257,3107.4 259,3107.7 261,3107 263,3106.6 265,3105.8 267,3106.6 269,3106.7 271,3106.7 273,3107.2 275,3107.6 277,3107.6 279,3108.2 281,3108.6 283,3108.6 285,3108.4 287,3108.8 289,3108.1 291,3108.5 293,3108.1 295,3108.7 297,3108.6 299,3108.8 301,3108.3 303,3108 305,3107.6 307,3107.4 309,3107.1 311,3106.7 313,3106.7 315,3106.4 317,3106.2 319,3106.2 321,3106.9 323,3107.5 325,3107.6 327,3107.6 329,3107.5 331,3107.4 333,3108.1 335,3107.4 337,3107.1 339,3108 341,3107.7 343,3106.9 345,3107.1 347,3107.6 349,3107.4 351,3108.1 353,3108.1 355,3108.1 357,3108 359,3108 361,3107.4 363,3106.6 365,3106 367,3105.8 369,3105.8 371,3106.3 373,3107 375,3107.4 377,3106.8 379,3106.8 381,3106.1 383,3105.4 385,3106.3 387,3107.3 389,3107.3 391,3107.9 393,3108.9 395,3107.8 397,3107.6 399,3106.8 401,3106.6 403,3106.3 405,3107.5 407,3107.2 409,3108 411,3108 413,3108.2 415,3107.8 417,3107.8 419,3107 421,3107.1 423,3107 425,3107.1 427,3106.8 429,3107.4 431,3107.3 433,3107.2 435,3107.2 437,3107.5 439,3107.9 441,3108.6 443,3108.1 445,3108 447,3108.7 449,3109 451,3107.8 453,3107.8 455,3107.4 457,3106.8 459,3106.6 461,3107.7 463,3107.4 465,3108 467,3107.8 469,3107.7 471,3107.9 473,3108.1 475,3107.6 477,3107.5 479,3107.6 481,3106.9 483,3107.5 485,3107.1 487,3107.7 489,3107.3 491,3107.4 493,3107.4 495,3107.6 497,3107.4 499,3107.7 501,3107.7 503,3108 505,3107.3 507,3107.1 509,3107.1 511,3107.2 513,3106.9 515,3107.3 517,3106.9 519,3107.3 521,3106.9 523,3107.1 525,3107.5 527,3107.9 529,3107.4 531,3107.5 533,3106.8 535,3106.1 537,3105.8 539,3106.4 541,3107 543,3107 545,3107.4 547,3107.2 549,3106.7 551,3107.1 553,3107.3 555,3107.7 557,3107.4 559,3107.8 561,3107.7 563,3107.7 565,3107 567,3106.2 569,3105.4 571,3105.9 573,3106.3 575,3105.9 577,3107.3 579,3106.7 581,3106.5 583,3106.4 585,3106.4 587,3105.7 589,3107.7 591,3107.3 593,3107.9 595,3108.3 597,3108.5 599,3107.6 601,3108.5 603,3107.4 605,3101.9 607,3106.1 609,3100.4 611,3094 613,3096.3 615,3094.5 617,3092.8 619,3096.2 621,3094.3 623,3096.1 625,3099.9 627,3101.1 629,3103.6 631,3106.6 633,3108.1 635,3106.3 637,3102.2 639,3098.9 641,3094.4 643,3091.9 645,3094.4 647,3097.6 649,3095.8 651,3095.4 653,3097.5 655,3098.1 657,3098 659,3098.8 661,3099.8 663,3102 665,3100.9 667,3099.9 669,3103.4 671,3107 673,3105.1 675,3105.1 677,3101.7 679,3100.1 681,3098.7 683,3102.4 685,3104.3 687,3105.3 689,3103.8 691,3102.6 693,3103.2 695,3103.9 697,3102.9 699,3105 701,3103.8 703,3103.7 705,3104.6 707,3101.9 709,3097.9 711,3098 713,3094.7 715,3098.4 717,3103.1 719,3101.6 721,3100.2 723,3103.1 725,3102.4 727,3100.5 729,3096 731,3094.3 733,3094.4 735,3097.8 737,3100.2 739,3104.8 741,3109.2 743,3107 745,3105 747,3099.5 749,3096.6 751,3095.6 753,3095.5 755,3095.7 757,3099 759,3096.5 761,3102 763,3099.2 765,3097.7 767,3095.7 769,3097.6 771,3100 773,3101.5 775,3100.7 777,3097.6 779,3095.6 781,3097.2 783,3100.2 785,3102.8 787,3102.1 789,3106.9 791,3109.3 793,3106.6 795,3104.8 797,3108.3 799,3111.8 801,3106.6 803,3104 805,3106.5 807,3105.3 809,3105.9 811,3105.1 813,3102.1 815,3104.4 817,3106.5 819,3106.4 821,3102 823,3108.3 825,3103.8 827,3099 829,3100.6 831,3106.4 833,3100.9 835,3100.9 837,3102.2 839,3099.6 841,3099 843,3097 845,3102.5 847,3100.2 849,3102.6 851,3103.3 853,3105.9 855,3103.8 857,3102 859,3103.7 861,3102.4 863,3100.9 865,3103.6 867,3098.5 869,3092.9 871,3096.3 873,3096.9 875,3093.3 877,3093.6 879,3098.1 881,3100.8 883,3101.2 885,3104.7 887,3098.8 889,3099.8 891,3099.9 893,3099.2 895,3103.7 897,3108.6 899,3104.5 901,3103.2 903,3102.3 905,3100.7 907,3100.1 909,3105.6 911,3107.7 913,3104.3 915,3106 917,3103.8 919,3097.8 921,3099.1 923,3098.7 925,3096.7 927,3098.6 929,3101.1 931,3097.8 933,3097.8 935,3095.3 937,3099.2 939,3100.8 941,3102.1 943,3105 945,3109.3 947,3105.7 949,3108.7 951,3106.1 953,3096.2 955,3092.1 957,3093.7 959,3096.2 961,3096.1 963,3102.4 965,3108.6 967,3107.9 969,3108.4 971,3110.1 973,3110.7 975,3107.9 977,3106.2 979,3106.6 981,3106.8 983,3103.2 985,3104.6 987,3108.8 989,3106 991,3101.7 993,3107.5 995,3107.7 997,3101.8 999,3097.8 1001,3096.9 1003,3093.4 1005,3099.8 1007,3098.3 1009,3095.4 1011,3097.7 1013,3099.4 1015,3097.5 1017,3102 1019,3107.4 1021,3100.3 1023,3099.9 1025,3101.1 1027,3098.7 1029,3098.5 1031,3106.1 1033,3107.4 1035,3103.9 1037,3104.7 1039,3105.2 1041,3103.6 1043,3098.5 1045,3097.3 1047,3098.6 1049,3097.9 1051,3096.5 1053,3095.4 1055,3100 1057,3105.2 1059,3103.8 1061,3099.4 1063,3097.4 1065,3097.5 1067,3100.1 1069,3099.8 1071,3099.6 1073,3098.8 1075,3100.5 1077,3098.6 1079,3095.8 1081,3098.5 1083,3102.7 1085,3099 1087,3100.4 1089,3101.6 1091,3100.8 1093,3103 1095,3103.5 1097,3102.1 1099,3105.6 1101,3104.1 1103,3102.3 1105,3097.5 1107,3095.8 1109,3097 1111,3092.8 1113,3091.9 1115,3093.3 1117,3094 1119,3095.3 1121,3099.3 1123,3099.2 1125,3100.4 1127,3100.2 1129,3097.6 1131,3098 1133,3098.1 1135,3096.6 1137,3096.7 1139,3100.6 1141,3099.4 1143,3103.1 1145,3105.4 1147,3101.3 1149,3100.1 1151,3106.4 1153,3106.1 1155,3105.9 1157,3109.5 1159,3110 1161,3108.7 1163,3105.2 1165,3101.6 1167,3099.6 1169,3102.7 1171,3104.2 1173,3105.6 1175,3108 1177,3107.4 1179,3104.5 1181,3102.4 1183,3101.5 1185,3099.6 1187,3097.9 1189,3099.7 1191,3098.8 1193,3098.7 1195,3102.6 1197,3105.8 1199,3106.1 1201,3105 1203,3106.9 1205,3107.1 1207,3100.8 1209,3097.8 1211,3098.1 1213,3097.4 1215,3096.6 1217,3099.7 1219,3106.8 1221,3106 1223,3104.2 1225,3105.1 1227,3105.8 1229,3103.8 1231,3104.2 1233,3108.7 1235,3109.3 1237,3105.6 1239,3102.3 1241,3101.5 1243,3102.2 1245,3100 1247,3096.3 1249,3094.7 1251,3097.1 1253,3103.2 1255,3109.1 1257,3107.1 1259,3107.2 1261,3105.3 1263,3108 1265,3102.4 1267,3102.6 1269,3101.6 1271,3102 1273,3101.7 1275,3100.5 1277,3102 1279,3107.1 1281,3105.6 1283,3105.4 1285,3100.9 1287,3102.6 1289,3100.2 1291,3096.6 1293,3098.1 1295,3100.2 1297,3099.6 1299,3101.2 1301,3104.5 1303,3101.7 1305,3099.2 1307,3098.3 1309,3099.8 1311,3098.8 1313,3099.5 1315,3104.8 1317,3107.5 1319,3107.5 1321,3103.6 1323,3102.9 1325,3096.3 1327,3095.1 1329,3094.4 1331,3096 1333,3102.4 1335,3108.2 1337,3108.3 1339,3108.6 1341,3107.5 1343,3106.4 1345,3106.4 1347,3103.1 1349,3099.7 1351,3101.5 1353,3107.8 1355,3105.5 1357,3103.2 1359,3104.7 1361,3106.6 1363,3105 1365,3107.5 1367,3105.7 1369,3108.2 1371,3109.2 1373,3106.6 1375,3104.6 1377,3109.3 1379,3104.8 1381,3106.4 1383,3109.5 1385,3109.8 1387,3109.5 1389,3109.8 1391,3111 1393,3111.8 1395,3107.3 1397,3103.2 1399,3100.8 1401,3101.8 1403,3099.5 1405,3096.2 1407,3103.9 1409,3107 1411,3104.3 1413,3106.7 1415,3105.6 1417,3103.7 1419,3101.6 1421,3103.3 1423,3102.3 1425,3102.9 1427,3100.6 1429,3102.7 1431,3101 1433,3102.9 1435,3099 1437,3099.1 1439,3100.7 1441,3103 1443,3104.5 1445,3107.7 1447,3107.2 1449,3107.5 1451,3105.6 1453,3104.3 1455,3105.2 1457,3102.6 1459,3099.1 1461,3100.5 1463,3106.8 1465,3110.7 1467,3107.7 1469,3106.9 1471,3103.2 1473,3101 1475,3098 1477,3101.1 1479,3098.5 1481,3101.5 1483,3095.3 1485,3093.2 1487,3099.1 1489,3094.1 1491,3093.9 1493,3099.9 1495,3103 1497,3101.8 1499,3108.2 1501,3104.2 1503,3103.1 1505,3099.7 1507,3107 1509,3098.9 1511,3101.1 1513,3099.3 1515,3103.8 1517,3103.4 1519,3105.3 1521,3108.9 1523,3105.6 1525,3102.6 1527,3099 1529,3097 1531,3095.8 1533,3092.4 1535,3095.3 1537,3097.6 1539,3092.5 1541,3095.2 1543,3100.1 1545,3100.9 1547,3106.4 1549,3107.3 1551,3106.8 1553,3103.8 1555,3100.1 1557,3100.9 1559,3101.1 1561,3096.4 1563,3092.8 1565,3096.9 1567,3097.5 1569,3102.1 1571,3101.9 1573,3104.2 1575,3103.6 1577,3100.4 1579,3102.3 1581,3102.1 1583,3100.9 1585,3093.1 1587,3093.6 1589,3090.1 1591,3091.8 1593,3091.4 1595,3095.1 1597,3092.7 1599,3094 1601,3099.7 1603,3106.5 1605,3109.3 1607,3106.1 1609,3099.3 1611,3101 1613,3102.2 1615,3102.7 1617,3099.3 1619,3097.7 1621,3101.2 1623,3100.5 1625,3097.8 1627,3099.5 1629,3102 1631,3100.9 1633,3095.4 1635,3094.9 1637,3099.2 1639,3105.5 1641,3099 1643,3103.9 1645,3104.2 1647,3103.7 1649,3102.5 1651,3103.5 1653,3100 1655,3102.3 1657,3103.7 1659,3103.1 1661,3106.7 1663,3106.9 1665,3100.1 1667,3098 1669,3103.6 1671,3102.2 1673,3096.9 1675,3098 1677,3104.9 1679,3100.4 1681,3097.1 1683,3096.4 1685,3099.4 1687,3099.1 1689,3103.5 1691,3101 1693,3101.7 1695,3104.1 1697,3101.7 1699,3101.8 1701,3108.1 1703,3103.5 1705,3101.3 1707,3102.7 1709,3103.1 1711,3099 1713,3101.1 1715,3102.4 1717,3100.2 1719,3098.1 1721,3098.5 1723,3095.6 1725,3099.1 1727,3104.4 1729,3101.7 1731,3098.9 1733,3104.1 1735,3100.3 1737,3095.6 1739,3099 1741,3102.3 1743,3099.3 1745,3100.8 1747,3103.5 1749,3100.8 1751,3101.4 1753,3100.1 1755,3102.6 1757,3105.5 1759,3102.3 1761,3102.5 1763,3102.3 1765,3103.2 1767,3097.8 1769,3099.4 1771,3100.2 1773,3099.5 1775,3093.7 1777,3095.4 1779,3099.8 1781,3100 1783,3100.3 1785,3101.1 1787,3097.8 1789,3098.3 1791,3099.6 1793,3102.4 1795,3101.6 1797,3104.5 1799,3102.4 1801,3104.9 1803,3102.2 1805,3099.7 1807,3103.1 1809,3102.6 1811,3102 1813,3104.5 1815,3107.8 1817,3105.6 1819,3105.2 1821,3104.4 1823,3099.4 1825,3097.8 1827,3102.3 1829,3103.2 1831,3100.5 1833,3104.1 1835,3105.1 1837,3104.5 1839,3108.2 1841,3108.9 1843,3103.7 1845,3102.4 1847,3097.9 1849,3096.9 1851,3094.8 1853,3096.9 1855,3094.6 1857,3094.8 1859,3098 1861,3106.4 1863,3105.9 1865,3108.4 1867,3111.4 1869,3108.6 1871,3102 1873,3100.7 1875,3098.3 1877,3099.8 1879,3101.2 1881,3101.1 1883,3103.1 1885,3101.9 1887,3101.6 1889,3094.6 1891,3095.9 1893,3094.2 1895,3098.7 1897,3097.6 1899,3099 1901,3097.7 1903,3100.7 1905,3100.2 1907,3103.5 1909,3104.1 1911,3100.1 1913,3102.7 1915,3102.6 1917,3103 1919,3101.2 1921,3102.9 1923,3101.1 1925,3099.4 1927,3100.3 1929,3103.6 1931,3105 1933,3103.1 1935,3104.2 1937,3103.7 1939,3105.4 1941,3106.6 1943,3105.8 1945,3099.3 1947,3099.2 1949,3100.4 1951,3097.5 1953,3098.2 1955,3102.1 1957,3101.7 1959,3103.2 1961,3108.3 1963,3106.6 1965,3100.1 1967,3104.8 1969,3107.3 1971,3104.2 1973,3103.2 1975,3104.7 1977,3109 1979,3113.7 1981,3114.5 1983,3115 1985,3112.2 1987,3108.6 1989,3109.2 1991,3109.7 1993,3102.5 1995,3105.3 1997,3108.1 1999,3103.7 2001,3102.8 2003,3103.8 2005,3100.2 2007,3096.1 2009,3098.4 2011,3102 2013,3102.3 2015,3102.6 2017,3102.8 2019,3100.6 2021,3101.3 2023,3104.1 2025,3100.8 2027,3099.9 2029,3098.2 2031,3101.1 2033,3101.7 2035,3102.2 2037,3109 2039,3108.2 2041,3104.6 2043,3106.5 2045,3108.8 2047,3108.4 2049,3108.1 2051,3105.2 2053,3099.6 2055,3096.6 2057,3098.3 2059,3100.1 2061,3099.4 2063,3098.5" fill="none" stroke="#0000ff" stroke-width="4.6" stroke-linejoin="round" stroke-linecap="butt"/>
<path d="M233,3086.5 235,3086.4 237,3084.9 239,3085.9 241,3086.6 243,3086.2 245,3085.9 247,3086.4 249,3085.6 251,3085.8 253,3085.8 255,3086.2 257,3085.5 259,3085 261,3084.6 263,3085.3 265,3085.3 267,3085.3 269,3085 271,3085.1 273,3084.2 275,3083.5 277,3084 279,3084.7 281,3084.4 283,3084.7 285,3084.7 287,3084.6 289,3084.3 291,3084.6 293,3083.7 295,3084 297,3084 299,3082 301,3082.6 303,3083.8 305,3083.9 307,3083.5 309,3083.4 311,3083.6 313,3083.8 315,3083.6 317,3082.9 319,3082.8 321,3083.1 323,3082.9 325,3083 327,3082.8 329,3083 331,3082 333,3082.2 335,3082.6 337,3082.6 339,3082.4 341,3081.9 343,3082.4 345,3081.9 347,3081.8 349,3082.2 351,3081.9 353,3081.9 355,3080.9 357,3080.6 359,3082 361,3081.2 363,3080.9 365,3081.2 367,3080.5 369,3080.7 371,3080.9 373,3080.8 375,3078.5 377,3079.3 379,3080.1 381,3080.4 383,3078.6 385,3079.9 387,3080.1 389,3079.4 391,3079.2 393,3080.4 395,3079.1 397,3079.5 399,3079.6 401,3080 403,3078.8 405,3080.1 407,3078.1 409,3078.9 411,3079.7 413,3079.3 415,3078.8 417,3079.4 419,3079.2 421,3079.5 423,3079 425,3079.3 427,3078.9 429,3079.1 431,3077.9 433,3078.5 435,3078.5 437,3078.3 439,3078.1 441,3078.6 443,3078.5 445,3078 447,3077.1 449,3078.3 451,3076.9 453,3075.9 455,3077.6 457,3077.1 459,3077.9 461,3077.8 463,3077.7 465,3076.4 467,3077.3 469,3077.1 471,3076.5 473,3077 475,3076.4 477,3075.6 479,3076.7 481,3076.4 483,3076.8 485,3076.4 487,3076.2 489,3076.6 491,3074.8 493,3074.2 495,3076.1 497,3076.1 499,3075.4 501,3075.4 503,3075.1 505,3074.4 507,3074.3 509,3075.2 511,3075.7 513,3075.3 515,3074.7 517,3075.3 519,3075.2 521,3075.3 523,3074.4 525,3075.1 527,3074.3 529,3074.9 531,3074.9 533,3074.8 535,3074.7 537,3074.5 539,3072.7 541,3074.2 543,3073.6 545,3074 547,3074.3 549,3073.2 551,3073.6 553,3074.1 555,3073.2 557,3073.1 559,3073.3 561,3073.7 563,3072.8 565,3073.2 567,3073.2 569,3073 571,3072.5 573,3072.5 575,3072.5 577,3072.9 579,3071 581,3071.7 583,3071.9 585,3072.5 587,3072.1 589,3072.3 591,3071.8 593,3072.1 595,3071 597,3071.7 599,3071.6 L599,3076.7 597,3077.3 595,3078.8 593,3078.4 591,3077.4 589,3078.1 587,3078.7 585,3077.7 583,3078.8 581,3078.5 579,3077.6 577,3077.7 575,3078.3 573,3078.5 571,3078.5 569,3078.1 567,3077.9 565,3078.6 563,3078.6 561,3078.5 559,3078.4 557,3079.5 555,3078.9 553,3079.4 551,3078.7 549,3080.2 547,3079.5 545,3079.3 543,3079 541,3079.2 539,3080.3 537,3080.2 535,3079.6 533,3079.5 531,3080.1 529,3079.8 527,3081.4 525,3080.8 523,3080.6 521,3080.4 519,3079.9 517,3080.6 515,3081 513,3080.6 511,3080.5 509,3080.8 507,3080.9 505,3081 503,3081.3 501,3081.4 499,3081.1 497,3080.9 495,3081.7 493,3081.6 491,3081.2 489,3081.1 487,3082 485,3081.4 483,3081.4 481,3082.4 479,3083.8 477,3081.6 475,3082.4 473,3082 471,3082.6 469,3082.3 467,3082.8 465,3082.6 463,3082.7 461,3082.8 459,3082.6 457,3083.2 455,3084.7 453,3083.5 451,3084 449,3085.1 447,3083.9 445,3083.1 443,3083.5 441,3083.3 439,3084.1 437,3083.3 435,3083.5 433,3085.3 431,3083.6 429,3085.3 427,3083.7 425,3084.5 423,3084.5 421,3084 419,3084.1 417,3084.2 415,3084.9 413,3085.8 411,3084.6 409,3085.5 407,3084.9 405,3085.1 403,3086.3 401,3085 399,3085.4 397,3085.4 395,3085.6 393,3086 391,3086.1 389,3086 387,3085.7 385,3086.3 383,3086.6 381,3087.7 379,3087.6 377,3086 375,3085.8 373,3086.3 371,3085.9 369,3087.4 367,3087.2 365,3086.2 363,3086.8 361,3088.2 359,3087.1 357,3086.7 355,3087.3 353,3087.6 351,3086.9 349,3087.1 347,3087.1 345,3088 343,3087.8 341,3087.8 339,3088.5 337,3088.3 335,3087.5 333,3087.8 331,3088 329,3088.1 327,3089.5 325,3089.4 323,3089.1 321,3089.4 319,3088.3 317,3089.1 315,3088.3 313,3089.2 311,3090 309,3090.3 307,3089 305,3089.1 303,3089.2 301,3088.9 299,3089.1 297,3089 295,3089.6 293,3089.6 291,3090.1 289,3089.5 287,3089.7 285,3089.7 283,3090.2 281,3090.1 279,3090 277,3091 275,3090.7 273,3090.6 271,3090.6 269,3091.3 267,3090.4 265,3091.8 263,3090.9 261,3091.9 259,3092.1 257,3090.6 255,3090.8 253,3091 251,3091.1 249,3091.1 247,3091.7 245,3091.2 243,3092.4 241,3092.1 239,3092.9 237,3092.7 235,3092.6 233,3092.7Z" fill="#000000"/>
<path d="M607,2869.6 609,2871.3 611,2872.7 613,2876.9 615,2876.7 617,2874.5 619,2874.9 621,2875.3 623,2876.1 625,2872.7 627,2870.1 629,2873 631,2873.9 633,2872.2 635,2868 637,2865.2 639,2865 641,2861.6 643,2867.1 645,2864.8 647,2866.2 649,2865.4 651,2865.1 653,2867.6 655,2867.4 657,2867.6 659,2868.3 661,2868.2 663,2865.5 665,2867.8 667,2869.7 669,2866.2 671,2867.9 673,2871.5 675,2872.7 677,2873.9 679,2872.8 681,2872.9 683,2878.1 685,2878 687,2881.4 689,2881.3 691,2880 693,2882.8 695,2884.1 697,2880 699,2885.1 701,2877.8 703,2881.9 705,2883.6 707,2881.1 709,2883.1 711,2883.4 713,2882.3 715,2879.6 717,2881.5 719,2880.7 721,2878.6 723,2877.8 725,2879.6 727,2875.6 729,2876.6 731,2879.3 733,2880.5 735,2880 737,2879.8 739,2880.8 741,2880.3 743,2881.2 745,2880 747,2879.4 749,2881.3 751,2880 753,2876.6 755,2880.8 757,2878.6 759,2876.5 761,2878.7 763,2879.6 765,2878.1 767,2875.2 769,2877.1 771,2880.4 773,2882.1 775,2881.6 777,2880 779,2880.4 781,2877.7 783,2875 785,2880.4 787,2881 789,2880.8 791,2882.1 793,2880.7 795,2880.2 797,2884.3 799,2883.1 801,2882.8 803,2883.2 805,2882.5 807,2883.2 809,2880.7 811,2878.8 813,2880.6 815,2878.3 817,2878.1 819,2875 821,2877.2 823,2878.5 825,2880 827,2879.2 829,2880.5 831,2882.6 833,2879.3 835,2878.1 837,2882 839,2882.8 841,2884.1 843,2881.9 845,2881.4 847,2880.6 849,2882.5 851,2881.8 853,2881.1 855,2878.3 857,2879.9 859,2878.8 861,2881 863,2879.3 865,2876.6 867,2875.8 869,2873.1 871,2879.4 873,2877.3 875,2874.6 877,2874.3 879,2878.9 881,2877.9 883,2880.6 885,2882.4 887,2882.3 889,2883.9 891,2883.4 893,2884.1 895,2883 897,2883.5 899,2882.7 901,2879.3 903,2881.4 905,2877.5 907,2878.4 909,2880.1 911,2878.4 913,2877.9 915,2880.2 917,2880.1 919,2881.3 921,2882.5 923,2883.5 925,2883.8 927,2880.2 929,2879.5 931,2882.1 933,2881.8 935,2879.6 937,2882.1 939,2878.8 941,2878.6 943,2880.7 945,2880.9 947,2879.3 949,2883.1 951,2881.6 953,2880.6 955,2883.6 957,2883.9 959,2884 961,2884 963,2882.2 965,2883.6 967,2881.7 969,2882.4 971,2878.9 973,2877.1 975,2877.6 977,2879.3 979,2881.5 981,2879.9 983,2881.3 985,2880.9 987,2881.3 989,2882.2 991,2881 993,2879.9 995,2876.2 997,2876.6 999,2880.5 1001,2880.5 1003,2880.7 1005,2879.3 1007,2880.3 1009,2881.1 1011,2882.2 1013,2881.6 1015,2883.3 1017,2884.7 1019,2884.3 1021,2883.4 1023,2883.7 1025,2885.5 1027,2882.4 1029,2883.2 1031,2883.1 1033,2879.5 1035,2877.9 1037,2881.7 1039,2878.4 1041,2880.4 1043,2882.1 1045,2883.2 1047,2883.5 1049,2881.5 1051,2881.1 1053,2878.8 1055,2882.7 1057,2880.3 1059,2881.3 1061,2880.5 1063,2878.8 1065,2876.3 1067,2878 1069,2880.6 1071,2878.3 1073,2880.5 1075,2878.6 1077,2877.4 1079,2875.9 1081,2877.1 1083,2877.6 1085,2882.4 1087,2882.7 1089,2883.2 1091,2885.2 1093,2882.7 1095,2878.2 1097,2879.5 1099,2881.8 1101,2882 1103,2883.3 1105,2883.9 1107,2881.2 1109,2879 1111,2882.9 1113,2883.5 1115,2880.9 1117,2881.2 1119,2879.8 1121,2881.2 1123,2880.4 1125,2879.7 1127,2877.8 1129,2876.5 1131,2880.8 1133,2881.4 1135,2882.4 1137,2876.9 1139,2877.9 1141,2880.4 1143,2880.5 1145,2880.7 1147,2878.6 1149,2881 1151,2879.8 1153,2879.4 1155,2881.2 1157,2879.8 1159,2878.8 1161,2878.2 1163,2877.2 1165,2880 1167,2879 1169,2876.7 1171,2877.3 1173,2879.6 1175,2881.2 1177,2882.9 1179,2884 1181,2883.5 1183,2882.1 1185,2879.8 1187,2881.7 1189,2882.7 1191,2880.6 1193,2884.5 1195,2882.7 1197,2883.2 1199,2881.9 1201,2882.5 1203,2883.6 1205,2884 1207,2881.2 1209,2882.9 1211,2883.6 1213,2883 1215,2883.9 1217,2882.3 1219,2882.3 1221,2880.9 1223,2879.3 1225,2881.9 1227,2882.3 1229,2878.5 1231,2879.8 1233,2880.2 1235,2880.6 1237,2879.4 1239,2881.6 1241,2879 1243,2879.5 1245,2880.5 1247,2879.6 1249,2876.9 1251,2878.1 1253,2880.9 1255,2878.4 1257,2879 1259,2879.5 1261,2881.1 1263,2881.3 1265,2881.2 1267,2881.5 1269,2881.9 1271,2882.1 1273,2881.2 1275,2879 1277,2880.1 1279,2879 1281,2880 1283,2876.1 1285,2878.5 1287,2880.1 1289,2881.2 1291,2881.6 1293,2881.2 1295,2881.4 1297,2881.3 1299,2883.1 1301,2880.9 1303,2881 1305,2882.2 1307,2877 1309,2880.2 1311,2882.9 1313,2882.5 1315,2882.2 1317,2881.1 1319,2881.5 1321,2881.7 1323,2882.4 1325,2879.6 1327,2881.3 1329,2878.5 1331,2876.5 1333,2879.4 1335,2880.5 1337,2877.5 1339,2880.2 1341,2878.8 1343,2880.2 1345,2881.3 1347,2876.7 1349,2875.4 1351,2881.2 1353,2882.5 1355,2878.3 1357,2880.2 1359,2876.7 1361,2879.7 1363,2880.5 1365,2881.8 1367,2882.1 1369,2882.6 1371,2882.1 1373,2882.3 1375,2882.4 1377,2883 1379,2882.3 1381,2884.2 1383,2884.1 1385,2885.6 1387,2879.9 1389,2884.6 1391,2882.3 1393,2881.3 1395,2880.8 1397,2880.1 1399,2881.8 1401,2878.9 1403,2878.6 1405,2878.5 1407,2879.5 1409,2876.1 1411,2878.3 1413,2879.1 1415,2883 1417,2881.2 1419,2882.1 1421,2880.7 1423,2881.9 1425,2880.6 1427,2879.4 1429,2881.4 1431,2880.7 1433,2882.3 1435,2881.5 1437,2878.7 1439,2879.7 1441,2882.7 1443,2882.8 1445,2881.6 1447,2878.7 1449,2879.5 1451,2881.2 1453,2881.9 1455,2881.3 1457,2882.1 1459,2880.6 1461,2881.5 1463,2881.4 1465,2878.5 1467,2875.5 1469,2877.6 1471,2873.9 1473,2877.3 1475,2874.1 1477,2875.9 1479,2877.1 1481,2878.8 1483,2878.5 1485,2882.1 1487,2881.1 1489,2883 1491,2882.1 1493,2881.6 1495,2877.7 1497,2877.1 1499,2880.8 1501,2881.9 1503,2881.1 1505,2881.9 1507,2883.5 1509,2883.1 1511,2883.4 1513,2879.9 1515,2880.6 1517,2879.9 1519,2880.9 1521,2880.6 1523,2878.6 1525,2880.5 1527,2876.4 1529,2875.6 1531,2877.9 1533,2883 1535,2881.3 1537,2883.1 1539,2880.7 1541,2879.6 1543,2882.3 1545,2881.2 1547,2879 1549,2881.1 1551,2877.6 1553,2878.4 1555,2879.1 1557,2879.2 1559,2879.8 1561,2879.8 1563,2881.7 1565,2879.9 1567,2876.2 1569,2878.1 1571,2879.6 1573,2880.1 1575,2878.1 1577,2880.6 1579,2879.3 1581,2879.9 1583,2881.4 1585,2880.7 1587,2879 1589,2881.3 1591,2881.3 1593,2879 1595,2882.4 1597,2883.7 1599,2884.5 1601,2883.1 1603,2880.7 1605,2884 1607,2881.9 1609,2879.6 1611,2877.8 1613,2879.8 1615,2881.2 1617,2876.3 1619,2877.3 1621,2878 1623,2878.9 1625,2879.7 1627,2880.9 1629,2878.4 1631,2880.4 1633,2880.3 1635,2879.8 1637,2875.7 1639,2879 1641,2881.3 1643,2880.7 1645,2881.5 1647,2881.1 1649,2881.9 1651,2881.7 1653,2882.5 1655,2881.1 1657,2879.2 1659,2880.9 1661,2877.3 1663,2880.8 1665,2883.3 1667,2881.8 1669,2880.1 1671,2879.1 1673,2882.2 1675,2881.4 1677,2880.4 1679,2878 1681,2878.7 1683,2876.9 1685,2875.1 1687,2875.6 1689,2877.3 1691,2879.4 1693,2878.8 1695,2880.2 1697,2875.9 1699,2876.7 1701,2878.3 1703,2880.6 1705,2881.4 1707,2882 1709,2879.5 1711,2879.2 1713,2882.4 1715,2882.4 1717,2880.5 1719,2879.2 1721,2880.2 1723,2878.1 1725,2877.1 1727,2881.3 1729,2881.7 1731,2881.3 1733,2879.7 1735,2881.9 1737,2878.9 1739,2881.2 1741,2882.6 1743,2879.4 1745,2879.7 1747,2877.3 1749,2879 1751,2878.7 1753,2879 1755,2878.9 1757,2880.2 1759,2874.5 1761,2874.8 1763,2878.1 1765,2879.4 1767,2881.5 1769,2881.6 1771,2876.8 1773,2877.7 1775,2882.1 1777,2882.1 1779,2881.2 1781,2880.1 1783,2883 1785,2880.9 1787,2879.6 1789,2880.7 1791,2882 1793,2881.7 1795,2880.9 1797,2881.6 1799,2883.1 1801,2879.4 1803,2880 1805,2879.6 1807,2878.5 1809,2881.1 1811,2882.8 1813,2876.2 1815,2878.3 1817,2880.1 1819,2878.4 1821,2879.2 1823,2880.2 1825,2881.8 1827,2881.3 1829,2881.4 1831,2882.1 1833,2881.6 1835,2883 1837,2881 1839,2881.9 1841,2879.6 1843,2881.5 1845,2881.9 1847,2880.9 1849,2879 1851,2880.1 1853,2881.8 1855,2880.8 1857,2878.9 1859,2882.7 1861,2881.4 1863,2880.8 1865,2884.2 1867,2881.5 1869,2879.9 1871,2878 1873,2880.6 1875,2877 1877,2879.6 1879,2881.3 1881,2882.3 1883,2879.9 1885,2881.2 1887,2881.2 1889,2880.3 1891,2879.9 1893,2880.2 1895,2879.9 1897,2879.6 1899,2880 1901,2878.4 1903,2880.1 1905,2880.8 1907,2882.3 1909,2881.8 1911,2878.3 1913,2877.4 1915,2875.9 1917,2880.9 1919,2877.7 1921,2878.5 1923,2880.8 1925,2881.3 1927,2879.5 1929,2877.5 1931,2879.3 1933,2878.3 1935,2881.3 1937,2881.6 1939,2880.9 1941,2881.3 1943,2880.4 1945,2878.3 1947,2881.9 1949,2881.8 1951,2882 1953,2878.9 1955,2883.4 1957,2881.4 1959,2883.3 1961,2882.5 1963,2881.6 1965,2884.5 1967,2883.7 1969,2881.7 1971,2879.1 1973,2878.3 1975,2879.5 1977,2879.2 1979,2879.7 1981,2879 1983,2879.9 1985,2879.1 1987,2876.3 1989,2876.4 1991,2880.1 1993,2881.5 1995,2882.4 1997,2883.5 1999,2882.2 2001,2881.2 2003,2881 2005,2880.4 2007,2877.6 2009,2876.7 2011,2880.4 2013,2878.6 2015,2880.2 2017,2883 2019,2881.2 2021,2877.8 2023,2881 2025,2881.7 2027,2879.6 2029,2880.6 2031,2883.6 2033,2881 2035,2882.1 2037,2882.6 2039,2881.7 2041,2882.2 2043,2880.2 2045,2877.7 2047,2879.3 2049,2875.8 2051,2874.8 2053,2878.4 2055,2882.8 2057,2879.1 2059,2881.1 2061,2884 2063,2884.7 L2063,2893.4 2061,2891.8 2059,2892.2 2057,2891.8 2055,2890.7 2053,2892.4 2051,2891.2 2049,2889.2 2047,2889 2045,2889.9 2043,2889.8 2041,2891.3 2039,2893.4 2037,2895 2035,2895 2033,2894.6 2031,2891.7 2029,2892.7 2027,2892.6 2025,2890.3 2023,2893.7 2021,2892.2 2019,2891 2017,2892.8 2015,2894.9 2013,2891.7 2011,2890.3 2009,2891.5 2007,2893 2005,2890.8 2003,2890.2 2001,2891.9 1999,2889.6 1997,2891.2 1995,2890.5 1993,2890.2 1991,2891.7 1989,2887.8 1987,2890.3 1985,2887.8 1983,2888.7 1981,2893.8 1979,2892 1977,2889.8 1975,2892.6 1973,2889.9 1971,2891.9 1969,2893.6 1967,2891.7 1965,2893.4 1963,2893.1 1961,2895.5 1959,2892.4 1957,2892.2 1955,2892.2 1953,2890.1 1951,2891 1949,2892.9 1947,2890.6 1945,2891.4 1943,2891.3 1941,2890.4 1939,2889.2 1937,2890 1935,2891.3 1933,2892.7 1931,2889.3 1929,2892.6 1927,2890.8 1925,2891.9 1923,2891.7 1921,2891.3 1919,2888.5 1917,2894.3 1915,2892.4 1913,2890 1911,2889.1 1909,2890.2 1907,2889.3 1905,2889.9 1903,2888.7 1901,2889.8 1899,2888.5 1897,2889 1895,2890.4 1893,2891.2 1891,2889.4 1889,2891.6 1887,2890.3 1885,2890.6 1883,2890.2 1881,2890.8 1879,2891.7 1877,2892 1875,2888.7 1873,2891.4 1871,2891.8 1869,2890.1 1867,2890.9 1865,2894.3 1863,2894.1 1861,2891.2 1859,2891.8 1857,2896.1 1855,2893.3 1853,2892.6 1851,2892.3 1849,2889.1 1847,2889.6 1845,2889.3 1843,2891 1841,2891.3 1839,2894.5 1837,2894.9 1835,2891.5 1833,2893.7 1831,2892.1 1829,2891.3 1827,2891.6 1825,2892.3 1823,2889.4 1821,2891.2 1819,2889.9 1817,2888.6 1815,2889.8 1813,2889.4 1811,2891.9 1809,2891.1 1807,2893.6 1805,2891.9 1803,2890.4 1801,2891.2 1799,2891.7 1797,2891.1 1795,2891 1793,2890.6 1791,2894.2 1789,2891.8 1787,2890.4 1785,2892.1 1783,2890.9 1781,2891.1 1779,2889.6 1777,2890.8 1775,2889.3 1773,2888.6 1771,2893.6 1769,2894.6 1767,2889.8 1765,2890.1 1763,2891.5 1761,2888.8 1759,2888 1757,2888.9 1755,2887.9 1753,2889.2 1751,2888.7 1749,2891.7 1747,2891.8 1745,2891.8 1743,2895.7 1741,2892.1 1739,2889.5 1737,2889 1735,2890.7 1733,2891.7 1731,2890.6 1729,2889.5 1727,2893.3 1725,2890.2 1723,2890.9 1721,2889 1719,2892.1 1717,2892 1715,2889.8 1713,2893.1 1711,2892.4 1709,2889.3 1707,2891.1 1705,2892 1703,2889.5 1701,2893.9 1699,2890.9 1697,2889.8 1695,2890.3 1693,2892.5 1691,2889.3 1689,2890.7 1687,2888.8 1685,2887.4 1683,2889 1681,2888.2 1679,2887.6 1677,2888.6 1675,2893.9 1673,2889.8 1671,2896.3 1669,2893.3 1667,2891 1665,2894.1 1663,2892 1661,2895.3 1659,2891.7 1657,2891.5 1655,2891.6 1653,2890.1 1651,2892 1649,2889.4 1647,2891 1645,2892 1643,2891.4 1641,2889.4 1639,2891 1637,2889.4 1635,2888.2 1633,2890.3 1631,2887.9 1629,2888.5 1627,2890.3 1625,2891.7 1623,2891.4 1621,2889.5 1619,2893.5 1617,2893.1 1615,2889.4 1613,2891.6 1611,2891.8 1609,2889.8 1607,2893.8 1605,2891.3 1603,2893.1 1601,2893.2 1599,2892.4 1597,2892.2 1595,2890.6 1593,2889.5 1591,2892.8 1589,2891.7 1587,2889 1585,2892.3 1583,2894.7 1581,2890.7 1579,2891.4 1577,2889.7 1575,2891.4 1573,2892.9 1571,2889.5 1569,2891 1567,2888 1565,2889.6 1563,2889.3 1561,2889.8 1559,2890.4 1557,2889.3 1555,2891 1553,2889.4 1551,2892.3 1549,2893 1547,2897.2 1545,2891 1543,2893.1 1541,2891 1539,2890.6 1537,2892.1 1535,2891 1533,2892.9 1531,2890.1 1529,2890.1 1527,2889.7 1525,2888.1 1523,2891.5 1521,2894.7 1519,2891.2 1517,2891.1 1515,2891.9 1513,2893.4 1511,2891.3 1509,2893.1 1507,2895.2 1505,2892.9 1503,2889.9 1501,2894.5 1499,2893.5 1497,2889.5 1495,2892.9 1493,2891.5 1491,2892.1 1489,2891.9 1487,2892.2 1485,2890 1483,2888.7 1481,2887 1479,2885.2 1477,2886.6 1475,2885.5 1473,2886.8 1471,2887 1469,2886.5 1467,2889.6 1465,2888.5 1463,2889 1461,2889.3 1459,2891.3 1457,2892.5 1455,2891.8 1453,2891 1451,2889.9 1449,2890.3 1447,2890 1445,2890.1 1443,2890.7 1441,2892.3 1439,2892.7 1437,2891.2 1435,2891.5 1433,2892 1431,2892.9 1429,2888.6 1427,2888.1 1425,2888.5 1423,2888.7 1421,2891.7 1419,2889.8 1417,2893 1415,2890.1 1413,2893 1411,2889.9 1409,2889.8 1407,2890.3 1405,2892.5 1403,2890.9 1401,2890.9 1399,2891.1 1397,2890.8 1395,2890.7 1393,2891.1 1391,2891.3 1389,2891.7 1387,2893.2 1385,2893.9 1383,2892.9 1381,2892.6 1379,2896.3 1377,2893 1375,2892.5 1373,2890.7 1371,2889 1369,2890.3 1367,2890.4 1365,2894.7 1363,2894.7 1361,2889.3 1359,2889.8 1357,2888.9 1355,2892.6 1353,2893 1351,2890.3 1349,2891.4 1347,2892.2 1345,2889.5 1343,2887 1341,2887.4 1339,2888.9 1337,2889 1335,2891.3 1333,2888.9 1331,2891.3 1329,2889.8 1327,2890.1 1325,2890.5 1323,2892.9 1321,2891 1319,2890.8 1317,2891.4 1315,2890.2 1313,2892.3 1311,2893.5 1309,2895.7 1307,2896.9 1305,2891.1 1303,2896.7 1301,2892 1299,2892.3 1297,2890.4 1295,2890 1293,2891.3 1291,2894.1 1289,2891.7 1287,2888.7 1285,2889 1283,2890.7 1281,2891 1279,2890.2 1277,2891.8 1275,2889.4 1273,2889.6 1271,2891.6 1269,2890.8 1267,2890.4 1265,2890.9 1263,2890.3 1261,2888.7 1259,2888.1 1257,2888.5 1255,2888.9 1253,2890.3 1251,2887.7 1249,2888.7 1247,2890.8 1245,2889.3 1243,2893 1241,2889.5 1239,2890.2 1237,2888.3 1235,2892.7 1233,2889.7 1231,2890.9 1229,2889.4 1227,2891.2 1225,2890.5 1223,2890.1 1221,2889.7 1219,2892 1217,2892.9 1215,2893.6 1213,2893.5 1211,2892.2 1209,2891.6 1207,2893.4 1205,2892.7 1203,2894.4 1201,2893.7 1199,2890.8 1197,2891.9 1195,2891.5 1193,2892.5 1191,2891.2 1189,2893.6 1187,2891.8 1185,2892.4 1183,2894.7 1181,2894.6 1179,2892.2 1177,2891.3 1175,2889.5 1173,2889.8 1171,2888.6 1169,2886.1 1167,2886.8 1165,2886.8 1163,2886.9 1161,2887.9 1159,2889.4 1157,2888.9 1155,2891 1153,2890.7 1151,2890.4 1149,2892.7 1147,2890.4 1145,2888.8 1143,2890.9 1141,2891.8 1139,2891.3 1137,2889.3 1135,2890.6 1133,2889.2 1131,2890.5 1129,2889.7 1127,2892.9 1125,2892.2 1123,2890.8 1121,2892.3 1119,2890.2 1117,2889.9 1115,2890.1 1113,2896.4 1111,2894.1 1109,2890.9 1107,2891.2 1105,2893.3 1103,2891.4 1101,2891.9 1099,2892 1097,2893.6 1095,2894.4 1093,2892.8 1091,2897.1 1089,2892.6 1087,2894.1 1085,2896.1 1083,2896.9 1081,2889.6 1079,2891.5 1077,2890.4 1075,2890.6 1073,2889.4 1071,2889.7 1069,2887.8 1067,2888.9 1065,2888.6 1063,2891.4 1061,2888.7 1059,2890.7 1057,2888.4 1055,2892 1053,2891.5 1051,2892.3 1049,2892.8 1047,2890.7 1045,2891.9 1043,2893.1 1041,2890.6 1039,2888.8 1037,2891.3 1035,2890.1 1033,2889.2 1031,2890.7 1029,2891 1027,2892.4 1025,2893.5 1023,2894.4 1021,2892.6 1019,2893.6 1017,2896 1015,2894.7 1013,2892.9 1011,2892.5 1009,2891 1007,2894.5 1005,2892.2 1003,2892.8 1001,2891.5 999,2889.1 997,2888.1 995,2889.2 993,2890.5 991,2889.8 989,2890.6 987,2892.1 985,2889.6 983,2889.4 981,2892.7 979,2892.9 977,2893.3 975,2893.7 973,2891.9 971,2893.8 969,2896.3 967,2893.1 965,2891.1 963,2893 961,2890.9 959,2895.2 957,2892.3 955,2893.8 953,2892.4 951,2890.3 949,2892.7 947,2891.4 945,2889.2 943,2890.6 941,2889.9 939,2890.9 937,2890.7 935,2890.2 933,2889.2 931,2893.7 929,2893.9 927,2891.6 925,2892.8 923,2894.8 921,2890.7 919,2890.9 917,2889.2 915,2889.7 913,2888.8 911,2891.2 909,2890 907,2887.7 905,2890.9 903,2894.5 901,2891.9 899,2889.9 897,2891.6 895,2891.2 893,2891.3 891,2893.6 889,2895.5 887,2892.2 885,2893.4 883,2890.3 881,2887.4 879,2889.1 877,2886.2 875,2887.5 873,2888.8 871,2887.3 869,2885.7 867,2887.3 865,2887.8 863,2889.4 861,2888.3 859,2888.2 857,2888.4 855,2892.9 853,2895.2 851,2893.6 849,2892.8 847,2894.7 845,2894.1 843,2896.8 841,2896.9 839,2890.9 837,2891.9 835,2891.1 833,2890.8 831,2890.3 829,2888.1 827,2888.7 825,2888.1 823,2886.8 821,2888.4 819,2888 817,2890.5 815,2888.9 813,2892.3 811,2889.4 809,2891.6 807,2890.5 805,2892.6 803,2891.9 801,2893.7 799,2894.3 797,2893.6 795,2892 793,2893.3 791,2895.7 789,2890.5 787,2889.1 785,2889.4 783,2891.8 781,2890.4 779,2893.9 777,2896.5 775,2892.8 773,2893.8 771,2889.7 769,2891.1 767,2888.8 765,2887 763,2887.1 761,2893.2 759,2888 757,2891 755,2889.6 753,2891.3 751,2893.8 749,2893 747,2893.6 745,2892.4 743,2889.9 741,2892.8 739,2891.2 737,2890.3 735,2888.6 733,2888.6 731,2891.5 729,2890.6 727,2888.3 725,2890 723,2889.5 721,2888.6 719,2890.9 717,2891.5 715,2890.4 713,2891.6 711,2892.9 709,2891.8 707,2892.6 705,2894.9 703,2893.4 701,2895.6 699,2895.7 697,2894.2 695,2893.9 693,2892.4 691,2891.5 689,2889.7 687,2889.8 685,2888 683,2887.9 681,2885.6 679,2884.1 677,2882.6 675,2882.5 673,2881.6 671,2883.4 669,2882.7 667,2883.3 665,2876.4 663,2877.1 661,2880.7 659,2877.2 657,2877.2 655,2877.2 653,2876.4 651,2875.7 649,2878.9 647,2876.5 645,2875.5 643,2875 641,2873.8 639,2877.1 637,2875.2 635,2877.5 633,2883.1 631,2887 629,2882.3 627,2880.8 625,2882.8 623,2883.4 621,2884.9 619,2885.7 617,2886 615,2884.1 613,2885.6 611,2884 609,2885.5 607,2883.8Z" fill="#000000"/>
<line x1="600.4" y1="3091.1" x2="606.4" y2="2890.7" stroke="#000" stroke-width="6" stroke-linecap="round" stroke-dasharray="0.1,11.2"/>
<path d="M233,3106.4 235,3107.2 237,3106.2 239,3105.8 241,3106.1 243,3107 245,3106.2 247,3105.2 249,3105.3 251,3104.1 253,3103.7 255,3105 257,3104.9 259,3104.9 261,3104 263,3103.2 265,3102.5 267,3104 269,3103.6 271,3104 273,3103.6 275,3105.2 277,3104.5 279,3106 281,3106.1 283,3106.1 285,3105.8 287,3106.2 289,3105.7 291,3105.7 293,3104.1 295,3105.7 297,3105.9 299,3106 301,3106.3 303,3105.1 305,3105.2 307,3104.9 309,3103.7 311,3103.5 313,3103.4 315,3103.1 317,3103.3 319,3102.9 321,3103.3 323,3103.7 325,3105.3 327,3104.4 329,3105.4 331,3104.8 333,3105 335,3104.2 337,3104.5 339,3105.3 341,3104.4 343,3102.4 345,3104.7 347,3105.2 349,3104 351,3105.3 353,3104.8 355,3105.6 357,3104.5 359,3105 361,3104.8 363,3103.1 365,3102.9 367,3101.9 369,3100.8 371,3101.8 373,3103.6 375,3103.4 377,3102.9 379,3103.5 381,3103.2 383,3101.9 385,3102.3 387,3103.6 389,3105 391,3105.8 393,3105.8 395,3104 397,3104.3 399,3104.3 401,3103.4 403,3102.5 405,3104.3 407,3104.3 409,3105 411,3105.1 413,3105.2 415,3105.1 417,3105.4 419,3103.4 421,3103 423,3104.4 425,3104.1 427,3103 429,3104.2 431,3104.2 433,3105.1 435,3104.9 437,3104.4 439,3104.4 441,3104.9 443,3104.1 445,3104.8 447,3106.3 449,3106.7 451,3104.6 453,3103.6 455,3104.3 457,3104.2 459,3102.8 461,3103.2 463,3104.4 465,3105.3 467,3104.4 469,3105 471,3105.7 473,3104.7 475,3105 477,3105.5 479,3105.7 481,3103.6 483,3104.9 485,3104.3 487,3104.1 489,3104.8 491,3104.7 493,3104.5 495,3105.1 497,3105.3 499,3105.3 501,3105.7 503,3105.4 505,3105.4 507,3104 509,3104.1 511,3104 513,3103.6 515,3104 517,3104.2 519,3103.4 521,3103.3 523,3104.4 525,3104 527,3104.5 529,3104.6 531,3103.6 533,3102.8 535,3103.3 537,3102.6 539,3103.9 541,3104.1 543,3104.1 545,3105.2 547,3104.9 549,3103.9 551,3104.6 553,3104.7 555,3104.4 557,3104.2 559,3103.6 561,3104.6 563,3104 565,3103.7 567,3103.3 569,3101.8 571,3103.6 573,3102.9 575,3103.1 577,3105.4 579,3104.3 581,3103.8 583,3104 585,3103.1 587,3101.2 589,3104.7 591,3104.5 593,3106 595,3106.7 597,3105.9 599,3104.6 601,3106.5 603,3105 L603,3111.2 601,3113.6 599,3111.5 597,3114 595,3113.6 593,3111.9 591,3110.6 589,3111.1 587,3108.9 585,3110.1 583,3109.9 581,3110.7 579,3110 577,3111.3 575,3109.4 573,3109.6 571,3109.3 569,3108.4 567,3109.7 565,3109.6 563,3110.9 561,3110.7 559,3111.9 557,3110.2 555,3110.5 553,3110.7 551,3111 549,3109.9 547,3111 545,3110.7 543,3110 541,3109.8 539,3110.3 537,3109.9 535,3108.6 533,3110.3 531,3111.3 529,3111 527,3110.9 525,3110.6 523,3111 521,3110.3 519,3111.1 517,3110.3 515,3110.9 513,3109.8 511,3110.2 509,3110 507,3111 505,3111.7 503,3112.5 501,3112.2 499,3112.4 497,3111.6 495,3111.1 493,3110.1 491,3111.1 489,3110.6 487,3110.7 485,3111 483,3111.5 481,3111.4 479,3112.6 477,3111.7 475,3111.5 473,3112.7 471,3111.7 469,3111.6 467,3111.7 465,3112.4 463,3111.3 461,3112 459,3110.7 457,3110.2 455,3112.5 453,3112.4 451,3111.1 449,3112.6 447,3112.6 445,3112.6 443,3111.9 441,3112.7 439,3111.8 437,3110.8 435,3110.6 433,3111.5 431,3112 429,3111.4 427,3110.1 425,3110.6 423,3110.3 421,3110.2 419,3110.8 417,3112.7 415,3113.1 413,3113.8 411,3111.7 409,3113.1 407,3111.2 405,3110.9 403,3110 401,3109.7 399,3110.2 397,3110.8 395,3110.5 393,3113.9 391,3112.5 389,3110.8 387,3111 385,3108.9 383,3107.7 381,3108.5 379,3109.5 377,3109.3 375,3110.4 373,3110.2 371,3109.7 369,3108.6 367,3108.4 365,3109.4 363,3110.1 361,3111.6 359,3111.8 357,3111.6 355,3111.5 353,3113 351,3112.8 349,3111.3 347,3110.8 345,3110.6 343,3110 341,3111 339,3110.9 337,3110.7 335,3110.4 333,3112.1 331,3110.9 329,3111.3 327,3112.5 325,3111.7 323,3110.3 321,3110.6 319,3109.4 317,3109.5 315,3109.4 313,3109.9 311,3109.2 309,3109.6 307,3110.9 305,3111.8 303,3112.5 301,3112.4 299,3113.1 297,3112.7 295,3112.1 293,3111.9 291,3112.1 289,3111.4 287,3111.8 285,3111.7 283,3113 281,3112.7 279,3111.6 277,3110.7 275,3111.2 273,3110.6 271,3109.7 269,3110.1 267,3111.9 265,3110.4 263,3110.4 261,3111.4 259,3110.7 257,3110.5 255,3111.1 253,3111.1 251,3111.3 249,3111.1 247,3112.4 245,3114.2 243,3113.9 241,3112.4 239,3111.5 237,3113.2 235,3113.4 233,3112.6Z" fill="#00ffff"/>
<path d="M233,3106.2 235,3106.9 237,3106.4 239,3105.8 241,3105.8 243,3106.7 245,3105.8 247,3105.2 249,3105 251,3105.2 253,3104.3 255,3105 257,3104.9 259,3105.1 261,3104.4 263,3104.1 265,3103.2 267,3104.1 269,3103.7 271,3103.7 273,3104.4 275,3105.2 277,3105 279,3105.8 281,3106.3 283,3106.3 285,3105.8 287,3106.1 289,3105.4 291,3105.9 293,3105.6 295,3106.3 297,3106.5 299,3106.8 301,3106.2 303,3105.6 305,3105 307,3104.6 309,3103.9 311,3103.3 313,3103.4 315,3103.2 317,3103.4 319,3103.1 321,3104 323,3104.3 325,3105 327,3105.2 329,3105.2 331,3104.8 333,3105.7 335,3104.7 337,3104.2 339,3105.2 341,3104.8 343,3103.8 345,3104.7 347,3105.2 349,3105.1 351,3105.5 353,3105.8 355,3105.6 357,3105.3 359,3105.4 361,3104.9 363,3103.9 365,3103 367,3102.6 369,3102.5 371,3103.1 373,3103.9 375,3104.2 377,3103.6 379,3103.7 381,3102.9 383,3101.9 385,3103.2 387,3104.6 389,3104.7 391,3105.5 393,3106.7 395,3104.9 397,3104.7 399,3104.2 401,3104 403,3103.7 405,3104.9 407,3104.5 409,3105.1 411,3105.5 413,3105.9 415,3106.1 417,3105.9 419,3104.7 421,3104.4 423,3104.2 425,3104.2 427,3104 429,3104.7 431,3104.7 433,3104.7 435,3104.7 437,3104.7 439,3104.7 441,3105.6 443,3105.3 445,3105.4 447,3106.5 449,3106.4 451,3105 453,3105.1 455,3104.8 457,3103.8 459,3104 461,3105.4 463,3105.2 465,3106 467,3105.9 469,3105.8 471,3105.6 473,3105.9 475,3105.2 477,3105.6 479,3105.8 481,3104.7 483,3104.9 485,3104.3 487,3105 489,3104.6 491,3104.5 493,3104.4 495,3105.1 497,3105 499,3105.4 501,3105.5 503,3106 505,3105.2 507,3104.7 509,3104.3 511,3104.2 513,3103.9 515,3104.6 517,3104.2 519,3104.7 521,3104.4 523,3104.7 525,3104.8 527,3105.2 529,3104.7 531,3104.8 533,3104 535,3102.9 537,3102.9 539,3103.6 541,3104 543,3104 545,3104.9 547,3105.2 549,3104.3 551,3104.4 553,3104.3 555,3104.9 557,3104.4 559,3104.8 561,3104.3 563,3104.3 565,3103.6 567,3103 569,3102.4 571,3103.3 573,3103.8 575,3103.2 577,3105.1 579,3104.4 581,3104 583,3103.9 585,3103.6 587,3102.5 589,3105.4 591,3104.8 593,3105.8 595,3106.4 597,3106.6 599,3105.3 601,3106.2 603,3104.9" fill="none" stroke="#0000ff" stroke-width="2.6" stroke-linejoin="round" stroke-linecap="butt" stroke-dasharray="12,6"/>
<path d="M605.4,3087.4 607.4,3085.3 609.4,3083.6 611.4,3083.5 613.4,3083.2 615.4,3081.8 617.4,3080.1 619.4,3077.6 621.4,3077.5 623.4,3069.7 625.4,3075.3 627.4,3079.5 629.4,3075.1 631.4,3076.9 633.4,3083.6 635.4,3083.4 637.4,3080.9 639.4,3081.9 641.4,3081.8 643.4,3073.7 645.4,3082.9 647.4,3082.7 649.4,3081.4 651.4,3079.2 653.4,3073.9 655.4,3082.7 657.4,3080 659.4,3084.5 661.4,3081.7 663.4,3082.5 665.4,3088.5 667.4,3092.1 669.4,3094.5 671.4,3093.1 673.4,3095.5 675.4,3095.2 677.4,3097.3 679.4,3092.4 681.4,3094.8 683.4,3092.8 685.4,3089.7 687.4,3093.1 689.4,3091.2 691.4,3085.3 693.4,3091.3 695.4,3086.8 697.4,3088.9 699.4,3086 701.4,3086.5 703.4,3084.2 705.4,3084.1 707.4,3086.5 709.4,3087.1 711.4,3090.8 713.4,3087.7 715.4,3090.2 717.4,3090.6 719.4,3085.2 721.4,3082.2 723.4,3088.6 725.4,3090.1 727.4,3083.8 L727.4,3113.5 725.4,3119.9 723.4,3118.1 721.4,3113.1 719.4,3116.4 717.4,3115.9 715.4,3114.8 713.4,3119.6 711.4,3117.6 709.4,3115.2 707.4,3112.5 705.4,3108.9 703.4,3110.7 701.4,3111 699.4,3109.8 697.4,3115.7 695.4,3116.1 693.4,3116.4 691.4,3115.8 689.4,3117.1 687.4,3117.4 685.4,3121.9 683.4,3120.9 681.4,3120 679.4,3120.6 677.4,3131.3 675.4,3130.2 673.4,3118.7 671.4,3123 669.4,3119.7 667.4,3114.9 665.4,3114 663.4,3110.6 661.4,3113.8 659.4,3111.1 657.4,3112.7 655.4,3114.5 653.4,3105.4 651.4,3108.4 649.4,3104.8 647.4,3107.9 645.4,3112.3 643.4,3114.3 641.4,3115.8 639.4,3110.5 637.4,3107.1 635.4,3109.6 633.4,3111.4 631.4,3104.1 629.4,3107.2 627.4,3107.6 625.4,3103.4 623.4,3102.8 621.4,3102 619.4,3103.3 617.4,3103.3 615.4,3111.6 613.4,3110.7 611.4,3112 609.4,3111.4 607.4,3113.3 605.4,3115.4Z" fill="#00ffff"/>
<path d="M727,3094.1 729,3088.1 731,3087.4 733,3089.2 735,3093.7 737,3095.9 739,3098.1 741,3106.7 743,3100.5 745,3098.4 747,3092.2 749,3089.6 751,3085.8 753,3084 755,3084 757,3091.6 759,3084.9 761,3094.2 763,3089.9 765,3086 767,3085.9 769,3088.7 771,3091 773,3093.5 775,3091.3 777,3086.5 779,3087 781,3084.2 783,3093.1 785,3092 787,3089.7 789,3100.7 791,3105.2 793,3101.7 795,3100.3 797,3105 799,3109.2 801,3102.7 803,3097.7 805,3096.6 807,3091.5 809,3099.7 811,3099.2 813,3097.9 815,3097.7 817,3098 819,3093.8 821,3097 823,3105.3 825,3099 827,3092.3 829,3095.9 831,3102 833,3091.2 835,3094.1 837,3090.4 839,3090.6 841,3089.2 843,3088.8 845,3094.5 847,3093.8 849,3095.9 851,3091.1 853,3098.1 855,3098.4 857,3096.2 859,3098.8 861,3095.9 863,3095.4 865,3099.8 867,3093.2 869,3084.6 871,3081 873,3089.8 875,3081.8 877,3087.1 879,3094.1 881,3097.6 883,3096.8 885,3101.8 887,3091.7 889,3089.2 891,3093.1 893,3080.6 895,3088.2 897,3100.5 899,3099.1 901,3093.5 903,3090.6 905,3087 907,3088.6 909,3098.8 911,3099.5 913,3099.1 915,3101.6 917,3098.4 919,3092.8 921,3094.2 923,3090.6 925,3089.5 927,3092.6 929,3091.5 931,3086.3 933,3089.1 935,3088.8 937,3093.2 939,3090.9 941,3095.4 943,3094.4 945,3103 947,3095.6 949,3084.6 951,3083.4 953,3079 955,3064.2 957,3067.8 959,3066.4 961,3088 963,3095.7 965,3102.1 967,3103.2 969,3103.1 971,3105 973,3096.9 975,3082.7 977,3094 979,3103 981,3098.7 983,3097 985,3099.2 987,3105.4 989,3095.8 991,3090.2 993,3101.8 995,3100.3 997,3092.5 999,3083.6 1001,3088.3 1003,3084.1 1005,3094 1007,3091.9 1009,3086.8 1011,3090.9 1013,3092.3 1015,3089.6 1017,3088.4 1019,3101.6 1021,3091.4 1023,3091 1025,3091.8 1027,3089 1029,3091.2 1031,3104.2 1033,3107.1 1035,3102.8 1037,3102.3 1039,3101.7 1041,3098 1043,3084.6 1045,3087.3 1047,3086.9 1049,3091.4 1051,3089.6 1053,3087.8 1055,3092.8 1057,3094.9 1059,3095.9 1061,3088.2 1063,3090 1065,3091.5 1067,3091.8 1069,3096 1071,3093.5 1073,3096.3 1075,3097.3 1077,3093 1079,3088.4 1081,3093 1083,3097.6 1085,3090 1087,3092.4 1089,3095 1091,3094.3 1093,3095.5 1095,3097.8 1097,3096.4 1099,3099.4 1101,3099.8 1103,3094.3 1105,3089.6 1107,3081.3 1109,3086.9 1111,3085.7 1113,3082 1115,3083.8 1117,3077.1 1119,3086 1121,3078.8 1123,3084.4 1125,3091.7 1127,3095.5 1129,3091.2 1131,3088.9 1133,3085.5 1135,3087.2 1137,3088 1139,3091.3 1141,3085.8 1143,3091.6 1145,3101.2 1147,3091.7 1149,3091.5 1151,3100 1153,3100.6 1155,3100.5 1157,3106.3 1159,3102.6 1161,3102.5 1163,3104.8 1165,3102.2 1167,3097.9 1169,3099.3 1171,3100.3 1173,3101 1175,3102.9 1177,3104.9 1179,3099.5 1181,3098.1 1183,3094.4 1185,3090.2 1187,3088.1 1189,3091.5 1191,3092 1193,3090.6 1195,3096.9 1197,3097.1 1199,3098.4 1201,3101.3 1203,3102.2 1205,3095.7 1207,3088.2 1209,3090.9 1211,3090.4 1213,3092.6 1215,3086.2 1217,3093.9 1219,3098.5 1221,3096.9 1223,3092.8 1225,3096.4 1227,3099.9 1229,3097.3 1231,3098.7 1233,3101.1 1235,3102.9 1237,3095.2 1239,3084.6 1241,3073.8 1243,3090.4 1245,3086.9 1247,3087.9 1249,3084.7 1251,3082.7 1253,3094.5 1255,3104.5 1257,3098.7 1259,3099.3 1261,3096.6 1263,3104 1265,3096.5 1267,3097 1269,3096.5 1271,3097.4 1273,3094.1 1275,3094.2 1277,3097.2 1279,3103.5 1281,3099.5 1283,3098.4 1285,3095.5 1287,3096.2 1289,3095.3 1291,3092.6 1293,3095.6 1295,3096.4 1297,3091.7 1299,3093.8 1301,3102.1 1303,3095 1305,3095.1 1307,3089.1 1309,3080.3 1311,3078.9 1313,3091.4 1315,3100.1 1317,3105.9 1319,3099.5 1321,3100 1323,3095.4 1325,3083.1 1327,3085 1329,3087.9 1331,3087.8 1333,3094.4 1335,3103.9 1337,3100.7 1339,3092.5 1341,3093.4 1343,3099.9 1345,3099.8 1347,3094.5 1349,3090 1351,3084.3 1353,3095.5 1355,3095.1 1357,3092.1 1359,3098.5 1361,3099.9 1363,3096.7 1365,3100.1 1367,3096.7 1369,3102.7 1371,3105.8 1373,3102.6 1375,3100.2 1377,3107.5 1379,3102 1381,3100.7 1383,3100.9 1385,3103.8 1387,3104 1389,3103.9 1391,3102.6 1393,3104.6 1395,3094.3 1397,3092.5 1399,3093.3 1401,3094 1403,3089.3 1405,3084.4 1407,3095.8 1409,3100.5 1411,3095.4 1413,3101.6 1415,3098.8 1417,3092.3 1419,3090.9 1421,3094 1423,3088 1425,3091.5 1427,3091.9 1429,3093.4 1431,3095.7 1433,3093.7 1435,3086.1 1437,3086.1 1439,3089.5 1441,3091.3 1443,3089.1 1445,3091.7 1447,3087.4 1449,3085.8 1451,3083.6 1453,3082 1455,3084.1 1457,3091.1 1459,3089.3 1461,3090.9 1463,3097.3 1465,3108 1467,3103.3 1469,3103.6 1471,3097.4 1473,3094 1475,3090.2 1477,3092.7 1479,3090.7 1481,3091.3 1483,3085.2 1485,3081.2 1487,3088.3 1489,3084 1491,3080.3 1493,3094.7 1495,3096.1 1497,3096.9 1499,3105.2 1501,3098.6 1503,3094.1 1505,3089.7 1507,3099.8 1509,3089.1 1511,3091.7 1513,3087.9 1515,3096.5 1517,3097.1 1519,3097.8 1521,3104.7 1523,3098.1 1525,3090.6 1527,3089.8 1529,3083.7 1531,3082.6 1533,3081.2 1535,3083.3 1537,3084.4 1539,3080.1 1541,3085 1543,3092 1545,3094.3 1547,3102.6 1549,3104.4 1551,3103.5 1553,3097.9 1555,3092.9 1557,3090.2 1559,3091.6 1561,3079.3 1563,3077.7 1565,3086.5 1567,3087.7 1569,3096 1571,3095.1 1573,3093.8 1575,3093.1 1577,3093.9 1579,3096.4 1581,3095.6 1583,3092.8 1585,3082.5 1587,3086 1589,3077.3 1591,3079.8 1593,3079.7 1595,3081.4 1597,3074.6 1599,3081.5 1601,3092.1 1603,3102.3 1605,3106.8 1607,3105.1 1609,3096.8 1611,3098.3 1613,3098 1615,3097.7 1617,3089.3 1619,3090 1621,3090.8 1623,3093.5 1625,3086.5 1627,3093.2 1629,3096.7 1631,3096.6 1633,3086.1 1635,3088.7 1637,3095.1 1639,3100.9 1641,3090.1 1643,3090.3 1645,3098 1647,3095 1649,3096.2 1651,3098.9 1653,3093.7 1655,3097.9 1657,3102.6 1659,3099.2 1661,3102.5 1663,3104.8 1665,3092.9 1667,3087.1 1669,3095.8 1671,3093.7 1673,3083.5 1675,3088.7 1677,3095.9 1679,3092.4 1681,3089.7 1683,3090.1 1685,3091.8 1687,3090.6 1689,3100.8 1691,3096.5 1693,3095.6 1695,3098.8 1697,3097.5 1699,3095.3 1701,3100.4 1703,3097.6 1705,3090.3 1707,3096.1 1709,3100.5 1711,3094.6 1713,3097.6 1715,3099.7 1717,3096.8 1719,3091.2 1721,3093.5 1723,3086.7 1725,3091.1 1727,3099.9 1729,3096.1 1731,3090.2 1733,3098.4 1735,3093.1 1737,3081.9 1739,3083.9 1741,3084.3 1743,3085.5 1745,3080.6 1747,3098.9 1749,3094.3 1751,3096.2 1753,3095.1 1755,3097.2 1757,3089.3 1759,3095.2 1761,3093.5 1763,3094.4 1765,3094.1 1767,3090.3 1769,3091.2 1771,3088.8 1773,3092.7 1775,3086 1777,3085.9 1779,3094.9 1781,3089.6 1783,3092.3 1785,3092.2 1787,3090.2 1789,3091 1791,3091.6 1793,3093.8 1795,3093.9 1797,3097.6 1799,3096.2 1801,3098.9 1803,3095.4 1805,3092.1 1807,3097.9 1809,3096.2 1811,3092.6 1813,3097.5 1815,3102 1817,3094.6 1819,3096.7 1821,3086.2 1823,3084.4 1825,3078.7 1827,3087.3 1829,3097.3 1831,3090 1833,3095.3 1835,3100.1 1837,3100.8 1839,3102.9 1841,3096.6 1843,3099.2 1845,3096.6 1847,3089.8 1849,3086.7 1851,3087.3 1853,3088.4 1855,3084.9 1857,3084.3 1859,3087.7 1861,3096.9 1863,3096.8 1865,3103.7 1867,3107.8 1869,3099.4 1871,3089.8 1873,3084.4 1875,3085.7 1877,3085.1 1879,3088.3 1881,3090.3 1883,3098.4 1885,3096.1 1887,3091.6 1889,3085.1 1891,3083.9 1893,3087 1895,3086.3 1897,3090.5 1899,3092.2 1901,3090.3 1903,3092.3 1905,3089.8 1907,3087.6 1909,3089.5 1911,3076.4 1913,3089.8 1915,3096.8 1917,3098.4 1919,3095.6 1921,3099.2 1923,3099.2 1925,3097.3 1927,3089.6 1929,3074.2 1931,3102.2 1933,3097.5 1935,3099.8 1937,3099.9 1939,3101.2 1941,3101.3 1943,3097.9 1945,3093.4 1947,3092.8 1949,3093.5 1951,3091.6 1953,3090.6 1955,3095.8 1957,3095.1 1959,3095.7 1961,3097.2 1963,3097.7 1965,3085.6 1967,3096.8 1969,3099.1 1971,3097.4 1973,3095.9 1975,3097.7 1977,3105.7 1979,3110 1981,3109.6 1983,3114.5 1985,3113.5 1987,3107.8 1989,3107.2 1991,3106.1 1993,3092.2 1995,3096.1 1997,3104.8 1999,3096.6 2001,3091.3 2003,3090.2 2005,3092 2007,3086.2 2009,3090.6 2011,3093.1 2013,3095 2015,3098.1 2017,3093.3 2019,3093.7 2021,3095.3 2023,3096.4 2025,3092.8 2027,3092.6 2029,3092 2031,3096.3 2033,3096.6 2035,3095.6 2037,3106.4 2039,3106.1 2041,3098.6 2043,3100.4 2045,3104.7 2047,3103.2 2049,3102.3 2051,3099.4 2053,3091.1 2055,3091.8 2057,3088.5 2059,3095 2061,3085.7 2063,3089.4 L2063,3100.8 2061,3099.6 2059,3104.4 2057,3102 2055,3102.1 2053,3104.7 2051,3108.9 2049,3115.8 2047,3114.1 2045,3120.4 2043,3115.5 2041,3114 2039,3118.9 2037,3116.7 2035,3105.5 2033,3105.8 2031,3105.6 2029,3100.6 2027,3103.9 2025,3104.3 2023,3107 2021,3104.8 2019,3105 2017,3109.8 2015,3106.7 2013,3107.1 2011,3109.8 2009,3101.3 2007,3098.4 2005,3102.8 2003,3104.9 2001,3107.6 1999,3112.2 1997,3114.5 1995,3110.9 1993,3108.7 1991,3119.4 1989,3117.5 1987,3118.6 1985,3123.7 1983,3124.4 1981,3124.3 1979,3125.7 1977,3117.9 1975,3108.6 1973,3106.7 1971,3107 1969,3112 1967,3107.1 1965,3095.4 1963,3108.1 1961,3108.3 1959,3109 1957,3107.7 1955,3109.4 1953,3108 1951,3103.5 1949,3105.6 1947,3106.8 1945,3101.1 1943,3113.3 1941,3111.4 1939,3115.7 1937,3108.5 1935,3111.5 1933,3106.3 1931,3111.9 1929,3088.1 1927,3102.4 1925,3109 1923,3108.3 1921,3109.8 1919,3107.1 1917,3106.8 1915,3106.1 1913,3103.4 1911,3092.1 1909,3102.9 1907,3105.4 1905,3105.6 1903,3102.7 1901,3102.3 1899,3107.2 1897,3104.7 1895,3098.2 1893,3095.6 1891,3093.2 1889,3094.7 1887,3104.7 1885,3106.5 1883,3108.4 1881,3101.7 1879,3097.2 1877,3098.4 1875,3100.1 1873,3098.9 1871,3103.3 1869,3112.8 1867,3121.6 1865,3113.6 1863,3106.7 1861,3106.2 1859,3101 1857,3094.8 1855,3097.3 1853,3099.2 1851,3099.6 1849,3098.4 1847,3100.6 1845,3110 1843,3109.1 1841,3108.8 1839,3116.2 1837,3110 1835,3109.6 1833,3111.4 1831,3107.1 1829,3107.2 1827,3096.2 1825,3087.3 1823,3095.3 1821,3097.7 1819,3107.9 1817,3105.9 1815,3115.7 1813,3111.2 1811,3105.7 1809,3107 1807,3107.8 1805,3106 1803,3109.3 1801,3110.7 1799,3106.2 1797,3107.1 1795,3106.4 1793,3106.6 1791,3102.9 1789,3103.4 1787,3104.4 1785,3104.2 1783,3102.7 1781,3103.3 1779,3104.5 1777,3096.2 1775,3098.2 1773,3105 1771,3102.6 1769,3101.4 1767,3099.7 1765,3107.4 1763,3106.9 1761,3102 1759,3109 1757,3099.8 1755,3109.4 1753,3104.4 1751,3110.6 1749,3108.2 1747,3107.3 1745,3090.8 1743,3098 1741,3102.8 1739,3104 1737,3094 1735,3101.9 1733,3107.7 1731,3100.7 1729,3107.2 1727,3112.4 1725,3103.7 1723,3100.2 1721,3103.5 1719,3104.2 1717,3107.6 1715,3109 1713,3110.6 1711,3104.7 1709,3110.2 1707,3107.7 1705,3106.5 1703,3109 1701,3111.9 1699,3103.7 1697,3107.8 1695,3113.7 1693,3108.1 1691,3107.2 1689,3109.4 1687,3103.1 1685,3104.8 1683,3099.7 1681,3104.3 1679,3106.9 1677,3106.9 1675,3098.3 1673,3093.3 1671,3104.5 1669,3107.6 1667,3099.4 1665,3102.5 1663,3114 1661,3113.2 1659,3110 1657,3112.3 1655,3107.2 1653,3103.8 1651,3108.4 1649,3107.4 1647,3106.6 1645,3108.8 1643,3099.2 1641,3103.6 1639,3111.7 1637,3105.4 1635,3097.2 1633,3099.6 1631,3109.5 1629,3106.7 1627,3101.7 1625,3097.6 1623,3103.2 1621,3104.6 1619,3098.5 1617,3100.7 1615,3110.6 1613,3107.7 1611,3107.9 1609,3106.4 1607,3117.4 1605,3119.1 1603,3113.2 1601,3102.1 1599,3090.2 1597,3085.8 1595,3090.6 1593,3087.8 1591,3093 1589,3092.2 1587,3095.4 1585,3094.3 1583,3105.2 1581,3107.8 1579,3105.7 1577,3105.9 1575,3106.5 1573,3108 1571,3104.8 1569,3109.4 1567,3100.1 1565,3096.8 1563,3087.6 1561,3088.6 1559,3101.5 1557,3102.7 1555,3105.6 1553,3108.5 1551,3114.5 1549,3113.5 1547,3112.2 1545,3104.3 1543,3103.3 1541,3096.4 1539,3093.1 1537,3097 1535,3093.1 1533,3091.6 1531,3094.6 1529,3099.4 1527,3101.6 1525,3100.2 1523,3109 1521,3113.2 1519,3110.8 1517,3106.6 1515,3106.1 1513,3101.2 1511,3103.9 1509,3097.7 1507,3109.6 1505,3100.9 1503,3110.4 1501,3107.4 1499,3114.7 1497,3107 1495,3107.2 1493,3102.8 1491,3091.2 1489,3093.5 1487,3097.7 1485,3091.1 1483,3094.1 1481,3104.8 1479,3100.5 1477,3106 1475,3104.7 1473,3107.7 1471,3108.5 1469,3113.8 1467,3118.4 1465,3122.8 1463,3108.9 1461,3101.4 1459,3098.2 1457,3101.4 1455,3093 1453,3090.5 1451,3093.8 1449,3096.4 1447,3099.3 1445,3107 1443,3098.9 1441,3102.9 1439,3100.9 1437,3097 1435,3097.5 1433,3104.4 1431,3105.2 1429,3108 1427,3103.8 1425,3104.1 1423,3101.6 1421,3104 1419,3102.4 1417,3104.2 1415,3111.7 1413,3115.5 1411,3107.9 1409,3111.4 1407,3109.8 1405,3099.2 1403,3102 1401,3103.2 1399,3103.9 1397,3105.1 1395,3110.4 1393,3119.9 1391,3115.1 1389,3112.9 1387,3114.4 1385,3115.8 1383,3113.2 1381,3110.4 1379,3110.2 1377,3118.3 1375,3110.9 1373,3112.7 1371,3117.9 1369,3118.8 1367,3108.8 1365,3112.9 1363,3105 1361,3111.9 1359,3106.4 1357,3105.4 1355,3107.9 1353,3108.7 1351,3101.4 1349,3103.3 1347,3105.2 1345,3110.3 1343,3109.5 1341,3103.3 1339,3105.8 1337,3114.4 1335,3114.6 1333,3104.9 1331,3100.1 1329,3097 1327,3098.1 1325,3099.8 1323,3107.7 1321,3111.6 1319,3114.2 1317,3116.7 1315,3110.6 1313,3102.6 1311,3090.6 1309,3090.4 1307,3099.7 1305,3103.7 1303,3109.3 1301,3112.2 1299,3111.1 1297,3109.4 1295,3109.5 1293,3108.1 1291,3105.4 1289,3108 1287,3109.4 1285,3108.4 1283,3107.9 1281,3115.1 1279,3117.4 1277,3106.7 1275,3104.1 1273,3104.7 1271,3110.1 1269,3110.7 1267,3109.3 1265,3105.3 1263,3115.1 1261,3109.6 1259,3107.5 1257,3107.5 1255,3114.1 1253,3106.6 1251,3097.2 1249,3093.8 1247,3098.9 1245,3103.1 1243,3100 1241,3088 1239,3094.8 1237,3106.2 1235,3111.5 1233,3110 1231,3110.9 1229,3112.4 1227,3111.7 1225,3104.6 1223,3102.9 1221,3106.6 1219,3109.8 1217,3102.6 1215,3099.3 1213,3101.6 1211,3102.2 1209,3099.4 1207,3104.7 1205,3111.8 1203,3113.9 1201,3111.4 1199,3112.8 1197,3111.2 1195,3106.2 1193,3101.5 1191,3101.5 1189,3106.1 1187,3099.8 1185,3105.1 1183,3104.4 1181,3108.3 1179,3110.8 1177,3113.4 1175,3113.7 1173,3113.2 1171,3111.4 1169,3115.2 1167,3110 1165,3111.4 1163,3113.7 1161,3114.9 1159,3116.7 1157,3115.6 1155,3110.8 1153,3116.1 1151,3113.5 1149,3102.8 1147,3104.5 1145,3111.6 1143,3103.9 1141,3097.4 1139,3099.9 1137,3101 1135,3100.7 1133,3098.7 1131,3101.4 1129,3102.5 1127,3109.9 1125,3103.1 1123,3096.1 1121,3092.3 1119,3095.8 1117,3087.9 1115,3093.1 1113,3093.5 1111,3098.3 1109,3104.7 1107,3101 1105,3101.8 1103,3104.8 1101,3110.8 1099,3113.5 1097,3105.5 1095,3107 1093,3105.8 1091,3106.1 1089,3104.1 1087,3102.6 1085,3100.6 1083,3106.6 1081,3102.3 1079,3101.1 1077,3104.2 1075,3108.5 1073,3107.9 1071,3107 1069,3108.2 1067,3107.5 1065,3102.4 1063,3102 1061,3098.5 1059,3105.9 1057,3107.9 1055,3103.6 1053,3098.5 1051,3101.5 1049,3103.4 1047,3100.1 1045,3098.1 1043,3096.3 1041,3111.1 1039,3114 1037,3112.9 1035,3113.6 1033,3117.2 1031,3112.8 1029,3104.4 1027,3102.8 1025,3107.6 1023,3102.8 1021,3100.9 1019,3117.4 1017,3106.4 1015,3099 1013,3102.5 1011,3103.5 1009,3099.1 1007,3103.7 1005,3103.4 1003,3097.4 1001,3102.3 999,3100.9 997,3105.7 995,3113.8 993,3110.3 991,3100.9 989,3108.2 987,3116.2 985,3111.2 983,3112.8 981,3118 979,3114.8 977,3106.1 975,3096.7 973,3109.7 971,3114.7 969,3111.5 967,3115.9 965,3115 963,3104.6 961,3097.2 959,3079.6 957,3078.1 955,3072.8 953,3091.1 951,3096.2 949,3099 947,3110.1 945,3114.8 943,3109.2 941,3104.8 939,3104.2 937,3101.7 935,3098.8 933,3100 931,3100 929,3101.6 927,3103.8 925,3099.1 923,3104.3 921,3103 919,3104.2 917,3112.3 915,3110.7 913,3110.7 911,3114.2 909,3109 907,3099.6 905,3100.6 903,3104.4 901,3106.3 899,3110.9 897,3111.9 895,3098.9 893,3094.1 891,3107.2 889,3106.2 887,3103.9 885,3111.9 883,3108.4 881,3109.2 879,3106.2 877,3102.7 875,3095.6 873,3102.4 871,3091.6 869,3093.8 867,3102.6 865,3109.9 863,3106.4 861,3105.4 859,3109.2 857,3107.7 855,3111.5 853,3113.1 851,3107.7 849,3106.3 847,3103.5 845,3104.3 843,3098.1 841,3101.7 839,3107.4 837,3108.1 835,3104.1 833,3105.7 831,3113.7 829,3104.3 827,3106.3 825,3109.4 823,3119.2 821,3109.4 819,3106.3 817,3112.3 815,3108.4 813,3106.5 811,3111.2 809,3112.2 807,3105 805,3108.2 803,3108 801,3111.5 799,3120.3 797,3114.3 795,3109.3 793,3115.7 791,3122.7 789,3116.4 787,3104.1 785,3108.4 783,3103.9 781,3097.4 779,3095.9 777,3100.3 775,3104 773,3105.2 771,3101.9 769,3098.3 767,3094.5 765,3100.4 763,3101.4 761,3105.2 759,3098.3 757,3100.6 755,3096.4 753,3099.1 751,3100.4 749,3101.1 747,3103.2 745,3108.9 743,3112.6 741,3117.4 739,3110.6 737,3105.8 735,3103.7 733,3097.5 731,3098.6 729,3100.3 727,3106.3Z" fill="#00ffff"/>
</g>
<rect x="595.5" y="2508.3" width="1445" height="294" fill="#fff" stroke="#111" stroke-width="2.4"/>
<line x1="615.6" y1="2554.2" x2="799" y2="2554.2" stroke="#ff00ff" stroke-width="5.9" stroke-linecap="round"/>
<text transform="translate(826,2582)" font-size="52.3" font-family="Liberation Serif, serif" font-weight="bold">Active power (SC)</text>
<line x1="1300.4" y1="2554.2" x2="1484" y2="2554.2" stroke="#ff0000" stroke-width="5.9" stroke-linecap="round" stroke-dasharray="23.5,31.7"/>
<text transform="translate(1497,2582) scale(1.006,1)" font-size="52.3" font-family="Liberation Serif, serif" font-weight="bold">Active power (NGG)</text>
<line x1="615.2" y1="2655.4" x2="799" y2="2655.4" stroke="#00ff00" stroke-width="5.9" stroke-linecap="round" stroke-dasharray="9.6,15.5"/>
<text transform="translate(826,2682.6)" font-size="52.3" font-family="Liberation Serif, serif" font-weight="bold">Reactive power(SC)</text>
<line x1="1298.1" y1="2655.4" x2="1465" y2="2655.4" stroke="#0000ff" stroke-width="5.9" stroke-linecap="round" stroke-dasharray="28.3,18.1,4.3,17.7"/>
<text transform="translate(1496,2682.6)" font-size="52.3" font-family="Liberation Serif, serif" font-weight="bold">Reactive power(NGG)</text>
<line x1="615.3" y1="2757" x2="795.2" y2="2757" stroke="#000000" stroke-width="6.0" stroke-linecap="round" stroke-dasharray="0.1,11.14"/>
<text transform="translate(813.3,2784.6) scale(0.994,1)" font-size="52.3" font-family="Liberation Serif, serif" font-weight="bold">Total active power</text>
<line x1="1308" y1="2757" x2="1491.7" y2="2757" stroke="#00ffff" stroke-width="5.9" stroke-linecap="round" stroke-dasharray="9.3,15.8"/>
<text transform="translate(1503.6,2784.6) scale(1.008,1)" font-size="52.3" font-family="Liberation Serif, serif" font-weight="bold">Total reactive power</text>
</svg>
</body></html>
